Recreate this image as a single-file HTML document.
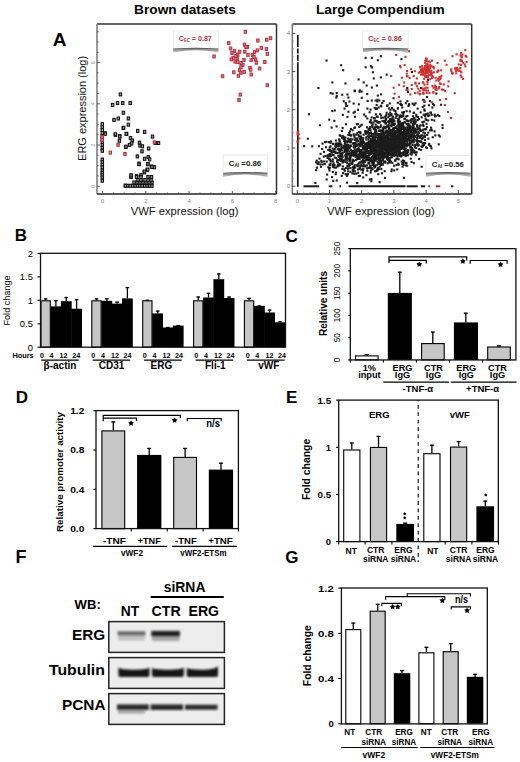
<!DOCTYPE html>
<html><head><meta charset="utf-8"><style>
html,body{margin:0;padding:0;background:#fff;}
svg{display:block;font-family:"Liberation Sans", sans-serif;}
</style></head><body>
<svg width="520" height="762" viewBox="0 0 520 762">
<rect width="520" height="762" fill="#fff"/>
<text x="59.5" y="46.0" font-size="19" font-weight="bold" text-anchor="middle" fill="#000" >A</text>
<text x="185.0" y="13.6" font-size="13" font-weight="bold" text-anchor="middle" fill="#000" textLength="101.8" lengthAdjust="spacingAndGlyphs" >Brown datasets</text>
<text x="380.3" y="13.8" font-size="13" font-weight="bold" text-anchor="middle" fill="#000" textLength="128.6" lengthAdjust="spacingAndGlyphs" >Large Compendium</text>
<line x1="97.0" y1="24.0" x2="276.5" y2="24.0" stroke="#333" stroke-width="1.5" />
<line x1="276.5" y1="24.0" x2="276.5" y2="194.0" stroke="#333" stroke-width="1.5" />
<line x1="97.0" y1="24.0" x2="97.0" y2="194.0" stroke="#777" stroke-width="1.5" />
<line x1="97.0" y1="194.0" x2="276.5" y2="194.0" stroke="#222" stroke-width="1.6" />
<line x1="97.0" y1="186.2" x2="100.0" y2="186.2" stroke="#444" stroke-width="0.8" />
<line x1="97.0" y1="175.9" x2="98.6" y2="175.9" stroke="#444" stroke-width="0.8" />
<line x1="97.0" y1="165.6" x2="98.6" y2="165.6" stroke="#444" stroke-width="0.8" />
<line x1="97.0" y1="155.3" x2="98.6" y2="155.3" stroke="#444" stroke-width="0.8" />
<line x1="97.0" y1="145.0" x2="100.0" y2="145.0" stroke="#444" stroke-width="0.8" />
<line x1="97.0" y1="134.7" x2="98.6" y2="134.7" stroke="#444" stroke-width="0.8" />
<line x1="97.0" y1="124.4" x2="98.6" y2="124.4" stroke="#444" stroke-width="0.8" />
<line x1="97.0" y1="114.1" x2="98.6" y2="114.1" stroke="#444" stroke-width="0.8" />
<line x1="97.0" y1="103.8" x2="100.0" y2="103.8" stroke="#444" stroke-width="0.8" />
<line x1="97.0" y1="93.5" x2="98.6" y2="93.5" stroke="#444" stroke-width="0.8" />
<line x1="97.0" y1="83.2" x2="98.6" y2="83.2" stroke="#444" stroke-width="0.8" />
<line x1="97.0" y1="72.9" x2="98.6" y2="72.9" stroke="#444" stroke-width="0.8" />
<line x1="97.0" y1="62.6" x2="100.0" y2="62.6" stroke="#444" stroke-width="0.8" />
<line x1="97.0" y1="52.3" x2="98.6" y2="52.3" stroke="#444" stroke-width="0.8" />
<line x1="97.0" y1="42.0" x2="98.6" y2="42.0" stroke="#444" stroke-width="0.8" />
<line x1="97.0" y1="31.7" x2="98.6" y2="31.7" stroke="#444" stroke-width="0.8" />
<text x="94.6" y="186.2" font-size="5.5" font-weight="normal" text-anchor="middle" fill="#999" transform="rotate(-90 94.6 186.2)" >0</text>
<text x="94.6" y="145.0" font-size="5.5" font-weight="normal" text-anchor="middle" fill="#999" transform="rotate(-90 94.6 145.0)" >2</text>
<text x="94.6" y="103.8" font-size="5.5" font-weight="normal" text-anchor="middle" fill="#999" transform="rotate(-90 94.6 103.8)" >4</text>
<text x="94.6" y="62.6" font-size="5.5" font-weight="normal" text-anchor="middle" fill="#999" transform="rotate(-90 94.6 62.6)" >6</text>
<line x1="102.5" y1="194.0" x2="102.5" y2="191.0" stroke="#444" stroke-width="0.8" />
<line x1="113.3" y1="194.0" x2="113.3" y2="192.4" stroke="#444" stroke-width="0.8" />
<line x1="124.2" y1="194.0" x2="124.2" y2="192.4" stroke="#444" stroke-width="0.8" />
<line x1="135.0" y1="194.0" x2="135.0" y2="192.4" stroke="#444" stroke-width="0.8" />
<line x1="145.8" y1="194.0" x2="145.8" y2="191.0" stroke="#444" stroke-width="0.8" />
<line x1="156.6" y1="194.0" x2="156.6" y2="192.4" stroke="#444" stroke-width="0.8" />
<line x1="167.4" y1="194.0" x2="167.4" y2="192.4" stroke="#444" stroke-width="0.8" />
<line x1="178.3" y1="194.0" x2="178.3" y2="192.4" stroke="#444" stroke-width="0.8" />
<line x1="189.1" y1="194.0" x2="189.1" y2="191.0" stroke="#444" stroke-width="0.8" />
<line x1="199.9" y1="194.0" x2="199.9" y2="192.4" stroke="#444" stroke-width="0.8" />
<line x1="210.8" y1="194.0" x2="210.8" y2="192.4" stroke="#444" stroke-width="0.8" />
<line x1="221.6" y1="194.0" x2="221.6" y2="192.4" stroke="#444" stroke-width="0.8" />
<line x1="232.4" y1="194.0" x2="232.4" y2="191.0" stroke="#444" stroke-width="0.8" />
<line x1="243.2" y1="194.0" x2="243.2" y2="192.4" stroke="#444" stroke-width="0.8" />
<line x1="254.0" y1="194.0" x2="254.0" y2="192.4" stroke="#444" stroke-width="0.8" />
<line x1="264.9" y1="194.0" x2="264.9" y2="192.4" stroke="#444" stroke-width="0.8" />
<line x1="275.7" y1="194.0" x2="275.7" y2="191.0" stroke="#444" stroke-width="0.8" />
<text x="102.5" y="202.6" font-size="6" font-weight="normal" text-anchor="middle" fill="#888" >0</text>
<text x="145.8" y="202.6" font-size="6" font-weight="normal" text-anchor="middle" fill="#888" >2</text>
<text x="189.1" y="202.6" font-size="6" font-weight="normal" text-anchor="middle" fill="#888" >4</text>
<text x="232.4" y="202.6" font-size="6" font-weight="normal" text-anchor="middle" fill="#888" >6</text>
<text x="275.7" y="202.6" font-size="6" font-weight="normal" text-anchor="middle" fill="#888" >8</text>
<text x="184.6" y="215.3" font-size="11.5" font-weight="normal" text-anchor="middle" fill="#111" textLength="107.7" lengthAdjust="spacingAndGlyphs" >VWF expression (log)</text>
<text x="85.8" y="108.4" font-size="11.5" font-weight="normal" text-anchor="middle" fill="#111" textLength="105.0" lengthAdjust="spacingAndGlyphs" transform="rotate(-90 85.8 108.4)" >ERG expression (log)</text>
<g fill="#999" stroke="#111" stroke-width="1.05"><rect x="119.2" y="92.9" width="2.4" height="3"/><rect x="111.4" y="103.4" width="2.4" height="3"/><rect x="116.3" y="101.5" width="2.4" height="3"/><rect x="121.5" y="101.5" width="2.4" height="3"/><rect x="129.0" y="101.5" width="2.4" height="3"/><rect x="122.2" y="111.2" width="2.4" height="3"/><rect x="112.8" y="118.4" width="2.4" height="3"/><rect x="117.1" y="117.0" width="2.4" height="3"/><rect x="127.2" y="117.0" width="2.4" height="3"/><rect x="127.2" y="123.2" width="2.4" height="3"/><rect x="122.1" y="126.5" width="2.4" height="3"/><rect x="114.3" y="133.3" width="2.4" height="3"/><rect x="118.6" y="134.7" width="2.4" height="3"/><rect x="125.4" y="132.5" width="2.4" height="3"/><rect x="129.3" y="136.6" width="2.4" height="3"/><rect x="131.1" y="139.0" width="2.4" height="3"/><rect x="130.4" y="141.9" width="2.4" height="3"/><rect x="128.3" y="143.4" width="2.4" height="3"/><rect x="124.6" y="145.5" width="2.4" height="3"/><rect x="136.5" y="129.4" width="2.4" height="3"/><rect x="143.4" y="130.4" width="2.4" height="3"/><rect x="151.3" y="135.1" width="2.4" height="3"/><rect x="138.3" y="141.2" width="2.4" height="3"/><rect x="138.8" y="144.1" width="2.4" height="3"/><rect x="141.2" y="144.8" width="2.4" height="3"/><rect x="140.8" y="149.8" width="2.4" height="3"/><rect x="147.4" y="147.0" width="2.4" height="3"/><rect x="136.2" y="154.9" width="2.4" height="3"/><rect x="143.4" y="157.3" width="2.4" height="3"/><rect x="147.0" y="155.6" width="2.4" height="3"/><rect x="148.4" y="157.8" width="2.4" height="3"/><rect x="137.9" y="162.1" width="2.4" height="3"/><rect x="146.6" y="162.5" width="2.4" height="3"/><rect x="150.3" y="165.0" width="2.4" height="3"/><rect x="153.2" y="165.7" width="2.4" height="3"/><rect x="146.0" y="168.3" width="2.4" height="3"/><rect x="143.1" y="170.8" width="2.4" height="3"/><rect x="130.1" y="174.1" width="2.4" height="3"/><rect x="135.5" y="174.7" width="2.4" height="3"/><rect x="139.8" y="173.6" width="2.4" height="3"/><rect x="103.7" y="131.8" width="2.4" height="3"/><rect x="101.1" y="122.6" width="2.4" height="3"/><rect x="101.1" y="125.6" width="2.4" height="3"/><rect x="101.1" y="128.5" width="2.4" height="3"/><rect x="101.1" y="131.5" width="2.4" height="3"/><rect x="101.1" y="134.5" width="2.4" height="3"/><rect x="101.1" y="137.4" width="2.4" height="3"/><rect x="101.1" y="140.4" width="2.4" height="3"/><rect x="101.1" y="143.4" width="2.4" height="3"/><rect x="101.1" y="146.3" width="2.4" height="3"/><rect x="101.1" y="149.3" width="2.4" height="3"/><rect x="101.1" y="158.0" width="2.4" height="3"/><rect x="101.1" y="160.6" width="2.4" height="3"/><rect x="101.1" y="163.3" width="2.4" height="3"/><rect x="101.1" y="165.9" width="2.4" height="3"/><rect x="101.1" y="169.1" width="2.4" height="3"/><rect x="101.1" y="171.4" width="2.4" height="3"/><rect x="101.1" y="173.7" width="2.4" height="3"/><rect x="101.1" y="176.0" width="2.4" height="3"/><rect x="101.1" y="179.2" width="2.4" height="3"/><rect x="104.0" y="132.3" width="2.4" height="3"/><rect x="114.1" y="132.8" width="2.4" height="3"/><rect x="118.5" y="135.1" width="2.4" height="3"/><rect x="118.2" y="139.2" width="2.4" height="3"/><rect x="122.4" y="126.3" width="2.4" height="3"/><rect x="125.1" y="132.3" width="2.4" height="3"/><rect x="124.7" y="145.2" width="2.4" height="3"/><rect x="124.2" y="184.2" width="2.4" height="3"/><rect x="154.2" y="141.5" width="2.4" height="3"/><rect x="157.3" y="141.5" width="2.4" height="3"/><rect x="124.3" y="184.3" width="2.4" height="3"/><rect x="126.7" y="184.3" width="2.4" height="3"/><rect x="129.1" y="184.3" width="2.4" height="3"/><rect x="131.5" y="184.3" width="2.4" height="3"/><rect x="133.9" y="184.3" width="2.4" height="3"/><rect x="136.3" y="184.3" width="2.4" height="3"/><rect x="138.7" y="184.3" width="2.4" height="3"/><rect x="141.1" y="184.3" width="2.4" height="3"/><rect x="143.5" y="184.3" width="2.4" height="3"/><rect x="145.9" y="184.3" width="2.4" height="3"/><rect x="148.3" y="184.3" width="2.4" height="3"/><rect x="150.7" y="184.3" width="2.4" height="3"/><rect x="132.8" y="181.0" width="2.4" height="3"/><rect x="135.8" y="181.0" width="2.4" height="3"/><rect x="138.8" y="181.0" width="2.4" height="3"/><rect x="141.8" y="181.0" width="2.4" height="3"/><rect x="144.8" y="181.0" width="2.4" height="3"/><rect x="147.8" y="181.0" width="2.4" height="3"/><rect x="150.8" y="181.0" width="2.4" height="3"/><rect x="136.8" y="178.5" width="2.4" height="3"/><rect x="139.8" y="178.5" width="2.4" height="3"/><rect x="143.8" y="178.5" width="2.4" height="3"/><rect x="146.8" y="178.5" width="2.4" height="3"/><rect x="149.8" y="178.5" width="2.4" height="3"/><rect x="129.8" y="175.5" width="2.4" height="3"/><rect x="135.3" y="175.5" width="2.4" height="3"/><rect x="139.8" y="175.5" width="2.4" height="3"/><rect x="146.8" y="175.5" width="2.4" height="3"/><rect x="150.3" y="175.5" width="2.4" height="3"/><rect x="129.8" y="173.9" width="2.4" height="3"/><rect x="143.3" y="170.0" width="2.4" height="3"/><rect x="146.5" y="168.1" width="2.4" height="3"/><rect x="150.8" y="165.5" width="2.4" height="3"/><rect x="137.8" y="162.7" width="2.4" height="3"/><rect x="146.8" y="162.7" width="2.4" height="3"/></g>
<g fill="#e87080" stroke="#b03040" stroke-width="0.95"><rect x="244.2" y="30.2" width="2.4" height="3"/><rect x="269.4" y="36.7" width="2.4" height="3"/><rect x="265.5" y="38.2" width="2.4" height="3"/><rect x="256.7" y="39.0" width="2.4" height="3"/><rect x="227.5" y="41.6" width="2.4" height="3"/><rect x="243.3" y="43.1" width="2.4" height="3"/><rect x="246.2" y="45.4" width="2.4" height="3"/><rect x="229.4" y="47.0" width="2.4" height="3"/><rect x="260.1" y="46.3" width="2.4" height="3"/><rect x="265.2" y="47.6" width="2.4" height="3"/><rect x="233.3" y="49.6" width="2.4" height="3"/><rect x="238.4" y="50.2" width="2.4" height="3"/><rect x="243.6" y="50.2" width="2.4" height="3"/><rect x="256.2" y="48.9" width="2.4" height="3"/><rect x="253.3" y="50.6" width="2.4" height="3"/><rect x="266.1" y="52.4" width="2.4" height="3"/><rect x="236.5" y="53.2" width="2.4" height="3"/><rect x="246.8" y="53.4" width="2.4" height="3"/><rect x="251.3" y="53.4" width="2.4" height="3"/><rect x="232.0" y="56.3" width="2.4" height="3"/><rect x="235.9" y="56.6" width="2.4" height="3"/><rect x="230.1" y="57.9" width="2.4" height="3"/><rect x="250.0" y="58.6" width="2.4" height="3"/><rect x="254.5" y="57.9" width="2.4" height="3"/><rect x="233.9" y="60.1" width="2.4" height="3"/><rect x="236.5" y="60.5" width="2.4" height="3"/><rect x="263.6" y="60.5" width="2.4" height="3"/><rect x="255.2" y="61.2" width="2.4" height="3"/><rect x="241.7" y="63.5" width="2.4" height="3"/><rect x="239.7" y="65.7" width="2.4" height="3"/><rect x="248.8" y="66.3" width="2.4" height="3"/><rect x="258.4" y="67.0" width="2.4" height="3"/><rect x="238.4" y="68.6" width="2.4" height="3"/><rect x="242.9" y="70.4" width="2.4" height="3"/><rect x="232.6" y="70.8" width="2.4" height="3"/><rect x="249.4" y="68.2" width="2.4" height="3"/><rect x="239.7" y="71.2" width="2.4" height="3"/><rect x="237.2" y="74.3" width="2.4" height="3"/><rect x="250.0" y="73.0" width="2.4" height="3"/><rect x="221.4" y="74.7" width="2.4" height="3"/><rect x="212.9" y="55.0" width="2.4" height="3"/><rect x="266.1" y="83.7" width="2.4" height="3"/><rect x="239.1" y="93.1" width="2.4" height="3"/><rect x="237.8" y="98.5" width="2.4" height="3"/><rect x="234.8" y="54.5" width="2.4" height="3"/><rect x="244.8" y="45.5" width="2.4" height="3"/><rect x="242.8" y="58.5" width="2.4" height="3"/><rect x="239.8" y="61.5" width="2.4" height="3"/><rect x="252.8" y="55.5" width="2.4" height="3"/><rect x="230.8" y="51.5" width="2.4" height="3"/><rect x="116.9" y="143.3" width="2.4" height="3"/><rect x="109.1" y="151.1" width="2.4" height="3"/><rect x="123.8" y="152.5" width="2.4" height="3"/><rect x="153.2" y="140.9" width="2.4" height="3"/><rect x="101.1" y="138.5" width="2.4" height="3"/><rect x="101.1" y="135.5" width="2.4" height="3"/></g>
<defs><linearGradient id="sg" x1="0" y1="0" x2="0" y2="1"><stop offset="0" stop-color="#444"/><stop offset="0.35" stop-color="#8a8a8a"/><stop offset="1" stop-color="#d0d0d0"/></linearGradient></defs>
<rect x="173.2" y="31.0" width="45.3" height="17.6" fill="#fff" stroke="#e2e2e2" stroke-width="0.7"/>
<path d="M173.2,48.4 Q195.8,47.0 218.5,48.4 L218.5,52.6 Q195.8,48.0 173.2,52.6 Z" fill="url(#sg)"/>
<text x="195.3" y="41.3" font-size="7.5" font-weight="bold" text-anchor="middle" fill="#b03040" textLength="33.0" lengthAdjust="spacingAndGlyphs">C<tspan font-size="4.5" dy="1">EC</tspan><tspan dy="-1"> = 0.87</tspan></text>
<rect x="223.1" y="155.0" width="44.4" height="17.9" fill="#fff" stroke="#e2e2e2" stroke-width="0.7"/>
<path d="M223.1,172.7 Q245.3,171.3 267.5,172.7 L267.5,176.9 Q245.3,172.3 223.1,176.9 Z" fill="url(#sg)"/>
<text x="245.0" y="166.3" font-size="7.5" font-weight="bold" text-anchor="middle" fill="#222" textLength="32.5" lengthAdjust="spacingAndGlyphs">C<tspan font-size="4.5" dy="1">AI</tspan><tspan dy="-1"> =0.86</tspan></text>
<line x1="292.3" y1="24.0" x2="471.7" y2="24.0" stroke="#333" stroke-width="1.5" />
<line x1="471.7" y1="24.0" x2="471.7" y2="194.0" stroke="#333" stroke-width="1.5" />
<line x1="292.3" y1="24.0" x2="292.3" y2="194.0" stroke="#777" stroke-width="1.5" />
<line x1="292.3" y1="194.0" x2="471.7" y2="194.0" stroke="#222" stroke-width="1.6" />
<line x1="292.3" y1="186.2" x2="295.3" y2="186.2" stroke="#333" stroke-width="0.9" />
<line x1="292.3" y1="178.6" x2="293.8" y2="178.6" stroke="#777" stroke-width="0.6" />
<line x1="292.3" y1="170.9" x2="293.8" y2="170.9" stroke="#777" stroke-width="0.6" />
<line x1="292.3" y1="163.3" x2="293.8" y2="163.3" stroke="#777" stroke-width="0.6" />
<line x1="292.3" y1="155.6" x2="293.8" y2="155.6" stroke="#777" stroke-width="0.6" />
<line x1="292.3" y1="148.0" x2="295.3" y2="148.0" stroke="#333" stroke-width="0.9" />
<line x1="292.3" y1="140.4" x2="293.8" y2="140.4" stroke="#777" stroke-width="0.6" />
<line x1="292.3" y1="132.7" x2="293.8" y2="132.7" stroke="#777" stroke-width="0.6" />
<line x1="292.3" y1="125.1" x2="293.8" y2="125.1" stroke="#777" stroke-width="0.6" />
<line x1="292.3" y1="117.4" x2="293.8" y2="117.4" stroke="#777" stroke-width="0.6" />
<line x1="292.3" y1="109.8" x2="295.3" y2="109.8" stroke="#333" stroke-width="0.9" />
<line x1="292.3" y1="102.2" x2="293.8" y2="102.2" stroke="#777" stroke-width="0.6" />
<line x1="292.3" y1="94.5" x2="293.8" y2="94.5" stroke="#777" stroke-width="0.6" />
<line x1="292.3" y1="86.9" x2="293.8" y2="86.9" stroke="#777" stroke-width="0.6" />
<line x1="292.3" y1="79.2" x2="293.8" y2="79.2" stroke="#777" stroke-width="0.6" />
<line x1="292.3" y1="71.6" x2="295.3" y2="71.6" stroke="#333" stroke-width="0.9" />
<line x1="292.3" y1="64.0" x2="293.8" y2="64.0" stroke="#777" stroke-width="0.6" />
<line x1="292.3" y1="56.3" x2="293.8" y2="56.3" stroke="#777" stroke-width="0.6" />
<line x1="292.3" y1="48.7" x2="293.8" y2="48.7" stroke="#777" stroke-width="0.6" />
<line x1="292.3" y1="41.0" x2="293.8" y2="41.0" stroke="#777" stroke-width="0.6" />
<line x1="292.3" y1="33.4" x2="295.3" y2="33.4" stroke="#333" stroke-width="0.9" />
<line x1="292.3" y1="25.8" x2="293.8" y2="25.8" stroke="#777" stroke-width="0.6" />
<text x="288.5" y="188.2" font-size="6" font-weight="normal" text-anchor="middle" fill="#777" >0</text>
<text x="288.5" y="150.0" font-size="6" font-weight="normal" text-anchor="middle" fill="#777" >1</text>
<text x="288.5" y="111.8" font-size="6" font-weight="normal" text-anchor="middle" fill="#777" >2</text>
<text x="288.5" y="73.6" font-size="6" font-weight="normal" text-anchor="middle" fill="#777" >3</text>
<text x="288.5" y="35.4" font-size="6" font-weight="normal" text-anchor="middle" fill="#777" >4</text>
<line x1="297.3" y1="194.0" x2="297.3" y2="190.0" stroke="#333" stroke-width="0.9" />
<line x1="303.7" y1="194.0" x2="303.7" y2="192.0" stroke="#777" stroke-width="0.6" />
<line x1="310.2" y1="194.0" x2="310.2" y2="192.0" stroke="#777" stroke-width="0.6" />
<line x1="316.6" y1="194.0" x2="316.6" y2="192.0" stroke="#777" stroke-width="0.6" />
<line x1="323.1" y1="194.0" x2="323.1" y2="192.0" stroke="#777" stroke-width="0.6" />
<line x1="329.5" y1="194.0" x2="329.5" y2="190.0" stroke="#333" stroke-width="0.9" />
<line x1="335.9" y1="194.0" x2="335.9" y2="192.0" stroke="#777" stroke-width="0.6" />
<line x1="342.4" y1="194.0" x2="342.4" y2="192.0" stroke="#777" stroke-width="0.6" />
<line x1="348.8" y1="194.0" x2="348.8" y2="192.0" stroke="#777" stroke-width="0.6" />
<line x1="355.3" y1="194.0" x2="355.3" y2="192.0" stroke="#777" stroke-width="0.6" />
<line x1="361.7" y1="194.0" x2="361.7" y2="190.0" stroke="#333" stroke-width="0.9" />
<line x1="368.1" y1="194.0" x2="368.1" y2="192.0" stroke="#777" stroke-width="0.6" />
<line x1="374.6" y1="194.0" x2="374.6" y2="192.0" stroke="#777" stroke-width="0.6" />
<line x1="381.0" y1="194.0" x2="381.0" y2="192.0" stroke="#777" stroke-width="0.6" />
<line x1="387.5" y1="194.0" x2="387.5" y2="192.0" stroke="#777" stroke-width="0.6" />
<line x1="393.9" y1="194.0" x2="393.9" y2="190.0" stroke="#333" stroke-width="0.9" />
<line x1="400.3" y1="194.0" x2="400.3" y2="192.0" stroke="#777" stroke-width="0.6" />
<line x1="406.8" y1="194.0" x2="406.8" y2="192.0" stroke="#777" stroke-width="0.6" />
<line x1="413.2" y1="194.0" x2="413.2" y2="192.0" stroke="#777" stroke-width="0.6" />
<line x1="419.7" y1="194.0" x2="419.7" y2="192.0" stroke="#777" stroke-width="0.6" />
<line x1="426.1" y1="194.0" x2="426.1" y2="190.0" stroke="#333" stroke-width="0.9" />
<line x1="432.5" y1="194.0" x2="432.5" y2="192.0" stroke="#777" stroke-width="0.6" />
<line x1="439.0" y1="194.0" x2="439.0" y2="192.0" stroke="#777" stroke-width="0.6" />
<line x1="445.4" y1="194.0" x2="445.4" y2="192.0" stroke="#777" stroke-width="0.6" />
<line x1="451.9" y1="194.0" x2="451.9" y2="192.0" stroke="#777" stroke-width="0.6" />
<line x1="458.3" y1="194.0" x2="458.3" y2="190.0" stroke="#333" stroke-width="0.9" />
<line x1="464.7" y1="194.0" x2="464.7" y2="192.0" stroke="#777" stroke-width="0.6" />
<text x="297.3" y="202.6" font-size="6" font-weight="normal" text-anchor="middle" fill="#888" >0</text>
<text x="329.5" y="202.6" font-size="6" font-weight="normal" text-anchor="middle" fill="#888" >1</text>
<text x="361.7" y="202.6" font-size="6" font-weight="normal" text-anchor="middle" fill="#888" >2</text>
<text x="393.9" y="202.6" font-size="6" font-weight="normal" text-anchor="middle" fill="#888" >3</text>
<text x="426.1" y="202.6" font-size="6" font-weight="normal" text-anchor="middle" fill="#888" >4</text>
<text x="458.3" y="202.6" font-size="6" font-weight="normal" text-anchor="middle" fill="#888" >5</text>
<text x="380.8" y="215.3" font-size="11.5" font-weight="normal" text-anchor="middle" fill="#111" textLength="107.7" lengthAdjust="spacingAndGlyphs" >VWF expression (log)</text>
<line x1="297.8" y1="35.0" x2="297.8" y2="186.8" stroke="#151515" stroke-width="1.7" stroke-dasharray="12,1.5,5,1.2,6,1.5,140"/>
<line x1="303.5" y1="186.3" x2="319.1" y2="186.3" stroke="#1a1a1a" stroke-width="2.0" />
<line x1="328.7" y1="186.3" x2="332.4" y2="186.3" stroke="#1a1a1a" stroke-width="2.0" />
<line x1="339.3" y1="186.3" x2="341.0" y2="186.3" stroke="#1a1a1a" stroke-width="2.0" />
<line x1="348.5" y1="186.3" x2="405.5" y2="186.3" stroke="#1a1a1a" stroke-width="2.0" />
<line x1="406.6" y1="186.3" x2="417.7" y2="186.3" stroke="#1a1a1a" stroke-width="2.0" />
<line x1="420.8" y1="186.3" x2="425.2" y2="186.3" stroke="#1a1a1a" stroke-width="2.0" />
<line x1="428.4" y1="186.3" x2="429.8" y2="186.3" stroke="#1a1a1a" stroke-width="2.0" />
<line x1="451.0" y1="186.3" x2="453.3" y2="186.3" stroke="#1a1a1a" stroke-width="2.0" />
<line x1="435.7" y1="186.3" x2="440.2" y2="186.3" stroke="#a03030" stroke-width="2.0" />
<g fill="#1c1c1c"><rect x="381.3" y="150.9" width="2.1" height="2.1"/><rect x="378.5" y="142.7" width="2.1" height="2.1"/><rect x="365.9" y="149.1" width="2.1" height="2.1"/><rect x="406.2" y="139.4" width="2.1" height="2.1"/><rect x="404.1" y="138.3" width="2.1" height="2.1"/><rect x="392.0" y="142.7" width="2.1" height="2.1"/><rect x="356.7" y="165.1" width="2.1" height="2.1"/><rect x="395.3" y="144.9" width="2.1" height="2.1"/><rect x="345.7" y="140.2" width="2.1" height="2.1"/><rect x="365.6" y="146.3" width="2.1" height="2.1"/><rect x="389.4" y="141.1" width="2.1" height="2.1"/><rect x="390.9" y="133.7" width="2.1" height="2.1"/><rect x="391.2" y="145.4" width="2.1" height="2.1"/><rect x="378.7" y="165.7" width="2.1" height="2.1"/><rect x="399.1" y="151.2" width="2.1" height="2.1"/><rect x="369.5" y="141.6" width="2.1" height="2.1"/><rect x="377.2" y="145.6" width="2.1" height="2.1"/><rect x="396.6" y="141.5" width="2.1" height="2.1"/><rect x="371.8" y="138.2" width="2.1" height="2.1"/><rect x="379.3" y="159.8" width="2.1" height="2.1"/><rect x="370.0" y="152.6" width="2.1" height="2.1"/><rect x="385.8" y="126.2" width="2.1" height="2.1"/><rect x="390.2" y="156.2" width="2.1" height="2.1"/><rect x="345.5" y="156.4" width="2.1" height="2.1"/><rect x="378.7" y="136.9" width="2.1" height="2.1"/><rect x="392.9" y="139.5" width="2.1" height="2.1"/><rect x="360.3" y="163.3" width="2.1" height="2.1"/><rect x="400.1" y="147.9" width="2.1" height="2.1"/><rect x="412.0" y="136.3" width="2.1" height="2.1"/><rect x="380.9" y="130.4" width="2.1" height="2.1"/><rect x="392.8" y="133.3" width="2.1" height="2.1"/><rect x="370.5" y="135.2" width="2.1" height="2.1"/><rect x="363.9" y="146.3" width="2.1" height="2.1"/><rect x="399.5" y="114.3" width="2.1" height="2.1"/><rect x="358.0" y="157.6" width="2.1" height="2.1"/><rect x="412.9" y="138.4" width="2.1" height="2.1"/><rect x="338.7" y="134.3" width="2.1" height="2.1"/><rect x="387.5" y="134.1" width="2.1" height="2.1"/><rect x="367.3" y="162.1" width="2.1" height="2.1"/><rect x="404.9" y="136.9" width="2.1" height="2.1"/><rect x="390.2" y="146.3" width="2.1" height="2.1"/><rect x="415.9" y="137.6" width="2.1" height="2.1"/><rect x="395.7" y="145.2" width="2.1" height="2.1"/><rect x="360.2" y="168.5" width="2.1" height="2.1"/><rect x="403.7" y="141.7" width="2.1" height="2.1"/><rect x="345.0" y="153.1" width="2.1" height="2.1"/><rect x="392.1" y="119.9" width="2.1" height="2.1"/><rect x="384.7" y="155.2" width="2.1" height="2.1"/><rect x="366.3" y="169.7" width="2.1" height="2.1"/><rect x="393.5" y="138.2" width="2.1" height="2.1"/><rect x="392.6" y="147.7" width="2.1" height="2.1"/><rect x="390.8" y="154.1" width="2.1" height="2.1"/><rect x="370.1" y="145.1" width="2.1" height="2.1"/><rect x="403.3" y="136.1" width="2.1" height="2.1"/><rect x="371.6" y="159.9" width="2.1" height="2.1"/><rect x="409.2" y="128.3" width="2.1" height="2.1"/><rect x="358.0" y="153.3" width="2.1" height="2.1"/><rect x="380.0" y="142.2" width="2.1" height="2.1"/><rect x="405.7" y="123.1" width="2.1" height="2.1"/><rect x="402.0" y="121.9" width="2.1" height="2.1"/><rect x="372.0" y="156.2" width="2.1" height="2.1"/><rect x="408.3" y="143.5" width="2.1" height="2.1"/><rect x="390.9" y="142.7" width="2.1" height="2.1"/><rect x="389.1" y="148.3" width="2.1" height="2.1"/><rect x="381.8" y="148.0" width="2.1" height="2.1"/><rect x="394.5" y="139.5" width="2.1" height="2.1"/><rect x="400.3" y="143.5" width="2.1" height="2.1"/><rect x="422.3" y="131.5" width="2.1" height="2.1"/><rect x="374.6" y="143.7" width="2.1" height="2.1"/><rect x="387.5" y="153.0" width="2.1" height="2.1"/><rect x="379.3" y="150.3" width="2.1" height="2.1"/><rect x="407.4" y="104.9" width="2.1" height="2.1"/><rect x="364.2" y="155.0" width="2.1" height="2.1"/><rect x="392.3" y="143.2" width="2.1" height="2.1"/><rect x="378.7" y="153.6" width="2.1" height="2.1"/><rect x="387.0" y="136.7" width="2.1" height="2.1"/><rect x="430.2" y="128.6" width="2.1" height="2.1"/><rect x="373.3" y="147.3" width="2.1" height="2.1"/><rect x="379.5" y="145.1" width="2.1" height="2.1"/><rect x="331.7" y="160.4" width="2.1" height="2.1"/><rect x="397.8" y="124.8" width="2.1" height="2.1"/><rect x="386.6" y="153.7" width="2.1" height="2.1"/><rect x="405.8" y="151.8" width="2.1" height="2.1"/><rect x="351.1" y="153.7" width="2.1" height="2.1"/><rect x="380.2" y="152.6" width="2.1" height="2.1"/><rect x="393.2" y="109.5" width="2.1" height="2.1"/><rect x="398.1" y="121.5" width="2.1" height="2.1"/><rect x="390.5" y="124.2" width="2.1" height="2.1"/><rect x="392.1" y="154.2" width="2.1" height="2.1"/><rect x="382.0" y="147.0" width="2.1" height="2.1"/><rect x="399.2" y="139.1" width="2.1" height="2.1"/><rect x="388.6" y="159.5" width="2.1" height="2.1"/><rect x="402.1" y="133.0" width="2.1" height="2.1"/><rect x="429.9" y="111.6" width="2.1" height="2.1"/><rect x="399.7" y="134.3" width="2.1" height="2.1"/><rect x="389.3" y="149.7" width="2.1" height="2.1"/><rect x="390.6" y="148.4" width="2.1" height="2.1"/><rect x="349.6" y="141.2" width="2.1" height="2.1"/><rect x="391.4" y="129.9" width="2.1" height="2.1"/><rect x="359.0" y="137.7" width="2.1" height="2.1"/><rect x="410.3" y="141.4" width="2.1" height="2.1"/><rect x="407.3" y="123.5" width="2.1" height="2.1"/><rect x="379.3" y="132.9" width="2.1" height="2.1"/><rect x="404.5" y="153.4" width="2.1" height="2.1"/><rect x="373.9" y="165.9" width="2.1" height="2.1"/><rect x="401.4" y="134.6" width="2.1" height="2.1"/><rect x="353.3" y="172.8" width="2.1" height="2.1"/><rect x="379.7" y="138.9" width="2.1" height="2.1"/><rect x="393.0" y="144.8" width="2.1" height="2.1"/><rect x="407.4" y="122.5" width="2.1" height="2.1"/><rect x="410.9" y="149.5" width="2.1" height="2.1"/><rect x="410.0" y="131.0" width="2.1" height="2.1"/><rect x="374.4" y="159.6" width="2.1" height="2.1"/><rect x="386.6" y="144.3" width="2.1" height="2.1"/><rect x="409.1" y="130.4" width="2.1" height="2.1"/><rect x="340.0" y="158.0" width="2.1" height="2.1"/><rect x="353.1" y="166.2" width="2.1" height="2.1"/><rect x="387.3" y="135.6" width="2.1" height="2.1"/><rect x="387.2" y="152.1" width="2.1" height="2.1"/><rect x="390.8" y="156.2" width="2.1" height="2.1"/><rect x="387.0" y="154.5" width="2.1" height="2.1"/><rect x="418.0" y="148.0" width="2.1" height="2.1"/><rect x="375.1" y="157.7" width="2.1" height="2.1"/><rect x="345.0" y="148.0" width="2.1" height="2.1"/><rect x="352.1" y="169.5" width="2.1" height="2.1"/><rect x="361.2" y="153.4" width="2.1" height="2.1"/><rect x="380.3" y="145.2" width="2.1" height="2.1"/><rect x="374.0" y="150.8" width="2.1" height="2.1"/><rect x="417.2" y="130.5" width="2.1" height="2.1"/><rect x="397.8" y="149.5" width="2.1" height="2.1"/><rect x="375.2" y="133.3" width="2.1" height="2.1"/><rect x="378.1" y="158.6" width="2.1" height="2.1"/><rect x="351.2" y="150.9" width="2.1" height="2.1"/><rect x="405.7" y="143.8" width="2.1" height="2.1"/><rect x="387.4" y="151.7" width="2.1" height="2.1"/><rect x="382.2" y="131.3" width="2.1" height="2.1"/><rect x="352.5" y="149.9" width="2.1" height="2.1"/><rect x="398.7" y="131.3" width="2.1" height="2.1"/><rect x="364.2" y="143.5" width="2.1" height="2.1"/><rect x="355.2" y="154.7" width="2.1" height="2.1"/><rect x="363.7" y="156.6" width="2.1" height="2.1"/><rect x="341.8" y="165.4" width="2.1" height="2.1"/><rect x="364.2" y="130.1" width="2.1" height="2.1"/><rect x="396.2" y="135.7" width="2.1" height="2.1"/><rect x="339.3" y="152.7" width="2.1" height="2.1"/><rect x="387.5" y="137.3" width="2.1" height="2.1"/><rect x="401.4" y="145.1" width="2.1" height="2.1"/><rect x="397.6" y="142.0" width="2.1" height="2.1"/><rect x="411.2" y="140.0" width="2.1" height="2.1"/><rect x="383.8" y="120.3" width="2.1" height="2.1"/><rect x="405.8" y="149.7" width="2.1" height="2.1"/><rect x="376.6" y="141.7" width="2.1" height="2.1"/><rect x="412.6" y="111.9" width="2.1" height="2.1"/><rect x="402.5" y="163.8" width="2.1" height="2.1"/><rect x="369.6" y="157.8" width="2.1" height="2.1"/><rect x="418.2" y="128.2" width="2.1" height="2.1"/><rect x="398.0" y="148.3" width="2.1" height="2.1"/><rect x="366.9" y="150.1" width="2.1" height="2.1"/><rect x="392.7" y="149.7" width="2.1" height="2.1"/><rect x="382.5" y="142.3" width="2.1" height="2.1"/><rect x="363.8" y="148.3" width="2.1" height="2.1"/><rect x="400.8" y="138.0" width="2.1" height="2.1"/><rect x="364.8" y="142.4" width="2.1" height="2.1"/><rect x="437.8" y="134.3" width="2.1" height="2.1"/><rect x="385.2" y="113.9" width="2.1" height="2.1"/><rect x="397.4" y="143.8" width="2.1" height="2.1"/><rect x="416.7" y="135.0" width="2.1" height="2.1"/><rect x="384.8" y="149.5" width="2.1" height="2.1"/><rect x="352.3" y="169.0" width="2.1" height="2.1"/><rect x="387.1" y="134.6" width="2.1" height="2.1"/><rect x="415.7" y="151.2" width="2.1" height="2.1"/><rect x="355.4" y="148.4" width="2.1" height="2.1"/><rect x="390.1" y="143.5" width="2.1" height="2.1"/><rect x="372.6" y="137.6" width="2.1" height="2.1"/><rect x="427.3" y="137.6" width="2.1" height="2.1"/><rect x="356.5" y="140.2" width="2.1" height="2.1"/><rect x="419.4" y="140.3" width="2.1" height="2.1"/><rect x="420.8" y="137.7" width="2.1" height="2.1"/><rect x="368.9" y="153.2" width="2.1" height="2.1"/><rect x="341.1" y="153.4" width="2.1" height="2.1"/><rect x="385.0" y="149.5" width="2.1" height="2.1"/><rect x="370.0" y="148.4" width="2.1" height="2.1"/><rect x="393.9" y="144.0" width="2.1" height="2.1"/><rect x="396.6" y="141.0" width="2.1" height="2.1"/><rect x="381.2" y="154.1" width="2.1" height="2.1"/><rect x="381.5" y="135.6" width="2.1" height="2.1"/><rect x="372.4" y="148.8" width="2.1" height="2.1"/><rect x="382.6" y="146.3" width="2.1" height="2.1"/><rect x="384.7" y="145.7" width="2.1" height="2.1"/><rect x="376.4" y="132.8" width="2.1" height="2.1"/><rect x="396.0" y="150.9" width="2.1" height="2.1"/><rect x="391.2" y="138.8" width="2.1" height="2.1"/><rect x="388.3" y="131.1" width="2.1" height="2.1"/><rect x="349.2" y="159.2" width="2.1" height="2.1"/><rect x="369.8" y="158.3" width="2.1" height="2.1"/><rect x="353.3" y="126.9" width="2.1" height="2.1"/><rect x="371.2" y="167.3" width="2.1" height="2.1"/><rect x="371.3" y="133.6" width="2.1" height="2.1"/><rect x="372.0" y="154.9" width="2.1" height="2.1"/><rect x="393.8" y="141.8" width="2.1" height="2.1"/><rect x="414.2" y="139.3" width="2.1" height="2.1"/><rect x="386.0" y="149.9" width="2.1" height="2.1"/><rect x="418.4" y="140.5" width="2.1" height="2.1"/><rect x="398.4" y="125.5" width="2.1" height="2.1"/><rect x="384.2" y="152.2" width="2.1" height="2.1"/><rect x="382.8" y="156.6" width="2.1" height="2.1"/><rect x="398.6" y="148.1" width="2.1" height="2.1"/><rect x="390.4" y="170.2" width="2.1" height="2.1"/><rect x="405.9" y="132.3" width="2.1" height="2.1"/><rect x="396.2" y="168.4" width="2.1" height="2.1"/><rect x="381.2" y="155.1" width="2.1" height="2.1"/><rect x="402.1" y="136.4" width="2.1" height="2.1"/><rect x="363.2" y="154.8" width="2.1" height="2.1"/><rect x="395.2" y="152.1" width="2.1" height="2.1"/><rect x="398.5" y="138.1" width="2.1" height="2.1"/><rect x="401.9" y="142.6" width="2.1" height="2.1"/><rect x="388.0" y="142.9" width="2.1" height="2.1"/><rect x="382.3" y="152.5" width="2.1" height="2.1"/><rect x="362.0" y="146.0" width="2.1" height="2.1"/><rect x="378.1" y="129.7" width="2.1" height="2.1"/><rect x="367.7" y="127.9" width="2.1" height="2.1"/><rect x="373.7" y="154.7" width="2.1" height="2.1"/><rect x="394.2" y="139.0" width="2.1" height="2.1"/><rect x="373.9" y="132.0" width="2.1" height="2.1"/><rect x="419.8" y="134.8" width="2.1" height="2.1"/><rect x="400.5" y="126.9" width="2.1" height="2.1"/><rect x="373.1" y="127.8" width="2.1" height="2.1"/><rect x="402.1" y="147.0" width="2.1" height="2.1"/><rect x="348.8" y="158.1" width="2.1" height="2.1"/><rect x="388.4" y="122.0" width="2.1" height="2.1"/><rect x="346.0" y="147.8" width="2.1" height="2.1"/><rect x="366.6" y="135.2" width="2.1" height="2.1"/><rect x="385.5" y="146.1" width="2.1" height="2.1"/><rect x="398.5" y="145.8" width="2.1" height="2.1"/><rect x="416.4" y="143.6" width="2.1" height="2.1"/><rect x="357.7" y="149.2" width="2.1" height="2.1"/><rect x="360.0" y="141.7" width="2.1" height="2.1"/><rect x="382.5" y="144.6" width="2.1" height="2.1"/><rect x="386.5" y="124.8" width="2.1" height="2.1"/><rect x="361.0" y="153.3" width="2.1" height="2.1"/><rect x="379.0" y="142.5" width="2.1" height="2.1"/><rect x="379.7" y="137.1" width="2.1" height="2.1"/><rect x="398.3" y="141.9" width="2.1" height="2.1"/><rect x="379.6" y="138.1" width="2.1" height="2.1"/><rect x="369.7" y="119.0" width="2.1" height="2.1"/><rect x="366.0" y="151.9" width="2.1" height="2.1"/><rect x="357.0" y="157.5" width="2.1" height="2.1"/><rect x="381.1" y="129.5" width="2.1" height="2.1"/><rect x="378.1" y="142.9" width="2.1" height="2.1"/><rect x="394.9" y="146.3" width="2.1" height="2.1"/><rect x="379.8" y="136.0" width="2.1" height="2.1"/><rect x="381.0" y="144.4" width="2.1" height="2.1"/><rect x="398.7" y="141.1" width="2.1" height="2.1"/><rect x="365.1" y="136.4" width="2.1" height="2.1"/><rect x="374.1" y="139.7" width="2.1" height="2.1"/><rect x="363.0" y="151.4" width="2.1" height="2.1"/><rect x="375.3" y="148.8" width="2.1" height="2.1"/><rect x="391.9" y="135.9" width="2.1" height="2.1"/><rect x="425.5" y="122.8" width="2.1" height="2.1"/><rect x="404.8" y="136.6" width="2.1" height="2.1"/><rect x="394.9" y="112.3" width="2.1" height="2.1"/><rect x="371.1" y="152.2" width="2.1" height="2.1"/><rect x="404.6" y="161.9" width="2.1" height="2.1"/><rect x="395.1" y="153.8" width="2.1" height="2.1"/><rect x="401.9" y="147.2" width="2.1" height="2.1"/><rect x="392.7" y="138.5" width="2.1" height="2.1"/><rect x="389.0" y="129.6" width="2.1" height="2.1"/><rect x="401.6" y="125.0" width="2.1" height="2.1"/><rect x="397.2" y="162.6" width="2.1" height="2.1"/><rect x="379.9" y="145.9" width="2.1" height="2.1"/><rect x="405.5" y="135.2" width="2.1" height="2.1"/><rect x="370.1" y="152.7" width="2.1" height="2.1"/><rect x="397.6" y="146.3" width="2.1" height="2.1"/><rect x="376.8" y="166.9" width="2.1" height="2.1"/><rect x="414.8" y="131.2" width="2.1" height="2.1"/><rect x="387.2" y="137.7" width="2.1" height="2.1"/><rect x="407.2" y="126.2" width="2.1" height="2.1"/><rect x="394.4" y="134.1" width="2.1" height="2.1"/><rect x="374.1" y="156.3" width="2.1" height="2.1"/><rect x="408.5" y="133.5" width="2.1" height="2.1"/><rect x="374.8" y="157.1" width="2.1" height="2.1"/><rect x="384.3" y="147.3" width="2.1" height="2.1"/><rect x="416.6" y="143.1" width="2.1" height="2.1"/><rect x="383.6" y="170.1" width="2.1" height="2.1"/><rect x="387.2" y="151.5" width="2.1" height="2.1"/><rect x="371.8" y="148.5" width="2.1" height="2.1"/><rect x="358.9" y="174.8" width="2.1" height="2.1"/><rect x="404.2" y="121.6" width="2.1" height="2.1"/><rect x="349.6" y="139.9" width="2.1" height="2.1"/><rect x="403.8" y="130.4" width="2.1" height="2.1"/><rect x="381.6" y="141.4" width="2.1" height="2.1"/><rect x="377.3" y="134.4" width="2.1" height="2.1"/><rect x="378.5" y="129.8" width="2.1" height="2.1"/><rect x="383.9" y="147.5" width="2.1" height="2.1"/><rect x="391.6" y="138.1" width="2.1" height="2.1"/><rect x="367.9" y="152.5" width="2.1" height="2.1"/><rect x="381.4" y="162.9" width="2.1" height="2.1"/><rect x="397.6" y="136.9" width="2.1" height="2.1"/><rect x="372.4" y="140.8" width="2.1" height="2.1"/><rect x="365.2" y="147.8" width="2.1" height="2.1"/><rect x="391.5" y="146.7" width="2.1" height="2.1"/><rect x="403.0" y="159.9" width="2.1" height="2.1"/><rect x="371.0" y="149.5" width="2.1" height="2.1"/><rect x="427.9" y="104.2" width="2.1" height="2.1"/><rect x="375.0" y="149.6" width="2.1" height="2.1"/><rect x="388.5" y="146.7" width="2.1" height="2.1"/><rect x="381.0" y="149.3" width="2.1" height="2.1"/><rect x="388.1" y="151.0" width="2.1" height="2.1"/><rect x="345.5" y="150.0" width="2.1" height="2.1"/><rect x="379.7" y="134.0" width="2.1" height="2.1"/><rect x="367.2" y="158.1" width="2.1" height="2.1"/><rect x="374.5" y="155.1" width="2.1" height="2.1"/><rect x="398.9" y="141.1" width="2.1" height="2.1"/><rect x="392.9" y="139.0" width="2.1" height="2.1"/><rect x="357.8" y="154.6" width="2.1" height="2.1"/><rect x="390.2" y="135.3" width="2.1" height="2.1"/><rect x="385.2" y="152.0" width="2.1" height="2.1"/><rect x="370.4" y="156.9" width="2.1" height="2.1"/><rect x="416.0" y="124.2" width="2.1" height="2.1"/><rect x="386.0" y="141.4" width="2.1" height="2.1"/><rect x="413.6" y="135.1" width="2.1" height="2.1"/><rect x="397.7" y="130.3" width="2.1" height="2.1"/><rect x="383.6" y="144.0" width="2.1" height="2.1"/><rect x="357.1" y="171.7" width="2.1" height="2.1"/><rect x="393.4" y="120.1" width="2.1" height="2.1"/><rect x="397.1" y="136.9" width="2.1" height="2.1"/><rect x="393.7" y="144.0" width="2.1" height="2.1"/><rect x="355.4" y="153.5" width="2.1" height="2.1"/><rect x="409.1" y="126.8" width="2.1" height="2.1"/><rect x="359.6" y="138.7" width="2.1" height="2.1"/><rect x="362.8" y="156.7" width="2.1" height="2.1"/><rect x="416.9" y="135.0" width="2.1" height="2.1"/><rect x="397.6" y="163.7" width="2.1" height="2.1"/><rect x="371.6" y="141.4" width="2.1" height="2.1"/><rect x="395.9" y="145.2" width="2.1" height="2.1"/><rect x="360.5" y="140.5" width="2.1" height="2.1"/><rect x="390.3" y="144.1" width="2.1" height="2.1"/><rect x="359.0" y="152.1" width="2.1" height="2.1"/><rect x="375.8" y="152.6" width="2.1" height="2.1"/><rect x="381.4" y="144.0" width="2.1" height="2.1"/><rect x="381.7" y="156.9" width="2.1" height="2.1"/><rect x="408.1" y="129.6" width="2.1" height="2.1"/><rect x="396.5" y="130.1" width="2.1" height="2.1"/><rect x="388.3" y="150.7" width="2.1" height="2.1"/><rect x="410.3" y="128.5" width="2.1" height="2.1"/><rect x="383.4" y="146.4" width="2.1" height="2.1"/><rect x="356.4" y="155.7" width="2.1" height="2.1"/><rect x="373.0" y="152.8" width="2.1" height="2.1"/><rect x="355.1" y="133.6" width="2.1" height="2.1"/><rect x="385.7" y="146.2" width="2.1" height="2.1"/><rect x="377.4" y="156.8" width="2.1" height="2.1"/><rect x="376.5" y="140.2" width="2.1" height="2.1"/><rect x="386.4" y="125.1" width="2.1" height="2.1"/><rect x="371.4" y="149.0" width="2.1" height="2.1"/><rect x="398.9" y="135.8" width="2.1" height="2.1"/><rect x="387.0" y="135.2" width="2.1" height="2.1"/><rect x="396.3" y="157.7" width="2.1" height="2.1"/><rect x="380.9" y="172.2" width="2.1" height="2.1"/><rect x="372.1" y="149.1" width="2.1" height="2.1"/><rect x="391.3" y="152.5" width="2.1" height="2.1"/><rect x="352.6" y="133.2" width="2.1" height="2.1"/><rect x="398.4" y="147.0" width="2.1" height="2.1"/><rect x="406.1" y="164.6" width="2.1" height="2.1"/><rect x="388.8" y="144.8" width="2.1" height="2.1"/><rect x="402.6" y="140.3" width="2.1" height="2.1"/><rect x="409.6" y="119.1" width="2.1" height="2.1"/><rect x="363.0" y="113.5" width="2.1" height="2.1"/><rect x="397.4" y="134.1" width="2.1" height="2.1"/><rect x="409.7" y="157.6" width="2.1" height="2.1"/><rect x="382.8" y="141.5" width="2.1" height="2.1"/><rect x="371.3" y="139.7" width="2.1" height="2.1"/><rect x="374.9" y="155.0" width="2.1" height="2.1"/><rect x="384.9" y="144.3" width="2.1" height="2.1"/><rect x="384.5" y="154.1" width="2.1" height="2.1"/><rect x="392.5" y="138.8" width="2.1" height="2.1"/><rect x="395.6" y="137.3" width="2.1" height="2.1"/><rect x="368.6" y="167.0" width="2.1" height="2.1"/><rect x="388.6" y="131.1" width="2.1" height="2.1"/><rect x="405.2" y="138.9" width="2.1" height="2.1"/><rect x="361.6" y="171.7" width="2.1" height="2.1"/><rect x="393.7" y="150.0" width="2.1" height="2.1"/><rect x="387.0" y="141.0" width="2.1" height="2.1"/><rect x="359.4" y="165.3" width="2.1" height="2.1"/><rect x="383.3" y="140.9" width="2.1" height="2.1"/><rect x="390.7" y="142.0" width="2.1" height="2.1"/><rect x="394.9" y="135.1" width="2.1" height="2.1"/><rect x="374.6" y="123.5" width="2.1" height="2.1"/><rect x="378.9" y="153.8" width="2.1" height="2.1"/><rect x="407.1" y="130.1" width="2.1" height="2.1"/><rect x="388.2" y="160.2" width="2.1" height="2.1"/><rect x="380.9" y="153.6" width="2.1" height="2.1"/><rect x="415.1" y="131.3" width="2.1" height="2.1"/><rect x="403.7" y="127.6" width="2.1" height="2.1"/><rect x="387.5" y="141.6" width="2.1" height="2.1"/><rect x="390.7" y="154.0" width="2.1" height="2.1"/><rect x="425.3" y="119.0" width="2.1" height="2.1"/><rect x="375.4" y="153.2" width="2.1" height="2.1"/><rect x="366.5" y="156.9" width="2.1" height="2.1"/><rect x="393.4" y="136.8" width="2.1" height="2.1"/><rect x="387.4" y="124.8" width="2.1" height="2.1"/><rect x="391.7" y="123.1" width="2.1" height="2.1"/><rect x="368.8" y="144.0" width="2.1" height="2.1"/><rect x="380.0" y="155.4" width="2.1" height="2.1"/><rect x="383.8" y="139.5" width="2.1" height="2.1"/><rect x="400.4" y="155.0" width="2.1" height="2.1"/><rect x="385.6" y="147.4" width="2.1" height="2.1"/><rect x="407.9" y="136.9" width="2.1" height="2.1"/><rect x="370.4" y="178.0" width="2.1" height="2.1"/><rect x="416.6" y="107.6" width="2.1" height="2.1"/><rect x="384.9" y="148.3" width="2.1" height="2.1"/><rect x="404.5" y="142.9" width="2.1" height="2.1"/><rect x="374.6" y="135.9" width="2.1" height="2.1"/><rect x="390.1" y="153.2" width="2.1" height="2.1"/><rect x="359.7" y="142.4" width="2.1" height="2.1"/><rect x="375.6" y="125.4" width="2.1" height="2.1"/><rect x="377.4" y="141.7" width="2.1" height="2.1"/><rect x="389.4" y="133.7" width="2.1" height="2.1"/><rect x="366.1" y="147.0" width="2.1" height="2.1"/><rect x="380.3" y="137.9" width="2.1" height="2.1"/><rect x="387.2" y="151.1" width="2.1" height="2.1"/><rect x="412.7" y="151.3" width="2.1" height="2.1"/><rect x="367.8" y="146.0" width="2.1" height="2.1"/><rect x="345.9" y="181.6" width="2.1" height="2.1"/><rect x="370.5" y="149.2" width="2.1" height="2.1"/><rect x="388.1" y="126.8" width="2.1" height="2.1"/><rect x="392.4" y="140.1" width="2.1" height="2.1"/><rect x="351.5" y="160.9" width="2.1" height="2.1"/><rect x="398.4" y="116.6" width="2.1" height="2.1"/><rect x="399.7" y="139.7" width="2.1" height="2.1"/><rect x="394.5" y="144.5" width="2.1" height="2.1"/><rect x="407.1" y="131.7" width="2.1" height="2.1"/><rect x="398.4" y="133.2" width="2.1" height="2.1"/><rect x="394.1" y="130.4" width="2.1" height="2.1"/><rect x="389.0" y="161.5" width="2.1" height="2.1"/><rect x="391.5" y="139.0" width="2.1" height="2.1"/><rect x="359.6" y="145.2" width="2.1" height="2.1"/><rect x="391.3" y="151.5" width="2.1" height="2.1"/><rect x="393.9" y="145.7" width="2.1" height="2.1"/><rect x="388.7" y="157.4" width="2.1" height="2.1"/><rect x="374.5" y="141.7" width="2.1" height="2.1"/><rect x="400.6" y="137.7" width="2.1" height="2.1"/><rect x="376.5" y="140.5" width="2.1" height="2.1"/><rect x="381.7" y="152.0" width="2.1" height="2.1"/><rect x="385.6" y="129.5" width="2.1" height="2.1"/><rect x="392.5" y="142.4" width="2.1" height="2.1"/><rect x="368.6" y="159.2" width="2.1" height="2.1"/><rect x="377.4" y="142.9" width="2.1" height="2.1"/><rect x="404.0" y="150.6" width="2.1" height="2.1"/><rect x="373.0" y="153.5" width="2.1" height="2.1"/><rect x="377.2" y="173.1" width="2.1" height="2.1"/><rect x="379.7" y="159.3" width="2.1" height="2.1"/><rect x="375.3" y="156.8" width="2.1" height="2.1"/><rect x="414.5" y="102.2" width="2.1" height="2.1"/><rect x="378.0" y="152.2" width="2.1" height="2.1"/><rect x="379.5" y="138.2" width="2.1" height="2.1"/><rect x="424.0" y="128.1" width="2.1" height="2.1"/><rect x="357.1" y="165.0" width="2.1" height="2.1"/><rect x="356.9" y="168.4" width="2.1" height="2.1"/><rect x="373.9" y="149.8" width="2.1" height="2.1"/><rect x="407.7" y="135.3" width="2.1" height="2.1"/><rect x="351.4" y="138.3" width="2.1" height="2.1"/><rect x="408.8" y="142.0" width="2.1" height="2.1"/><rect x="372.4" y="158.6" width="2.1" height="2.1"/><rect x="395.7" y="146.4" width="2.1" height="2.1"/><rect x="341.1" y="158.5" width="2.1" height="2.1"/><rect x="403.5" y="144.1" width="2.1" height="2.1"/><rect x="390.2" y="113.3" width="2.1" height="2.1"/><rect x="389.1" y="147.4" width="2.1" height="2.1"/><rect x="427.1" y="115.0" width="2.1" height="2.1"/><rect x="378.0" y="146.8" width="2.1" height="2.1"/><rect x="398.5" y="132.8" width="2.1" height="2.1"/><rect x="401.9" y="127.4" width="2.1" height="2.1"/><rect x="386.7" y="136.8" width="2.1" height="2.1"/><rect x="384.1" y="136.0" width="2.1" height="2.1"/><rect x="358.9" y="166.9" width="2.1" height="2.1"/><rect x="387.3" y="136.2" width="2.1" height="2.1"/><rect x="391.7" y="152.0" width="2.1" height="2.1"/><rect x="365.5" y="150.5" width="2.1" height="2.1"/><rect x="396.0" y="144.9" width="2.1" height="2.1"/><rect x="369.2" y="126.1" width="2.1" height="2.1"/><rect x="408.2" y="137.5" width="2.1" height="2.1"/><rect x="383.1" y="141.2" width="2.1" height="2.1"/><rect x="387.1" y="137.8" width="2.1" height="2.1"/><rect x="362.0" y="144.7" width="2.1" height="2.1"/><rect x="370.5" y="142.6" width="2.1" height="2.1"/><rect x="365.2" y="159.1" width="2.1" height="2.1"/><rect x="362.5" y="160.5" width="2.1" height="2.1"/><rect x="366.7" y="155.2" width="2.1" height="2.1"/><rect x="410.1" y="135.3" width="2.1" height="2.1"/><rect x="370.7" y="150.1" width="2.1" height="2.1"/><rect x="379.6" y="126.0" width="2.1" height="2.1"/><rect x="373.4" y="150.2" width="2.1" height="2.1"/><rect x="375.6" y="148.4" width="2.1" height="2.1"/><rect x="400.6" y="145.7" width="2.1" height="2.1"/><rect x="403.0" y="142.6" width="2.1" height="2.1"/><rect x="378.6" y="146.0" width="2.1" height="2.1"/><rect x="377.7" y="143.0" width="2.1" height="2.1"/><rect x="373.6" y="128.6" width="2.1" height="2.1"/><rect x="377.7" y="146.3" width="2.1" height="2.1"/><rect x="365.9" y="151.3" width="2.1" height="2.1"/><rect x="392.8" y="138.4" width="2.1" height="2.1"/><rect x="411.6" y="102.6" width="2.1" height="2.1"/><rect x="372.7" y="127.9" width="2.1" height="2.1"/><rect x="412.8" y="162.1" width="2.1" height="2.1"/><rect x="338.3" y="164.6" width="2.1" height="2.1"/><rect x="392.3" y="137.0" width="2.1" height="2.1"/><rect x="385.0" y="118.0" width="2.1" height="2.1"/><rect x="401.2" y="141.0" width="2.1" height="2.1"/><rect x="382.0" y="138.1" width="2.1" height="2.1"/><rect x="393.7" y="134.3" width="2.1" height="2.1"/><rect x="386.0" y="137.3" width="2.1" height="2.1"/><rect x="342.4" y="161.0" width="2.1" height="2.1"/><rect x="390.7" y="149.7" width="2.1" height="2.1"/><rect x="367.7" y="150.4" width="2.1" height="2.1"/><rect x="395.9" y="140.6" width="2.1" height="2.1"/><rect x="415.0" y="153.6" width="2.1" height="2.1"/><rect x="359.4" y="132.4" width="2.1" height="2.1"/><rect x="406.0" y="152.1" width="2.1" height="2.1"/><rect x="404.3" y="144.7" width="2.1" height="2.1"/><rect x="369.6" y="141.8" width="2.1" height="2.1"/><rect x="396.6" y="128.2" width="2.1" height="2.1"/><rect x="346.5" y="148.3" width="2.1" height="2.1"/><rect x="437.7" y="143.3" width="2.1" height="2.1"/><rect x="368.3" y="142.2" width="2.1" height="2.1"/><rect x="385.2" y="134.9" width="2.1" height="2.1"/><rect x="407.8" y="133.0" width="2.1" height="2.1"/><rect x="369.2" y="165.0" width="2.1" height="2.1"/><rect x="374.1" y="150.6" width="2.1" height="2.1"/><rect x="382.4" y="141.0" width="2.1" height="2.1"/><rect x="387.1" y="134.7" width="2.1" height="2.1"/><rect x="341.0" y="136.9" width="2.1" height="2.1"/><rect x="357.5" y="146.4" width="2.1" height="2.1"/><rect x="383.8" y="144.7" width="2.1" height="2.1"/><rect x="394.7" y="140.8" width="2.1" height="2.1"/><rect x="366.4" y="143.2" width="2.1" height="2.1"/><rect x="344.2" y="158.7" width="2.1" height="2.1"/><rect x="395.0" y="145.3" width="2.1" height="2.1"/><rect x="381.0" y="143.2" width="2.1" height="2.1"/><rect x="401.3" y="136.8" width="2.1" height="2.1"/><rect x="399.9" y="143.9" width="2.1" height="2.1"/><rect x="393.2" y="154.9" width="2.1" height="2.1"/><rect x="371.9" y="144.9" width="2.1" height="2.1"/><rect x="365.8" y="142.5" width="2.1" height="2.1"/><rect x="419.8" y="148.9" width="2.1" height="2.1"/><rect x="386.7" y="149.3" width="2.1" height="2.1"/><rect x="408.9" y="142.7" width="2.1" height="2.1"/><rect x="401.0" y="122.4" width="2.1" height="2.1"/><rect x="374.0" y="153.3" width="2.1" height="2.1"/><rect x="410.8" y="133.8" width="2.1" height="2.1"/><rect x="366.7" y="147.2" width="2.1" height="2.1"/><rect x="368.3" y="140.8" width="2.1" height="2.1"/><rect x="409.1" y="126.3" width="2.1" height="2.1"/><rect x="393.1" y="164.7" width="2.1" height="2.1"/><rect x="407.2" y="138.0" width="2.1" height="2.1"/><rect x="374.3" y="152.7" width="2.1" height="2.1"/><rect x="416.4" y="137.4" width="2.1" height="2.1"/><rect x="407.6" y="135.1" width="2.1" height="2.1"/><rect x="392.7" y="138.0" width="2.1" height="2.1"/><rect x="397.1" y="153.2" width="2.1" height="2.1"/><rect x="357.3" y="154.4" width="2.1" height="2.1"/><rect x="386.1" y="136.6" width="2.1" height="2.1"/><rect x="381.5" y="154.0" width="2.1" height="2.1"/><rect x="423.4" y="134.5" width="2.1" height="2.1"/><rect x="383.7" y="126.4" width="2.1" height="2.1"/><rect x="419.8" y="129.8" width="2.1" height="2.1"/><rect x="378.8" y="133.4" width="2.1" height="2.1"/><rect x="378.4" y="133.8" width="2.1" height="2.1"/><rect x="387.2" y="147.9" width="2.1" height="2.1"/><rect x="385.7" y="146.4" width="2.1" height="2.1"/><rect x="374.1" y="164.4" width="2.1" height="2.1"/><rect x="364.5" y="131.4" width="2.1" height="2.1"/><rect x="377.4" y="138.0" width="2.1" height="2.1"/><rect x="363.9" y="148.3" width="2.1" height="2.1"/><rect x="384.5" y="130.3" width="2.1" height="2.1"/><rect x="387.2" y="158.8" width="2.1" height="2.1"/><rect x="395.9" y="137.2" width="2.1" height="2.1"/><rect x="385.8" y="141.8" width="2.1" height="2.1"/><rect x="386.0" y="151.4" width="2.1" height="2.1"/><rect x="372.5" y="121.4" width="2.1" height="2.1"/><rect x="379.9" y="135.5" width="2.1" height="2.1"/><rect x="393.5" y="133.0" width="2.1" height="2.1"/><rect x="395.5" y="163.9" width="2.1" height="2.1"/><rect x="360.1" y="141.2" width="2.1" height="2.1"/><rect x="348.2" y="131.7" width="2.1" height="2.1"/><rect x="350.8" y="162.0" width="2.1" height="2.1"/><rect x="364.6" y="130.8" width="2.1" height="2.1"/><rect x="359.1" y="161.4" width="2.1" height="2.1"/><rect x="368.2" y="146.4" width="2.1" height="2.1"/><rect x="395.6" y="154.5" width="2.1" height="2.1"/><rect x="423.9" y="138.9" width="2.1" height="2.1"/><rect x="387.3" y="144.6" width="2.1" height="2.1"/><rect x="423.0" y="143.8" width="2.1" height="2.1"/><rect x="380.1" y="150.8" width="2.1" height="2.1"/><rect x="389.5" y="142.2" width="2.1" height="2.1"/><rect x="369.3" y="135.0" width="2.1" height="2.1"/><rect x="367.8" y="133.1" width="2.1" height="2.1"/><rect x="408.7" y="139.7" width="2.1" height="2.1"/><rect x="367.4" y="166.8" width="2.1" height="2.1"/><rect x="392.6" y="118.6" width="2.1" height="2.1"/><rect x="421.2" y="137.5" width="2.1" height="2.1"/><rect x="417.0" y="116.0" width="2.1" height="2.1"/><rect x="395.5" y="143.9" width="2.1" height="2.1"/><rect x="388.4" y="144.0" width="2.1" height="2.1"/><rect x="397.3" y="121.3" width="2.1" height="2.1"/><rect x="355.4" y="140.1" width="2.1" height="2.1"/><rect x="371.2" y="142.4" width="2.1" height="2.1"/><rect x="391.8" y="143.7" width="2.1" height="2.1"/><rect x="381.8" y="137.2" width="2.1" height="2.1"/><rect x="379.7" y="156.6" width="2.1" height="2.1"/><rect x="398.4" y="139.0" width="2.1" height="2.1"/><rect x="384.3" y="161.5" width="2.1" height="2.1"/><rect x="375.6" y="154.8" width="2.1" height="2.1"/><rect x="404.1" y="132.4" width="2.1" height="2.1"/><rect x="394.6" y="126.8" width="2.1" height="2.1"/><rect x="403.4" y="138.0" width="2.1" height="2.1"/><rect x="357.4" y="162.7" width="2.1" height="2.1"/><rect x="372.7" y="163.3" width="2.1" height="2.1"/><rect x="370.8" y="147.6" width="2.1" height="2.1"/><rect x="387.8" y="138.5" width="2.1" height="2.1"/><rect x="386.5" y="136.6" width="2.1" height="2.1"/><rect x="396.4" y="138.8" width="2.1" height="2.1"/><rect x="376.7" y="115.7" width="2.1" height="2.1"/><rect x="405.5" y="135.3" width="2.1" height="2.1"/><rect x="351.5" y="158.7" width="2.1" height="2.1"/><rect x="396.9" y="150.7" width="2.1" height="2.1"/><rect x="370.3" y="167.3" width="2.1" height="2.1"/><rect x="390.7" y="168.4" width="2.1" height="2.1"/><rect x="384.0" y="151.7" width="2.1" height="2.1"/><rect x="372.7" y="136.0" width="2.1" height="2.1"/><rect x="407.9" y="144.2" width="2.1" height="2.1"/><rect x="415.8" y="140.3" width="2.1" height="2.1"/><rect x="366.6" y="132.3" width="2.1" height="2.1"/><rect x="369.2" y="142.5" width="2.1" height="2.1"/><rect x="371.3" y="155.9" width="2.1" height="2.1"/><rect x="388.9" y="138.8" width="2.1" height="2.1"/><rect x="386.5" y="141.2" width="2.1" height="2.1"/><rect x="390.9" y="149.6" width="2.1" height="2.1"/><rect x="398.9" y="129.9" width="2.1" height="2.1"/><rect x="362.0" y="169.4" width="2.1" height="2.1"/><rect x="390.6" y="153.8" width="2.1" height="2.1"/><rect x="352.3" y="153.5" width="2.1" height="2.1"/><rect x="378.6" y="129.8" width="2.1" height="2.1"/><rect x="377.4" y="155.0" width="2.1" height="2.1"/><rect x="410.3" y="151.0" width="2.1" height="2.1"/><rect x="362.3" y="137.1" width="2.1" height="2.1"/><rect x="397.4" y="149.0" width="2.1" height="2.1"/><rect x="382.2" y="129.9" width="2.1" height="2.1"/><rect x="401.6" y="145.6" width="2.1" height="2.1"/><rect x="392.2" y="134.9" width="2.1" height="2.1"/><rect x="392.8" y="149.2" width="2.1" height="2.1"/><rect x="366.2" y="130.4" width="2.1" height="2.1"/><rect x="392.0" y="146.1" width="2.1" height="2.1"/><rect x="387.8" y="152.5" width="2.1" height="2.1"/><rect x="372.8" y="147.7" width="2.1" height="2.1"/><rect x="380.6" y="151.8" width="2.1" height="2.1"/><rect x="412.4" y="129.2" width="2.1" height="2.1"/><rect x="428.1" y="142.8" width="2.1" height="2.1"/><rect x="400.9" y="143.5" width="2.1" height="2.1"/><rect x="415.9" y="128.5" width="2.1" height="2.1"/><rect x="377.6" y="134.5" width="2.1" height="2.1"/><rect x="398.1" y="153.3" width="2.1" height="2.1"/><rect x="395.5" y="143.9" width="2.1" height="2.1"/><rect x="380.9" y="147.1" width="2.1" height="2.1"/><rect x="361.9" y="165.1" width="2.1" height="2.1"/><rect x="371.9" y="136.4" width="2.1" height="2.1"/><rect x="366.7" y="141.8" width="2.1" height="2.1"/><rect x="404.0" y="147.6" width="2.1" height="2.1"/><rect x="362.7" y="163.4" width="2.1" height="2.1"/><rect x="398.0" y="131.5" width="2.1" height="2.1"/><rect x="353.5" y="148.2" width="2.1" height="2.1"/><rect x="373.7" y="152.2" width="2.1" height="2.1"/><rect x="369.1" y="127.1" width="2.1" height="2.1"/><rect x="382.0" y="127.3" width="2.1" height="2.1"/><rect x="395.7" y="125.3" width="2.1" height="2.1"/><rect x="367.7" y="141.0" width="2.1" height="2.1"/><rect x="379.2" y="160.7" width="2.1" height="2.1"/><rect x="402.1" y="143.2" width="2.1" height="2.1"/><rect x="383.5" y="126.5" width="2.1" height="2.1"/><rect x="372.1" y="142.6" width="2.1" height="2.1"/><rect x="368.0" y="156.4" width="2.1" height="2.1"/><rect x="367.4" y="142.8" width="2.1" height="2.1"/><rect x="356.3" y="132.1" width="2.1" height="2.1"/><rect x="400.3" y="152.2" width="2.1" height="2.1"/><rect x="383.2" y="133.1" width="2.1" height="2.1"/><rect x="334.8" y="166.6" width="2.1" height="2.1"/><rect x="407.6" y="137.4" width="2.1" height="2.1"/><rect x="407.1" y="151.1" width="2.1" height="2.1"/><rect x="402.9" y="130.9" width="2.1" height="2.1"/><rect x="406.5" y="143.3" width="2.1" height="2.1"/><rect x="354.0" y="151.9" width="2.1" height="2.1"/><rect x="357.3" y="153.9" width="2.1" height="2.1"/><rect x="390.3" y="129.1" width="2.1" height="2.1"/><rect x="351.3" y="172.4" width="2.1" height="2.1"/><rect x="396.9" y="155.3" width="2.1" height="2.1"/><rect x="363.9" y="164.5" width="2.1" height="2.1"/><rect x="430.4" y="147.3" width="2.1" height="2.1"/><rect x="381.2" y="148.2" width="2.1" height="2.1"/><rect x="385.2" y="154.8" width="2.1" height="2.1"/><rect x="403.4" y="136.8" width="2.1" height="2.1"/><rect x="361.9" y="161.7" width="2.1" height="2.1"/><rect x="377.8" y="153.7" width="2.1" height="2.1"/><rect x="395.4" y="157.6" width="2.1" height="2.1"/><rect x="403.1" y="130.8" width="2.1" height="2.1"/><rect x="397.6" y="158.3" width="2.1" height="2.1"/><rect x="375.8" y="152.3" width="2.1" height="2.1"/><rect x="411.0" y="146.9" width="2.1" height="2.1"/><rect x="388.1" y="127.2" width="2.1" height="2.1"/><rect x="361.7" y="156.1" width="2.1" height="2.1"/><rect x="401.5" y="165.6" width="2.1" height="2.1"/><rect x="372.7" y="161.6" width="2.1" height="2.1"/><rect x="391.4" y="121.8" width="2.1" height="2.1"/><rect x="369.5" y="151.9" width="2.1" height="2.1"/><rect x="374.2" y="146.3" width="2.1" height="2.1"/><rect x="389.3" y="132.5" width="2.1" height="2.1"/><rect x="390.0" y="134.2" width="2.1" height="2.1"/><rect x="376.1" y="153.4" width="2.1" height="2.1"/><rect x="374.5" y="151.2" width="2.1" height="2.1"/><rect x="413.6" y="131.8" width="2.1" height="2.1"/><rect x="384.2" y="152.2" width="2.1" height="2.1"/><rect x="381.6" y="157.3" width="2.1" height="2.1"/><rect x="362.8" y="159.9" width="2.1" height="2.1"/><rect x="371.3" y="140.2" width="2.1" height="2.1"/><rect x="413.1" y="122.0" width="2.1" height="2.1"/><rect x="419.0" y="136.7" width="2.1" height="2.1"/><rect x="406.8" y="123.2" width="2.1" height="2.1"/><rect x="412.0" y="148.8" width="2.1" height="2.1"/><rect x="381.3" y="143.6" width="2.1" height="2.1"/><rect x="430.0" y="126.6" width="2.1" height="2.1"/><rect x="373.6" y="141.1" width="2.1" height="2.1"/><rect x="393.5" y="143.7" width="2.1" height="2.1"/><rect x="394.2" y="159.2" width="2.1" height="2.1"/><rect x="379.8" y="151.1" width="2.1" height="2.1"/><rect x="406.8" y="122.9" width="2.1" height="2.1"/><rect x="410.6" y="153.6" width="2.1" height="2.1"/><rect x="354.5" y="143.8" width="2.1" height="2.1"/><rect x="357.3" y="134.1" width="2.1" height="2.1"/><rect x="384.8" y="122.5" width="2.1" height="2.1"/><rect x="399.1" y="154.2" width="2.1" height="2.1"/><rect x="352.9" y="153.4" width="2.1" height="2.1"/><rect x="351.8" y="166.3" width="2.1" height="2.1"/><rect x="369.3" y="147.1" width="2.1" height="2.1"/><rect x="387.2" y="148.8" width="2.1" height="2.1"/><rect x="377.6" y="146.8" width="2.1" height="2.1"/><rect x="374.3" y="149.3" width="2.1" height="2.1"/><rect x="362.6" y="153.6" width="2.1" height="2.1"/><rect x="346.3" y="154.2" width="2.1" height="2.1"/><rect x="419.6" y="129.9" width="2.1" height="2.1"/><rect x="361.8" y="156.2" width="2.1" height="2.1"/><rect x="359.3" y="135.5" width="2.1" height="2.1"/><rect x="373.4" y="156.8" width="2.1" height="2.1"/><rect x="390.6" y="140.0" width="2.1" height="2.1"/><rect x="362.5" y="140.7" width="2.1" height="2.1"/><rect x="409.8" y="135.9" width="2.1" height="2.1"/><rect x="357.8" y="130.9" width="2.1" height="2.1"/><rect x="368.8" y="178.5" width="2.1" height="2.1"/><rect x="362.5" y="152.1" width="2.1" height="2.1"/><rect x="387.2" y="140.8" width="2.1" height="2.1"/><rect x="373.2" y="132.8" width="2.1" height="2.1"/><rect x="371.4" y="168.4" width="2.1" height="2.1"/><rect x="373.4" y="158.0" width="2.1" height="2.1"/><rect x="351.6" y="154.4" width="2.1" height="2.1"/><rect x="393.0" y="152.0" width="2.1" height="2.1"/><rect x="365.7" y="158.4" width="2.1" height="2.1"/><rect x="388.1" y="133.8" width="2.1" height="2.1"/><rect x="389.1" y="131.6" width="2.1" height="2.1"/><rect x="369.2" y="149.9" width="2.1" height="2.1"/><rect x="333.5" y="163.9" width="2.1" height="2.1"/><rect x="359.6" y="137.5" width="2.1" height="2.1"/><rect x="379.2" y="154.6" width="2.1" height="2.1"/><rect x="381.6" y="159.3" width="2.1" height="2.1"/><rect x="357.2" y="140.2" width="2.1" height="2.1"/><rect x="414.2" y="135.8" width="2.1" height="2.1"/><rect x="398.0" y="128.6" width="2.1" height="2.1"/><rect x="399.8" y="140.2" width="2.1" height="2.1"/><rect x="396.0" y="139.2" width="2.1" height="2.1"/><rect x="403.6" y="128.3" width="2.1" height="2.1"/><rect x="360.2" y="137.1" width="2.1" height="2.1"/><rect x="402.3" y="127.8" width="2.1" height="2.1"/><rect x="360.9" y="142.9" width="2.1" height="2.1"/><rect x="370.6" y="135.1" width="2.1" height="2.1"/><rect x="376.0" y="140.1" width="2.1" height="2.1"/><rect x="369.9" y="138.9" width="2.1" height="2.1"/><rect x="382.8" y="139.2" width="2.1" height="2.1"/><rect x="387.1" y="145.5" width="2.1" height="2.1"/><rect x="381.3" y="120.1" width="2.1" height="2.1"/><rect x="370.8" y="140.4" width="2.1" height="2.1"/><rect x="391.8" y="122.7" width="2.1" height="2.1"/><rect x="369.6" y="146.6" width="2.1" height="2.1"/><rect x="381.8" y="156.1" width="2.1" height="2.1"/><rect x="379.7" y="156.7" width="2.1" height="2.1"/><rect x="349.6" y="137.8" width="2.1" height="2.1"/><rect x="408.2" y="138.7" width="2.1" height="2.1"/><rect x="393.4" y="141.4" width="2.1" height="2.1"/><rect x="387.9" y="128.4" width="2.1" height="2.1"/><rect x="399.3" y="131.5" width="2.1" height="2.1"/><rect x="402.5" y="137.2" width="2.1" height="2.1"/><rect x="342.3" y="146.8" width="2.1" height="2.1"/><rect x="404.2" y="133.9" width="2.1" height="2.1"/><rect x="377.6" y="149.4" width="2.1" height="2.1"/><rect x="373.9" y="142.0" width="2.1" height="2.1"/><rect x="386.4" y="144.6" width="2.1" height="2.1"/><rect x="412.1" y="132.6" width="2.1" height="2.1"/><rect x="425.9" y="146.8" width="2.1" height="2.1"/><rect x="419.9" y="140.9" width="2.1" height="2.1"/><rect x="386.9" y="144.3" width="2.1" height="2.1"/><rect x="378.3" y="138.0" width="2.1" height="2.1"/><rect x="380.1" y="138.3" width="2.1" height="2.1"/><rect x="416.4" y="136.4" width="2.1" height="2.1"/><rect x="367.9" y="128.9" width="2.1" height="2.1"/><rect x="381.3" y="140.3" width="2.1" height="2.1"/><rect x="359.3" y="141.4" width="2.1" height="2.1"/><rect x="344.8" y="166.9" width="2.1" height="2.1"/><rect x="393.2" y="169.4" width="2.1" height="2.1"/><rect x="382.8" y="142.8" width="2.1" height="2.1"/><rect x="411.1" y="134.1" width="2.1" height="2.1"/><rect x="385.5" y="139.1" width="2.1" height="2.1"/><rect x="378.9" y="163.2" width="2.1" height="2.1"/><rect x="409.4" y="152.8" width="2.1" height="2.1"/><rect x="377.6" y="147.0" width="2.1" height="2.1"/><rect x="371.6" y="160.1" width="2.1" height="2.1"/><rect x="360.6" y="160.2" width="2.1" height="2.1"/><rect x="409.9" y="149.1" width="2.1" height="2.1"/><rect x="371.1" y="161.8" width="2.1" height="2.1"/><rect x="367.7" y="142.1" width="2.1" height="2.1"/><rect x="364.3" y="165.4" width="2.1" height="2.1"/><rect x="411.9" y="125.4" width="2.1" height="2.1"/><rect x="368.6" y="146.6" width="2.1" height="2.1"/><rect x="434.3" y="134.3" width="2.1" height="2.1"/><rect x="366.7" y="130.8" width="2.1" height="2.1"/><rect x="376.4" y="160.7" width="2.1" height="2.1"/><rect x="417.3" y="126.9" width="2.1" height="2.1"/><rect x="369.1" y="144.4" width="2.1" height="2.1"/><rect x="352.9" y="167.3" width="2.1" height="2.1"/><rect x="368.3" y="162.7" width="2.1" height="2.1"/><rect x="347.3" y="144.9" width="2.1" height="2.1"/><rect x="386.2" y="134.3" width="2.1" height="2.1"/><rect x="398.4" y="138.0" width="2.1" height="2.1"/><rect x="364.8" y="159.1" width="2.1" height="2.1"/><rect x="391.7" y="118.9" width="2.1" height="2.1"/><rect x="419.6" y="134.6" width="2.1" height="2.1"/><rect x="390.4" y="120.1" width="2.1" height="2.1"/><rect x="369.3" y="146.1" width="2.1" height="2.1"/><rect x="397.9" y="121.5" width="2.1" height="2.1"/><rect x="359.4" y="131.1" width="2.1" height="2.1"/><rect x="380.9" y="149.2" width="2.1" height="2.1"/><rect x="350.5" y="151.3" width="2.1" height="2.1"/><rect x="399.8" y="155.3" width="2.1" height="2.1"/><rect x="395.0" y="135.9" width="2.1" height="2.1"/><rect x="358.4" y="144.0" width="2.1" height="2.1"/><rect x="372.3" y="150.5" width="2.1" height="2.1"/><rect x="389.8" y="160.5" width="2.1" height="2.1"/><rect x="384.9" y="131.3" width="2.1" height="2.1"/><rect x="416.3" y="141.2" width="2.1" height="2.1"/><rect x="382.9" y="136.2" width="2.1" height="2.1"/><rect x="345.3" y="148.5" width="2.1" height="2.1"/><rect x="397.5" y="129.1" width="2.1" height="2.1"/><rect x="360.4" y="156.1" width="2.1" height="2.1"/><rect x="390.9" y="147.9" width="2.1" height="2.1"/><rect x="401.8" y="152.5" width="2.1" height="2.1"/><rect x="372.5" y="159.9" width="2.1" height="2.1"/><rect x="368.6" y="158.3" width="2.1" height="2.1"/><rect x="388.2" y="144.9" width="2.1" height="2.1"/><rect x="401.7" y="136.3" width="2.1" height="2.1"/><rect x="408.0" y="143.8" width="2.1" height="2.1"/><rect x="384.1" y="137.4" width="2.1" height="2.1"/><rect x="367.9" y="144.7" width="2.1" height="2.1"/><rect x="380.1" y="145.3" width="2.1" height="2.1"/><rect x="441.5" y="127.0" width="2.1" height="2.1"/><rect x="394.6" y="129.7" width="2.1" height="2.1"/><rect x="369.6" y="146.4" width="2.1" height="2.1"/><rect x="383.3" y="132.4" width="2.1" height="2.1"/><rect x="411.4" y="126.0" width="2.1" height="2.1"/><rect x="394.3" y="113.0" width="2.1" height="2.1"/><rect x="385.0" y="146.7" width="2.1" height="2.1"/><rect x="389.9" y="148.3" width="2.1" height="2.1"/><rect x="389.8" y="143.4" width="2.1" height="2.1"/><rect x="346.2" y="151.7" width="2.1" height="2.1"/><rect x="343.3" y="168.2" width="2.1" height="2.1"/><rect x="388.8" y="139.7" width="2.1" height="2.1"/><rect x="366.4" y="144.7" width="2.1" height="2.1"/><rect x="425.0" y="146.4" width="2.1" height="2.1"/><rect x="388.1" y="156.9" width="2.1" height="2.1"/><rect x="346.8" y="137.5" width="2.1" height="2.1"/><rect x="371.5" y="139.2" width="2.1" height="2.1"/><rect x="374.4" y="150.1" width="2.1" height="2.1"/><rect x="437.0" y="114.1" width="2.1" height="2.1"/><rect x="386.0" y="146.2" width="2.1" height="2.1"/><rect x="387.1" y="153.2" width="2.1" height="2.1"/><rect x="411.6" y="118.2" width="2.1" height="2.1"/><rect x="385.9" y="140.1" width="2.1" height="2.1"/><rect x="384.3" y="126.4" width="2.1" height="2.1"/><rect x="342.1" y="135.1" width="2.1" height="2.1"/><rect x="394.4" y="141.7" width="2.1" height="2.1"/><rect x="375.7" y="120.5" width="2.1" height="2.1"/><rect x="374.0" y="139.5" width="2.1" height="2.1"/><rect x="354.2" y="146.0" width="2.1" height="2.1"/><rect x="399.0" y="143.8" width="2.1" height="2.1"/><rect x="385.6" y="149.1" width="2.1" height="2.1"/><rect x="373.1" y="149.3" width="2.1" height="2.1"/><rect x="386.9" y="149.0" width="2.1" height="2.1"/><rect x="382.1" y="143.1" width="2.1" height="2.1"/><rect x="378.8" y="138.7" width="2.1" height="2.1"/><rect x="427.2" y="131.6" width="2.1" height="2.1"/><rect x="401.2" y="162.8" width="2.1" height="2.1"/><rect x="403.5" y="118.0" width="2.1" height="2.1"/><rect x="400.2" y="146.7" width="2.1" height="2.1"/><rect x="424.1" y="142.1" width="2.1" height="2.1"/><rect x="393.4" y="126.6" width="2.1" height="2.1"/><rect x="369.0" y="153.3" width="2.1" height="2.1"/><rect x="389.1" y="130.2" width="2.1" height="2.1"/><rect x="375.2" y="143.1" width="2.1" height="2.1"/><rect x="386.4" y="146.7" width="2.1" height="2.1"/><rect x="373.6" y="134.2" width="2.1" height="2.1"/><rect x="413.4" y="149.8" width="2.1" height="2.1"/><rect x="386.2" y="154.7" width="2.1" height="2.1"/><rect x="394.8" y="146.9" width="2.1" height="2.1"/><rect x="389.7" y="132.8" width="2.1" height="2.1"/><rect x="398.6" y="149.3" width="2.1" height="2.1"/><rect x="375.4" y="169.9" width="2.1" height="2.1"/><rect x="429.9" y="145.4" width="2.1" height="2.1"/><rect x="423.6" y="135.7" width="2.1" height="2.1"/><rect x="375.3" y="140.8" width="2.1" height="2.1"/><rect x="369.4" y="151.4" width="2.1" height="2.1"/><rect x="386.1" y="150.7" width="2.1" height="2.1"/><rect x="356.1" y="182.0" width="2.1" height="2.1"/><rect x="425.8" y="126.1" width="2.1" height="2.1"/><rect x="398.4" y="143.3" width="2.1" height="2.1"/><rect x="388.1" y="139.8" width="2.1" height="2.1"/><rect x="378.3" y="136.9" width="2.1" height="2.1"/><rect x="387.1" y="142.3" width="2.1" height="2.1"/><rect x="386.4" y="133.2" width="2.1" height="2.1"/><rect x="384.9" y="144.1" width="2.1" height="2.1"/><rect x="390.8" y="129.0" width="2.1" height="2.1"/><rect x="395.7" y="150.2" width="2.1" height="2.1"/><rect x="393.5" y="135.8" width="2.1" height="2.1"/><rect x="373.9" y="145.5" width="2.1" height="2.1"/><rect x="403.7" y="153.3" width="2.1" height="2.1"/><rect x="378.4" y="139.0" width="2.1" height="2.1"/><rect x="391.7" y="143.0" width="2.1" height="2.1"/><rect x="364.2" y="143.8" width="2.1" height="2.1"/><rect x="384.8" y="151.2" width="2.1" height="2.1"/><rect x="357.8" y="143.3" width="2.1" height="2.1"/><rect x="388.2" y="128.2" width="2.1" height="2.1"/><rect x="387.4" y="146.5" width="2.1" height="2.1"/><rect x="377.8" y="135.0" width="2.1" height="2.1"/><rect x="381.5" y="141.2" width="2.1" height="2.1"/><rect x="386.7" y="133.2" width="2.1" height="2.1"/><rect x="397.3" y="119.3" width="2.1" height="2.1"/><rect x="380.7" y="145.4" width="2.1" height="2.1"/><rect x="399.2" y="130.6" width="2.1" height="2.1"/><rect x="391.7" y="134.2" width="2.1" height="2.1"/><rect x="404.6" y="155.1" width="2.1" height="2.1"/><rect x="378.4" y="151.3" width="2.1" height="2.1"/><rect x="370.8" y="160.6" width="2.1" height="2.1"/><rect x="406.4" y="134.9" width="2.1" height="2.1"/><rect x="364.7" y="156.6" width="2.1" height="2.1"/><rect x="409.6" y="145.6" width="2.1" height="2.1"/><rect x="391.5" y="119.9" width="2.1" height="2.1"/><rect x="377.2" y="163.0" width="2.1" height="2.1"/><rect x="365.9" y="164.4" width="2.1" height="2.1"/><rect x="421.8" y="136.7" width="2.1" height="2.1"/><rect x="403.3" y="132.1" width="2.1" height="2.1"/><rect x="360.9" y="152.4" width="2.1" height="2.1"/><rect x="380.1" y="145.0" width="2.1" height="2.1"/><rect x="396.2" y="137.2" width="2.1" height="2.1"/><rect x="389.2" y="146.6" width="2.1" height="2.1"/><rect x="391.3" y="161.8" width="2.1" height="2.1"/><rect x="392.5" y="141.3" width="2.1" height="2.1"/><rect x="377.6" y="139.5" width="2.1" height="2.1"/><rect x="409.3" y="135.0" width="2.1" height="2.1"/><rect x="361.8" y="146.9" width="2.1" height="2.1"/><rect x="379.6" y="140.7" width="2.1" height="2.1"/><rect x="399.2" y="124.3" width="2.1" height="2.1"/><rect x="393.6" y="141.5" width="2.1" height="2.1"/><rect x="362.4" y="153.5" width="2.1" height="2.1"/><rect x="384.2" y="149.5" width="2.1" height="2.1"/><rect x="376.9" y="150.4" width="2.1" height="2.1"/><rect x="348.8" y="146.4" width="2.1" height="2.1"/><rect x="402.7" y="148.0" width="2.1" height="2.1"/><rect x="381.3" y="138.3" width="2.1" height="2.1"/><rect x="395.4" y="115.3" width="2.1" height="2.1"/><rect x="371.9" y="156.6" width="2.1" height="2.1"/><rect x="391.8" y="128.9" width="2.1" height="2.1"/><rect x="355.1" y="172.6" width="2.1" height="2.1"/><rect x="383.1" y="134.1" width="2.1" height="2.1"/><rect x="388.6" y="152.3" width="2.1" height="2.1"/><rect x="340.7" y="174.8" width="2.1" height="2.1"/><rect x="389.1" y="118.1" width="2.1" height="2.1"/><rect x="390.9" y="120.7" width="2.1" height="2.1"/><rect x="406.6" y="139.0" width="2.1" height="2.1"/><rect x="423.0" y="120.6" width="2.1" height="2.1"/><rect x="388.3" y="154.1" width="2.1" height="2.1"/><rect x="369.3" y="142.1" width="2.1" height="2.1"/><rect x="376.8" y="146.1" width="2.1" height="2.1"/><rect x="366.0" y="157.0" width="2.1" height="2.1"/><rect x="394.3" y="140.4" width="2.1" height="2.1"/><rect x="414.0" y="127.6" width="2.1" height="2.1"/><rect x="405.8" y="128.5" width="2.1" height="2.1"/><rect x="390.0" y="119.4" width="2.1" height="2.1"/><rect x="386.9" y="140.7" width="2.1" height="2.1"/><rect x="372.3" y="141.9" width="2.1" height="2.1"/><rect x="374.6" y="139.7" width="2.1" height="2.1"/><rect x="341.1" y="155.2" width="2.1" height="2.1"/><rect x="371.7" y="143.1" width="2.1" height="2.1"/><rect x="363.9" y="150.8" width="2.1" height="2.1"/><rect x="397.4" y="135.5" width="2.1" height="2.1"/><rect x="380.4" y="160.9" width="2.1" height="2.1"/><rect x="405.7" y="145.3" width="2.1" height="2.1"/><rect x="403.9" y="131.8" width="2.1" height="2.1"/><rect x="386.1" y="155.7" width="2.1" height="2.1"/><rect x="373.2" y="147.1" width="2.1" height="2.1"/><rect x="392.4" y="144.6" width="2.1" height="2.1"/><rect x="382.9" y="155.6" width="2.1" height="2.1"/><rect x="383.6" y="152.4" width="2.1" height="2.1"/><rect x="406.4" y="142.0" width="2.1" height="2.1"/><rect x="392.8" y="127.0" width="2.1" height="2.1"/><rect x="357.3" y="148.1" width="2.1" height="2.1"/><rect x="398.8" y="154.8" width="2.1" height="2.1"/><rect x="362.7" y="156.4" width="2.1" height="2.1"/><rect x="365.2" y="143.5" width="2.1" height="2.1"/><rect x="381.7" y="152.8" width="2.1" height="2.1"/><rect x="392.7" y="153.7" width="2.1" height="2.1"/><rect x="369.4" y="160.2" width="2.1" height="2.1"/><rect x="401.4" y="137.4" width="2.1" height="2.1"/><rect x="390.5" y="134.8" width="2.1" height="2.1"/><rect x="362.2" y="148.5" width="2.1" height="2.1"/><rect x="383.9" y="176.9" width="2.1" height="2.1"/><rect x="381.7" y="163.7" width="2.1" height="2.1"/><rect x="388.9" y="145.4" width="2.1" height="2.1"/><rect x="394.5" y="130.7" width="2.1" height="2.1"/><rect x="402.4" y="140.5" width="2.1" height="2.1"/><rect x="358.4" y="161.5" width="2.1" height="2.1"/><rect x="396.0" y="144.1" width="2.1" height="2.1"/><rect x="411.5" y="127.7" width="2.1" height="2.1"/><rect x="396.4" y="147.2" width="2.1" height="2.1"/><rect x="372.2" y="162.5" width="2.1" height="2.1"/><rect x="351.9" y="142.6" width="2.1" height="2.1"/><rect x="389.2" y="129.4" width="2.1" height="2.1"/><rect x="375.1" y="128.9" width="2.1" height="2.1"/><rect x="380.6" y="132.4" width="2.1" height="2.1"/><rect x="384.0" y="126.5" width="2.1" height="2.1"/><rect x="391.1" y="137.9" width="2.1" height="2.1"/><rect x="384.9" y="142.8" width="2.1" height="2.1"/><rect x="381.0" y="130.1" width="2.1" height="2.1"/><rect x="336.8" y="164.1" width="2.1" height="2.1"/><rect x="364.8" y="146.8" width="2.1" height="2.1"/><rect x="383.7" y="121.4" width="2.1" height="2.1"/><rect x="367.4" y="144.0" width="2.1" height="2.1"/><rect x="365.8" y="155.3" width="2.1" height="2.1"/><rect x="378.0" y="137.1" width="2.1" height="2.1"/><rect x="369.1" y="159.4" width="2.1" height="2.1"/><rect x="374.2" y="154.7" width="2.1" height="2.1"/><rect x="384.5" y="122.1" width="2.1" height="2.1"/><rect x="364.0" y="152.4" width="2.1" height="2.1"/><rect x="393.4" y="148.8" width="2.1" height="2.1"/><rect x="402.9" y="147.7" width="2.1" height="2.1"/><rect x="376.2" y="144.8" width="2.1" height="2.1"/><rect x="396.5" y="133.8" width="2.1" height="2.1"/><rect x="397.0" y="120.4" width="2.1" height="2.1"/><rect x="395.3" y="137.2" width="2.1" height="2.1"/><rect x="351.7" y="168.7" width="2.1" height="2.1"/><rect x="389.8" y="141.7" width="2.1" height="2.1"/><rect x="362.2" y="147.8" width="2.1" height="2.1"/><rect x="408.5" y="124.2" width="2.1" height="2.1"/><rect x="316.4" y="162.5" width="2.1" height="2.1"/><rect x="361.3" y="152.0" width="2.1" height="2.1"/><rect x="373.0" y="138.2" width="2.1" height="2.1"/><rect x="372.7" y="160.6" width="2.1" height="2.1"/><rect x="365.3" y="174.1" width="2.1" height="2.1"/><rect x="369.5" y="137.6" width="2.1" height="2.1"/><rect x="400.8" y="143.3" width="2.1" height="2.1"/><rect x="367.8" y="159.3" width="2.1" height="2.1"/><rect x="346.3" y="149.3" width="2.1" height="2.1"/><rect x="403.7" y="132.8" width="2.1" height="2.1"/><rect x="362.0" y="159.0" width="2.1" height="2.1"/><rect x="400.8" y="136.6" width="2.1" height="2.1"/><rect x="349.2" y="154.6" width="2.1" height="2.1"/><rect x="394.8" y="148.2" width="2.1" height="2.1"/><rect x="417.1" y="127.2" width="2.1" height="2.1"/><rect x="374.9" y="147.3" width="2.1" height="2.1"/><rect x="402.4" y="125.5" width="2.1" height="2.1"/><rect x="396.8" y="107.2" width="2.1" height="2.1"/><rect x="395.9" y="131.2" width="2.1" height="2.1"/><rect x="395.2" y="147.1" width="2.1" height="2.1"/><rect x="361.8" y="152.3" width="2.1" height="2.1"/><rect x="390.8" y="147.8" width="2.1" height="2.1"/><rect x="362.8" y="141.6" width="2.1" height="2.1"/><rect x="379.5" y="143.3" width="2.1" height="2.1"/><rect x="360.2" y="164.5" width="2.1" height="2.1"/><rect x="379.9" y="162.0" width="2.1" height="2.1"/><rect x="399.7" y="137.6" width="2.1" height="2.1"/><rect x="392.8" y="127.6" width="2.1" height="2.1"/><rect x="375.6" y="140.9" width="2.1" height="2.1"/><rect x="360.6" y="153.9" width="2.1" height="2.1"/><rect x="387.1" y="159.0" width="2.1" height="2.1"/><rect x="319.4" y="163.4" width="2.1" height="2.1"/><rect x="365.1" y="146.6" width="2.1" height="2.1"/><rect x="393.4" y="144.6" width="2.1" height="2.1"/><rect x="382.5" y="139.1" width="2.1" height="2.1"/><rect x="394.5" y="143.6" width="2.1" height="2.1"/><rect x="348.9" y="155.7" width="2.1" height="2.1"/><rect x="353.8" y="143.2" width="2.1" height="2.1"/><rect x="386.9" y="143.4" width="2.1" height="2.1"/><rect x="382.5" y="134.6" width="2.1" height="2.1"/><rect x="376.5" y="136.7" width="2.1" height="2.1"/><rect x="393.8" y="147.7" width="2.1" height="2.1"/><rect x="421.5" y="142.6" width="2.1" height="2.1"/><rect x="367.2" y="145.8" width="2.1" height="2.1"/><rect x="367.9" y="154.2" width="2.1" height="2.1"/><rect x="423.4" y="135.5" width="2.1" height="2.1"/><rect x="338.3" y="148.8" width="2.1" height="2.1"/><rect x="362.2" y="158.9" width="2.1" height="2.1"/><rect x="385.2" y="146.8" width="2.1" height="2.1"/><rect x="413.4" y="122.1" width="2.1" height="2.1"/><rect x="376.3" y="169.5" width="2.1" height="2.1"/><rect x="387.1" y="133.8" width="2.1" height="2.1"/><rect x="340.3" y="144.9" width="2.1" height="2.1"/><rect x="339.2" y="163.5" width="2.1" height="2.1"/><rect x="388.8" y="153.2" width="2.1" height="2.1"/><rect x="378.6" y="138.3" width="2.1" height="2.1"/><rect x="378.0" y="168.1" width="2.1" height="2.1"/><rect x="352.1" y="159.3" width="2.1" height="2.1"/><rect x="386.9" y="149.7" width="2.1" height="2.1"/><rect x="378.5" y="151.9" width="2.1" height="2.1"/><rect x="398.4" y="136.2" width="2.1" height="2.1"/><rect x="374.8" y="145.7" width="2.1" height="2.1"/><rect x="365.3" y="149.4" width="2.1" height="2.1"/><rect x="379.2" y="148.3" width="2.1" height="2.1"/><rect x="413.9" y="146.3" width="2.1" height="2.1"/><rect x="378.2" y="153.2" width="2.1" height="2.1"/><rect x="392.5" y="149.0" width="2.1" height="2.1"/><rect x="385.4" y="146.4" width="2.1" height="2.1"/><rect x="372.1" y="140.0" width="2.1" height="2.1"/><rect x="405.3" y="149.8" width="2.1" height="2.1"/><rect x="397.9" y="143.0" width="2.1" height="2.1"/><rect x="387.0" y="137.5" width="2.1" height="2.1"/><rect x="353.8" y="164.2" width="2.1" height="2.1"/><rect x="385.4" y="137.0" width="2.1" height="2.1"/><rect x="371.4" y="163.8" width="2.1" height="2.1"/><rect x="357.8" y="175.0" width="2.1" height="2.1"/><rect x="405.4" y="161.9" width="2.1" height="2.1"/><rect x="370.6" y="149.3" width="2.1" height="2.1"/><rect x="375.2" y="149.4" width="2.1" height="2.1"/><rect x="377.0" y="138.3" width="2.1" height="2.1"/><rect x="400.6" y="128.0" width="2.1" height="2.1"/><rect x="376.8" y="153.3" width="2.1" height="2.1"/><rect x="372.3" y="143.9" width="2.1" height="2.1"/><rect x="389.0" y="137.6" width="2.1" height="2.1"/><rect x="360.5" y="152.6" width="2.1" height="2.1"/><rect x="386.8" y="162.2" width="2.1" height="2.1"/><rect x="367.7" y="161.8" width="2.1" height="2.1"/><rect x="368.0" y="146.6" width="2.1" height="2.1"/><rect x="379.0" y="149.1" width="2.1" height="2.1"/><rect x="407.0" y="154.2" width="2.1" height="2.1"/><rect x="377.6" y="161.8" width="2.1" height="2.1"/><rect x="405.6" y="144.1" width="2.1" height="2.1"/><rect x="373.6" y="158.5" width="2.1" height="2.1"/><rect x="383.4" y="148.2" width="2.1" height="2.1"/><rect x="381.7" y="152.5" width="2.1" height="2.1"/><rect x="409.1" y="146.3" width="2.1" height="2.1"/><rect x="384.2" y="155.2" width="2.1" height="2.1"/><rect x="406.9" y="123.6" width="2.1" height="2.1"/><rect x="405.7" y="119.6" width="2.1" height="2.1"/><rect x="396.4" y="145.5" width="2.1" height="2.1"/><rect x="412.4" y="135.2" width="2.1" height="2.1"/><rect x="371.8" y="140.0" width="2.1" height="2.1"/><rect x="364.0" y="161.1" width="2.1" height="2.1"/><rect x="376.7" y="138.8" width="2.1" height="2.1"/><rect x="390.6" y="132.4" width="2.1" height="2.1"/><rect x="374.0" y="142.9" width="2.1" height="2.1"/><rect x="420.4" y="145.3" width="2.1" height="2.1"/><rect x="374.6" y="130.0" width="2.1" height="2.1"/><rect x="389.3" y="142.5" width="2.1" height="2.1"/><rect x="392.7" y="146.7" width="2.1" height="2.1"/><rect x="381.8" y="155.4" width="2.1" height="2.1"/><rect x="400.2" y="139.5" width="2.1" height="2.1"/><rect x="374.5" y="142.4" width="2.1" height="2.1"/><rect x="392.3" y="127.9" width="2.1" height="2.1"/><rect x="378.0" y="137.9" width="2.1" height="2.1"/><rect x="360.7" y="160.6" width="2.1" height="2.1"/><rect x="383.6" y="144.5" width="2.1" height="2.1"/><rect x="394.0" y="122.7" width="2.1" height="2.1"/><rect x="383.9" y="147.3" width="2.1" height="2.1"/><rect x="394.9" y="127.0" width="2.1" height="2.1"/><rect x="398.0" y="140.5" width="2.1" height="2.1"/><rect x="413.6" y="144.5" width="2.1" height="2.1"/><rect x="402.8" y="160.5" width="2.1" height="2.1"/><rect x="382.2" y="139.9" width="2.1" height="2.1"/><rect x="373.8" y="137.5" width="2.1" height="2.1"/><rect x="375.8" y="126.0" width="2.1" height="2.1"/><rect x="384.1" y="148.7" width="2.1" height="2.1"/><rect x="400.8" y="132.9" width="2.1" height="2.1"/><rect x="406.9" y="126.9" width="2.1" height="2.1"/><rect x="373.8" y="126.8" width="2.1" height="2.1"/><rect x="366.7" y="142.2" width="2.1" height="2.1"/><rect x="413.0" y="137.7" width="2.1" height="2.1"/><rect x="366.2" y="157.3" width="2.1" height="2.1"/><rect x="391.7" y="138.1" width="2.1" height="2.1"/><rect x="383.2" y="140.9" width="2.1" height="2.1"/><rect x="367.1" y="131.3" width="2.1" height="2.1"/><rect x="387.4" y="156.8" width="2.1" height="2.1"/><rect x="408.6" y="130.5" width="2.1" height="2.1"/><rect x="369.7" y="147.6" width="2.1" height="2.1"/><rect x="401.5" y="140.5" width="2.1" height="2.1"/><rect x="374.9" y="151.8" width="2.1" height="2.1"/><rect x="382.3" y="150.4" width="2.1" height="2.1"/><rect x="370.8" y="133.1" width="2.1" height="2.1"/><rect x="388.0" y="150.7" width="2.1" height="2.1"/><rect x="363.6" y="151.3" width="2.1" height="2.1"/><rect x="398.3" y="133.8" width="2.1" height="2.1"/><rect x="380.3" y="168.0" width="2.1" height="2.1"/><rect x="402.9" y="147.4" width="2.1" height="2.1"/><rect x="373.4" y="166.5" width="2.1" height="2.1"/><rect x="352.1" y="151.6" width="2.1" height="2.1"/><rect x="402.5" y="150.9" width="2.1" height="2.1"/><rect x="364.6" y="144.7" width="2.1" height="2.1"/><rect x="379.8" y="124.3" width="2.1" height="2.1"/><rect x="397.6" y="144.4" width="2.1" height="2.1"/><rect x="378.1" y="152.4" width="2.1" height="2.1"/><rect x="399.1" y="141.0" width="2.1" height="2.1"/><rect x="399.3" y="154.3" width="2.1" height="2.1"/><rect x="376.0" y="149.1" width="2.1" height="2.1"/><rect x="378.7" y="157.6" width="2.1" height="2.1"/><rect x="378.5" y="151.5" width="2.1" height="2.1"/><rect x="386.7" y="143.5" width="2.1" height="2.1"/><rect x="414.3" y="130.3" width="2.1" height="2.1"/><rect x="412.5" y="141.1" width="2.1" height="2.1"/><rect x="406.9" y="132.5" width="2.1" height="2.1"/><rect x="403.5" y="144.1" width="2.1" height="2.1"/><rect x="374.1" y="151.1" width="2.1" height="2.1"/><rect x="381.5" y="144.6" width="2.1" height="2.1"/><rect x="404.3" y="127.5" width="2.1" height="2.1"/><rect x="347.1" y="140.3" width="2.1" height="2.1"/><rect x="373.4" y="141.3" width="2.1" height="2.1"/><rect x="386.4" y="149.1" width="2.1" height="2.1"/><rect x="416.5" y="133.7" width="2.1" height="2.1"/><rect x="389.3" y="133.6" width="2.1" height="2.1"/><rect x="399.6" y="152.3" width="2.1" height="2.1"/><rect x="400.1" y="115.7" width="2.1" height="2.1"/><rect x="406.0" y="152.1" width="2.1" height="2.1"/><rect x="392.8" y="123.8" width="2.1" height="2.1"/><rect x="380.8" y="151.7" width="2.1" height="2.1"/><rect x="388.2" y="133.3" width="2.1" height="2.1"/><rect x="371.9" y="159.6" width="2.1" height="2.1"/><rect x="365.9" y="167.3" width="2.1" height="2.1"/><rect x="385.5" y="146.6" width="2.1" height="2.1"/><rect x="357.9" y="148.3" width="2.1" height="2.1"/><rect x="390.4" y="125.1" width="2.1" height="2.1"/><rect x="415.2" y="115.4" width="2.1" height="2.1"/><rect x="362.4" y="153.5" width="2.1" height="2.1"/><rect x="395.4" y="147.2" width="2.1" height="2.1"/><rect x="376.6" y="144.8" width="2.1" height="2.1"/><rect x="377.5" y="140.4" width="2.1" height="2.1"/><rect x="342.0" y="172.1" width="2.1" height="2.1"/><rect x="389.0" y="143.6" width="2.1" height="2.1"/><rect x="373.8" y="151.0" width="2.1" height="2.1"/><rect x="383.4" y="143.3" width="2.1" height="2.1"/><rect x="396.8" y="119.7" width="2.1" height="2.1"/><rect x="384.2" y="132.2" width="2.1" height="2.1"/><rect x="384.2" y="160.3" width="2.1" height="2.1"/><rect x="364.4" y="151.1" width="2.1" height="2.1"/><rect x="377.2" y="157.2" width="2.1" height="2.1"/><rect x="360.0" y="135.6" width="2.1" height="2.1"/><rect x="391.7" y="136.8" width="2.1" height="2.1"/><rect x="382.5" y="156.4" width="2.1" height="2.1"/><rect x="366.8" y="147.1" width="2.1" height="2.1"/><rect x="388.2" y="146.7" width="2.1" height="2.1"/><rect x="378.8" y="157.4" width="2.1" height="2.1"/><rect x="422.0" y="123.5" width="2.1" height="2.1"/><rect x="408.8" y="110.4" width="2.1" height="2.1"/><rect x="407.5" y="130.3" width="2.1" height="2.1"/><rect x="385.1" y="139.8" width="2.1" height="2.1"/><rect x="367.7" y="136.8" width="2.1" height="2.1"/><rect x="382.0" y="158.9" width="2.1" height="2.1"/><rect x="402.8" y="132.2" width="2.1" height="2.1"/><rect x="371.9" y="141.4" width="2.1" height="2.1"/><rect x="369.8" y="169.6" width="2.1" height="2.1"/><rect x="396.2" y="140.1" width="2.1" height="2.1"/><rect x="371.3" y="138.1" width="2.1" height="2.1"/><rect x="410.3" y="141.4" width="2.1" height="2.1"/><rect x="370.9" y="160.2" width="2.1" height="2.1"/><rect x="366.9" y="158.1" width="2.1" height="2.1"/><rect x="365.3" y="147.2" width="2.1" height="2.1"/><rect x="394.4" y="144.3" width="2.1" height="2.1"/><rect x="398.6" y="128.7" width="2.1" height="2.1"/><rect x="417.1" y="144.7" width="2.1" height="2.1"/><rect x="385.6" y="148.3" width="2.1" height="2.1"/><rect x="369.6" y="148.3" width="2.1" height="2.1"/><rect x="360.9" y="154.6" width="2.1" height="2.1"/><rect x="392.7" y="155.0" width="2.1" height="2.1"/><rect x="403.9" y="144.5" width="2.1" height="2.1"/><rect x="376.7" y="144.6" width="2.1" height="2.1"/><rect x="378.8" y="148.6" width="2.1" height="2.1"/><rect x="352.8" y="165.5" width="2.1" height="2.1"/><rect x="354.2" y="150.8" width="2.1" height="2.1"/><rect x="382.3" y="139.0" width="2.1" height="2.1"/><rect x="413.0" y="130.7" width="2.1" height="2.1"/><rect x="416.4" y="143.2" width="2.1" height="2.1"/><rect x="376.7" y="151.4" width="2.1" height="2.1"/><rect x="405.6" y="131.2" width="2.1" height="2.1"/><rect x="383.3" y="138.1" width="2.1" height="2.1"/><rect x="383.6" y="140.2" width="2.1" height="2.1"/><rect x="389.3" y="152.6" width="2.1" height="2.1"/><rect x="409.1" y="134.8" width="2.1" height="2.1"/><rect x="390.9" y="150.4" width="2.1" height="2.1"/><rect x="374.7" y="136.3" width="2.1" height="2.1"/><rect x="400.0" y="127.0" width="2.1" height="2.1"/><rect x="396.7" y="128.1" width="2.1" height="2.1"/><rect x="412.3" y="120.6" width="2.1" height="2.1"/><rect x="404.8" y="151.6" width="2.1" height="2.1"/><rect x="372.7" y="164.9" width="2.1" height="2.1"/><rect x="362.5" y="133.7" width="2.1" height="2.1"/><rect x="399.5" y="145.1" width="2.1" height="2.1"/><rect x="370.5" y="122.0" width="2.1" height="2.1"/><rect x="381.8" y="141.5" width="2.1" height="2.1"/><rect x="376.1" y="144.1" width="2.1" height="2.1"/><rect x="350.0" y="152.0" width="2.1" height="2.1"/><rect x="421.8" y="144.9" width="2.1" height="2.1"/><rect x="374.8" y="140.0" width="2.1" height="2.1"/><rect x="395.1" y="150.9" width="2.1" height="2.1"/><rect x="392.2" y="127.7" width="2.1" height="2.1"/><rect x="387.4" y="144.0" width="2.1" height="2.1"/><rect x="414.1" y="144.4" width="2.1" height="2.1"/><rect x="398.0" y="151.4" width="2.1" height="2.1"/><rect x="383.0" y="161.2" width="2.1" height="2.1"/><rect x="378.0" y="150.8" width="2.1" height="2.1"/><rect x="396.6" y="128.6" width="2.1" height="2.1"/><rect x="364.7" y="132.8" width="2.1" height="2.1"/><rect x="386.7" y="142.2" width="2.1" height="2.1"/><rect x="380.1" y="151.0" width="2.1" height="2.1"/><rect x="346.4" y="159.5" width="2.1" height="2.1"/><rect x="384.5" y="140.8" width="2.1" height="2.1"/><rect x="404.8" y="154.3" width="2.1" height="2.1"/><rect x="372.4" y="138.5" width="2.1" height="2.1"/><rect x="373.6" y="149.3" width="2.1" height="2.1"/><rect x="391.0" y="131.6" width="2.1" height="2.1"/><rect x="397.6" y="127.0" width="2.1" height="2.1"/><rect x="400.3" y="141.8" width="2.1" height="2.1"/><rect x="400.6" y="160.6" width="2.1" height="2.1"/><rect x="378.6" y="144.4" width="2.1" height="2.1"/><rect x="395.8" y="148.4" width="2.1" height="2.1"/><rect x="361.3" y="156.5" width="2.1" height="2.1"/><rect x="373.3" y="155.3" width="2.1" height="2.1"/><rect x="408.4" y="134.2" width="2.1" height="2.1"/><rect x="382.8" y="146.4" width="2.1" height="2.1"/><rect x="334.6" y="173.1" width="2.1" height="2.1"/><rect x="394.5" y="141.3" width="2.1" height="2.1"/><rect x="374.1" y="140.1" width="2.1" height="2.1"/><rect x="385.5" y="156.6" width="2.1" height="2.1"/><rect x="387.4" y="157.2" width="2.1" height="2.1"/><rect x="336.6" y="158.8" width="2.1" height="2.1"/><rect x="388.7" y="141.8" width="2.1" height="2.1"/><rect x="352.0" y="150.1" width="2.1" height="2.1"/><rect x="401.0" y="122.7" width="2.1" height="2.1"/><rect x="362.1" y="141.1" width="2.1" height="2.1"/><rect x="376.7" y="154.0" width="2.1" height="2.1"/><rect x="386.5" y="120.7" width="2.1" height="2.1"/><rect x="407.5" y="127.6" width="2.1" height="2.1"/><rect x="380.0" y="163.8" width="2.1" height="2.1"/><rect x="377.7" y="133.0" width="2.1" height="2.1"/><rect x="369.8" y="141.9" width="2.1" height="2.1"/><rect x="364.8" y="148.4" width="2.1" height="2.1"/><rect x="400.8" y="140.7" width="2.1" height="2.1"/><rect x="370.4" y="180.1" width="2.1" height="2.1"/><rect x="366.9" y="152.4" width="2.1" height="2.1"/><rect x="387.5" y="150.8" width="2.1" height="2.1"/><rect x="379.9" y="150.6" width="2.1" height="2.1"/><rect x="421.6" y="129.2" width="2.1" height="2.1"/><rect x="366.1" y="155.1" width="2.1" height="2.1"/><rect x="368.3" y="146.5" width="2.1" height="2.1"/><rect x="388.6" y="145.7" width="2.1" height="2.1"/><rect x="382.2" y="153.9" width="2.1" height="2.1"/><rect x="375.4" y="133.3" width="2.1" height="2.1"/><rect x="398.1" y="134.0" width="2.1" height="2.1"/><rect x="402.9" y="128.8" width="2.1" height="2.1"/><rect x="395.3" y="142.6" width="2.1" height="2.1"/><rect x="330.4" y="150.1" width="2.1" height="2.1"/><rect x="369.6" y="165.3" width="2.1" height="2.1"/><rect x="354.1" y="166.5" width="2.1" height="2.1"/><rect x="405.2" y="140.4" width="2.1" height="2.1"/><rect x="394.0" y="134.3" width="2.1" height="2.1"/><rect x="384.6" y="146.1" width="2.1" height="2.1"/><rect x="394.2" y="147.4" width="2.1" height="2.1"/><rect x="377.6" y="139.0" width="2.1" height="2.1"/><rect x="375.6" y="152.0" width="2.1" height="2.1"/><rect x="349.7" y="144.6" width="2.1" height="2.1"/><rect x="374.5" y="141.9" width="2.1" height="2.1"/><rect x="368.8" y="121.2" width="2.1" height="2.1"/><rect x="376.9" y="144.2" width="2.1" height="2.1"/><rect x="390.0" y="119.8" width="2.1" height="2.1"/><rect x="380.4" y="150.6" width="2.1" height="2.1"/><rect x="397.3" y="151.4" width="2.1" height="2.1"/><rect x="398.5" y="126.3" width="2.1" height="2.1"/><rect x="393.9" y="136.1" width="2.1" height="2.1"/><rect x="375.7" y="164.2" width="2.1" height="2.1"/><rect x="369.5" y="140.7" width="2.1" height="2.1"/><rect x="373.4" y="139.1" width="2.1" height="2.1"/><rect x="403.3" y="140.0" width="2.1" height="2.1"/><rect x="410.4" y="137.4" width="2.1" height="2.1"/><rect x="377.1" y="158.3" width="2.1" height="2.1"/><rect x="370.5" y="144.5" width="2.1" height="2.1"/><rect x="381.1" y="145.6" width="2.1" height="2.1"/><rect x="402.8" y="129.4" width="2.1" height="2.1"/><rect x="390.1" y="141.1" width="2.1" height="2.1"/><rect x="357.3" y="143.1" width="2.1" height="2.1"/><rect x="381.6" y="149.4" width="2.1" height="2.1"/><rect x="391.5" y="146.0" width="2.1" height="2.1"/><rect x="383.1" y="139.4" width="2.1" height="2.1"/><rect x="387.6" y="131.4" width="2.1" height="2.1"/><rect x="358.8" y="150.9" width="2.1" height="2.1"/><rect x="356.5" y="149.8" width="2.1" height="2.1"/><rect x="368.5" y="144.4" width="2.1" height="2.1"/><rect x="380.0" y="136.8" width="2.1" height="2.1"/><rect x="369.7" y="131.2" width="2.1" height="2.1"/><rect x="383.1" y="134.7" width="2.1" height="2.1"/><rect x="380.1" y="114.6" width="2.1" height="2.1"/><rect x="370.7" y="152.2" width="2.1" height="2.1"/><rect x="339.1" y="158.8" width="2.1" height="2.1"/><rect x="386.0" y="144.2" width="2.1" height="2.1"/><rect x="358.2" y="157.3" width="2.1" height="2.1"/><rect x="382.8" y="133.8" width="2.1" height="2.1"/><rect x="397.0" y="137.9" width="2.1" height="2.1"/><rect x="382.5" y="139.6" width="2.1" height="2.1"/><rect x="394.1" y="140.8" width="2.1" height="2.1"/><rect x="406.0" y="139.7" width="2.1" height="2.1"/><rect x="372.1" y="146.5" width="2.1" height="2.1"/><rect x="398.9" y="133.7" width="2.1" height="2.1"/><rect x="392.8" y="146.0" width="2.1" height="2.1"/><rect x="371.6" y="123.5" width="2.1" height="2.1"/><rect x="387.1" y="145.0" width="2.1" height="2.1"/><rect x="383.4" y="135.8" width="2.1" height="2.1"/><rect x="405.0" y="133.6" width="2.1" height="2.1"/><rect x="370.0" y="141.9" width="2.1" height="2.1"/><rect x="386.1" y="131.1" width="2.1" height="2.1"/><rect x="374.0" y="170.2" width="2.1" height="2.1"/><rect x="411.5" y="144.0" width="2.1" height="2.1"/><rect x="410.6" y="139.3" width="2.1" height="2.1"/><rect x="358.6" y="167.8" width="2.1" height="2.1"/><rect x="408.0" y="139.3" width="2.1" height="2.1"/><rect x="353.9" y="170.3" width="2.1" height="2.1"/><rect x="406.4" y="129.1" width="2.1" height="2.1"/><rect x="389.3" y="150.3" width="2.1" height="2.1"/><rect x="386.8" y="154.9" width="2.1" height="2.1"/><rect x="388.1" y="149.8" width="2.1" height="2.1"/><rect x="379.6" y="129.4" width="2.1" height="2.1"/><rect x="378.6" y="181.1" width="2.1" height="2.1"/><rect x="394.1" y="154.1" width="2.1" height="2.1"/><rect x="411.0" y="151.5" width="2.1" height="2.1"/><rect x="391.5" y="134.2" width="2.1" height="2.1"/><rect x="376.7" y="125.8" width="2.1" height="2.1"/><rect x="384.2" y="153.9" width="2.1" height="2.1"/><rect x="346.1" y="162.0" width="2.1" height="2.1"/><rect x="403.9" y="150.2" width="2.1" height="2.1"/><rect x="364.8" y="144.8" width="2.1" height="2.1"/><rect x="346.4" y="148.5" width="2.1" height="2.1"/><rect x="401.7" y="159.4" width="2.1" height="2.1"/><rect x="368.9" y="165.5" width="2.1" height="2.1"/><rect x="389.6" y="136.1" width="2.1" height="2.1"/><rect x="413.3" y="103.8" width="2.1" height="2.1"/><rect x="383.6" y="146.5" width="2.1" height="2.1"/><rect x="429.2" y="144.8" width="2.1" height="2.1"/><rect x="425.0" y="128.2" width="2.1" height="2.1"/><rect x="406.9" y="149.4" width="2.1" height="2.1"/><rect x="394.5" y="143.5" width="2.1" height="2.1"/><rect x="379.0" y="141.5" width="2.1" height="2.1"/><rect x="369.6" y="171.5" width="2.1" height="2.1"/><rect x="367.7" y="127.7" width="2.1" height="2.1"/><rect x="388.5" y="141.6" width="2.1" height="2.1"/><rect x="394.3" y="159.7" width="2.1" height="2.1"/><rect x="381.0" y="142.3" width="2.1" height="2.1"/><rect x="370.5" y="149.4" width="2.1" height="2.1"/><rect x="376.9" y="149.2" width="2.1" height="2.1"/><rect x="441.5" y="124.1" width="2.1" height="2.1"/><rect x="376.2" y="168.6" width="2.1" height="2.1"/><rect x="402.7" y="145.1" width="2.1" height="2.1"/><rect x="400.0" y="146.3" width="2.1" height="2.1"/><rect x="401.6" y="152.1" width="2.1" height="2.1"/><rect x="407.3" y="149.1" width="2.1" height="2.1"/><rect x="374.9" y="147.7" width="2.1" height="2.1"/><rect x="374.7" y="158.5" width="2.1" height="2.1"/><rect x="397.0" y="133.3" width="2.1" height="2.1"/><rect x="404.8" y="164.3" width="2.1" height="2.1"/><rect x="401.7" y="124.1" width="2.1" height="2.1"/><rect x="384.8" y="150.6" width="2.1" height="2.1"/><rect x="384.8" y="147.9" width="2.1" height="2.1"/><rect x="406.4" y="138.1" width="2.1" height="2.1"/><rect x="367.1" y="159.0" width="2.1" height="2.1"/><rect x="382.7" y="145.8" width="2.1" height="2.1"/><rect x="368.3" y="135.2" width="2.1" height="2.1"/><rect x="360.2" y="150.0" width="2.1" height="2.1"/><rect x="354.0" y="126.4" width="2.1" height="2.1"/><rect x="400.0" y="124.3" width="2.1" height="2.1"/><rect x="373.0" y="154.4" width="2.1" height="2.1"/><rect x="346.0" y="174.8" width="2.1" height="2.1"/><rect x="372.8" y="156.0" width="2.1" height="2.1"/><rect x="376.5" y="150.5" width="2.1" height="2.1"/><rect x="385.8" y="143.1" width="2.1" height="2.1"/><rect x="345.3" y="143.9" width="2.1" height="2.1"/><rect x="388.8" y="157.6" width="2.1" height="2.1"/><rect x="336.8" y="158.9" width="2.1" height="2.1"/><rect x="345.3" y="155.9" width="2.1" height="2.1"/><rect x="349.8" y="134.4" width="2.1" height="2.1"/><rect x="344.8" y="149.3" width="2.1" height="2.1"/><rect x="335.8" y="145.1" width="2.1" height="2.1"/><rect x="329.5" y="145.2" width="2.1" height="2.1"/><rect x="335.7" y="179.4" width="2.1" height="2.1"/><rect x="362.6" y="145.9" width="2.1" height="2.1"/><rect x="348.2" y="140.1" width="2.1" height="2.1"/><rect x="303.1" y="145.1" width="2.1" height="2.1"/><rect x="347.7" y="164.9" width="2.1" height="2.1"/><rect x="338.6" y="142.8" width="2.1" height="2.1"/><rect x="336.2" y="143.5" width="2.1" height="2.1"/><rect x="324.4" y="154.9" width="2.1" height="2.1"/><rect x="334.8" y="145.8" width="2.1" height="2.1"/><rect x="328.6" y="146.5" width="2.1" height="2.1"/><rect x="348.7" y="164.1" width="2.1" height="2.1"/><rect x="345.7" y="173.6" width="2.1" height="2.1"/><rect x="323.1" y="160.4" width="2.1" height="2.1"/><rect x="327.5" y="154.7" width="2.1" height="2.1"/><rect x="344.8" y="156.8" width="2.1" height="2.1"/><rect x="354.1" y="142.7" width="2.1" height="2.1"/><rect x="326.3" y="154.7" width="2.1" height="2.1"/><rect x="343.6" y="144.4" width="2.1" height="2.1"/><rect x="357.5" y="164.4" width="2.1" height="2.1"/><rect x="325.7" y="160.5" width="2.1" height="2.1"/><rect x="348.9" y="130.3" width="2.1" height="2.1"/><rect x="343.8" y="149.1" width="2.1" height="2.1"/><rect x="328.4" y="169.4" width="2.1" height="2.1"/><rect x="343.2" y="146.7" width="2.1" height="2.1"/><rect x="349.1" y="156.3" width="2.1" height="2.1"/><rect x="352.9" y="154.6" width="2.1" height="2.1"/><rect x="343.6" y="139.5" width="2.1" height="2.1"/><rect x="337.2" y="154.7" width="2.1" height="2.1"/><rect x="314.3" y="181.9" width="2.1" height="2.1"/><rect x="334.4" y="143.5" width="2.1" height="2.1"/><rect x="320.6" y="160.9" width="2.1" height="2.1"/><rect x="340.7" y="146.4" width="2.1" height="2.1"/><rect x="334.4" y="145.2" width="2.1" height="2.1"/><rect x="332.6" y="153.8" width="2.1" height="2.1"/><rect x="336.0" y="160.6" width="2.1" height="2.1"/><rect x="340.6" y="153.7" width="2.1" height="2.1"/><rect x="350.4" y="162.3" width="2.1" height="2.1"/><rect x="349.9" y="151.9" width="2.1" height="2.1"/><rect x="337.7" y="145.0" width="2.1" height="2.1"/><rect x="339.7" y="159.6" width="2.1" height="2.1"/><rect x="343.6" y="147.5" width="2.1" height="2.1"/><rect x="321.5" y="142.5" width="2.1" height="2.1"/><rect x="348.7" y="160.4" width="2.1" height="2.1"/><rect x="342.6" y="137.8" width="2.1" height="2.1"/><rect x="340.0" y="154.8" width="2.1" height="2.1"/><rect x="331.8" y="158.5" width="2.1" height="2.1"/><rect x="337.2" y="144.9" width="2.1" height="2.1"/><rect x="329.2" y="164.0" width="2.1" height="2.1"/><rect x="343.8" y="142.4" width="2.1" height="2.1"/><rect x="332.1" y="163.9" width="2.1" height="2.1"/><rect x="348.3" y="146.9" width="2.1" height="2.1"/><rect x="360.5" y="143.4" width="2.1" height="2.1"/><rect x="332.2" y="166.0" width="2.1" height="2.1"/><rect x="340.6" y="155.9" width="2.1" height="2.1"/><rect x="339.6" y="142.5" width="2.1" height="2.1"/><rect x="327.0" y="154.5" width="2.1" height="2.1"/><rect x="356.2" y="137.5" width="2.1" height="2.1"/><rect x="359.0" y="149.1" width="2.1" height="2.1"/><rect x="329.2" y="158.5" width="2.1" height="2.1"/><rect x="346.3" y="141.5" width="2.1" height="2.1"/><rect x="317.1" y="163.0" width="2.1" height="2.1"/><rect x="329.7" y="160.1" width="2.1" height="2.1"/><rect x="318.4" y="157.6" width="2.1" height="2.1"/><rect x="328.0" y="141.1" width="2.1" height="2.1"/><rect x="339.5" y="154.4" width="2.1" height="2.1"/><rect x="331.9" y="143.0" width="2.1" height="2.1"/><rect x="339.6" y="134.9" width="2.1" height="2.1"/><rect x="349.8" y="154.6" width="2.1" height="2.1"/><rect x="364.7" y="154.1" width="2.1" height="2.1"/><rect x="347.0" y="153.1" width="2.1" height="2.1"/><rect x="338.6" y="139.5" width="2.1" height="2.1"/><rect x="361.1" y="151.5" width="2.1" height="2.1"/><rect x="335.3" y="142.3" width="2.1" height="2.1"/><rect x="361.4" y="151.5" width="2.1" height="2.1"/><rect x="329.5" y="162.5" width="2.1" height="2.1"/><rect x="364.8" y="144.9" width="2.1" height="2.1"/><rect x="345.6" y="146.6" width="2.1" height="2.1"/><rect x="337.3" y="164.2" width="2.1" height="2.1"/><rect x="379.5" y="141.9" width="2.1" height="2.1"/><rect x="342.7" y="159.8" width="2.1" height="2.1"/><rect x="340.3" y="159.8" width="2.1" height="2.1"/><rect x="349.1" y="139.5" width="2.1" height="2.1"/><rect x="328.8" y="155.2" width="2.1" height="2.1"/><rect x="352.8" y="151.5" width="2.1" height="2.1"/><rect x="353.1" y="134.6" width="2.1" height="2.1"/><rect x="346.2" y="144.4" width="2.1" height="2.1"/><rect x="344.1" y="154.6" width="2.1" height="2.1"/><rect x="329.6" y="153.3" width="2.1" height="2.1"/><rect x="328.6" y="158.6" width="2.1" height="2.1"/><rect x="330.3" y="150.4" width="2.1" height="2.1"/><rect x="342.8" y="145.1" width="2.1" height="2.1"/><rect x="354.1" y="141.9" width="2.1" height="2.1"/><rect x="353.0" y="151.5" width="2.1" height="2.1"/><rect x="328.8" y="153.7" width="2.1" height="2.1"/><rect x="330.8" y="151.6" width="2.1" height="2.1"/><rect x="343.7" y="169.8" width="2.1" height="2.1"/><rect x="341.3" y="168.0" width="2.1" height="2.1"/><rect x="343.7" y="138.2" width="2.1" height="2.1"/><rect x="315.9" y="166.6" width="2.1" height="2.1"/><rect x="319.9" y="165.8" width="2.1" height="2.1"/><rect x="355.5" y="151.8" width="2.1" height="2.1"/><rect x="338.7" y="150.4" width="2.1" height="2.1"/><rect x="344.2" y="148.2" width="2.1" height="2.1"/><rect x="334.5" y="150.5" width="2.1" height="2.1"/><rect x="354.3" y="142.0" width="2.1" height="2.1"/><rect x="343.3" y="139.9" width="2.1" height="2.1"/><rect x="329.5" y="141.8" width="2.1" height="2.1"/><rect x="341.5" y="159.0" width="2.1" height="2.1"/><rect x="344.3" y="146.3" width="2.1" height="2.1"/><rect x="348.4" y="146.5" width="2.1" height="2.1"/><rect x="347.2" y="153.1" width="2.1" height="2.1"/><rect x="341.6" y="127.0" width="2.1" height="2.1"/><rect x="328.4" y="163.8" width="2.1" height="2.1"/><rect x="346.9" y="173.1" width="2.1" height="2.1"/><rect x="337.6" y="147.7" width="2.1" height="2.1"/><rect x="361.5" y="151.7" width="2.1" height="2.1"/><rect x="366.2" y="149.8" width="2.1" height="2.1"/><rect x="341.5" y="159.4" width="2.1" height="2.1"/><rect x="331.2" y="150.7" width="2.1" height="2.1"/><rect x="334.6" y="151.9" width="2.1" height="2.1"/><rect x="350.0" y="144.7" width="2.1" height="2.1"/><rect x="344.4" y="146.2" width="2.1" height="2.1"/><rect x="344.9" y="123.2" width="2.1" height="2.1"/><rect x="339.9" y="154.3" width="2.1" height="2.1"/><rect x="331.8" y="165.2" width="2.1" height="2.1"/><rect x="348.1" y="163.0" width="2.1" height="2.1"/><rect x="355.3" y="154.4" width="2.1" height="2.1"/><rect x="337.1" y="142.4" width="2.1" height="2.1"/><rect x="338.0" y="148.5" width="2.1" height="2.1"/><rect x="343.7" y="146.7" width="2.1" height="2.1"/><rect x="374.3" y="126.1" width="2.1" height="2.1"/><rect x="354.8" y="143.4" width="2.1" height="2.1"/><rect x="341.6" y="161.4" width="2.1" height="2.1"/><rect x="338.6" y="140.7" width="2.1" height="2.1"/><rect x="346.4" y="148.7" width="2.1" height="2.1"/><rect x="317.7" y="161.2" width="2.1" height="2.1"/><rect x="327.2" y="148.9" width="2.1" height="2.1"/><rect x="348.6" y="153.0" width="2.1" height="2.1"/><rect x="344.5" y="173.1" width="2.1" height="2.1"/><rect x="345.3" y="144.8" width="2.1" height="2.1"/><rect x="344.5" y="150.0" width="2.1" height="2.1"/><rect x="311.1" y="145.3" width="2.1" height="2.1"/><rect x="331.0" y="176.1" width="2.1" height="2.1"/><rect x="339.0" y="150.1" width="2.1" height="2.1"/><rect x="337.9" y="163.1" width="2.1" height="2.1"/><rect x="347.0" y="167.6" width="2.1" height="2.1"/><rect x="356.0" y="164.3" width="2.1" height="2.1"/><rect x="341.6" y="155.8" width="2.1" height="2.1"/><rect x="336.3" y="152.0" width="2.1" height="2.1"/><rect x="319.5" y="152.8" width="2.1" height="2.1"/><rect x="328.7" y="149.4" width="2.1" height="2.1"/><rect x="357.3" y="150.0" width="2.1" height="2.1"/><rect x="359.0" y="155.5" width="2.1" height="2.1"/><rect x="355.8" y="157.9" width="2.1" height="2.1"/><rect x="336.9" y="161.5" width="2.1" height="2.1"/><rect x="336.6" y="148.2" width="2.1" height="2.1"/><rect x="362.3" y="167.6" width="2.1" height="2.1"/><rect x="335.0" y="171.5" width="2.1" height="2.1"/><rect x="349.6" y="141.1" width="2.1" height="2.1"/><rect x="346.3" y="154.4" width="2.1" height="2.1"/><rect x="345.5" y="147.3" width="2.1" height="2.1"/><rect x="326.6" y="156.9" width="2.1" height="2.1"/><rect x="354.5" y="156.1" width="2.1" height="2.1"/><rect x="352.9" y="159.7" width="2.1" height="2.1"/><rect x="329.9" y="155.1" width="2.1" height="2.1"/><rect x="348.8" y="159.9" width="2.1" height="2.1"/><rect x="345.3" y="156.2" width="2.1" height="2.1"/><rect x="349.4" y="170.8" width="2.1" height="2.1"/><rect x="315.7" y="159.6" width="2.1" height="2.1"/><rect x="372.3" y="145.2" width="2.1" height="2.1"/><rect x="320.3" y="159.8" width="2.1" height="2.1"/><rect x="322.9" y="150.8" width="2.1" height="2.1"/><rect x="349.4" y="167.0" width="2.1" height="2.1"/><rect x="349.4" y="156.5" width="2.1" height="2.1"/><rect x="354.7" y="150.1" width="2.1" height="2.1"/><rect x="331.4" y="154.1" width="2.1" height="2.1"/><rect x="345.2" y="148.2" width="2.1" height="2.1"/><rect x="333.0" y="151.0" width="2.1" height="2.1"/><rect x="321.1" y="147.9" width="2.1" height="2.1"/><rect x="339.9" y="148.9" width="2.1" height="2.1"/><rect x="346.3" y="164.8" width="2.1" height="2.1"/><rect x="345.5" y="150.6" width="2.1" height="2.1"/><rect x="324.9" y="146.2" width="2.1" height="2.1"/><rect x="344.0" y="142.5" width="2.1" height="2.1"/><rect x="344.1" y="140.5" width="2.1" height="2.1"/><rect x="343.4" y="150.8" width="2.1" height="2.1"/><rect x="352.8" y="144.8" width="2.1" height="2.1"/><rect x="338.2" y="155.6" width="2.1" height="2.1"/><rect x="347.3" y="167.3" width="2.1" height="2.1"/><rect x="337.4" y="147.9" width="2.1" height="2.1"/><rect x="339.4" y="157.5" width="2.1" height="2.1"/><rect x="346.7" y="157.5" width="2.1" height="2.1"/><rect x="332.2" y="179.8" width="2.1" height="2.1"/><rect x="363.9" y="145.0" width="2.1" height="2.1"/><rect x="327.9" y="157.7" width="2.1" height="2.1"/><rect x="340.8" y="129.9" width="2.1" height="2.1"/><rect x="338.0" y="138.3" width="2.1" height="2.1"/><rect x="351.3" y="163.0" width="2.1" height="2.1"/><rect x="350.2" y="134.4" width="2.1" height="2.1"/><rect x="361.0" y="155.3" width="2.1" height="2.1"/><rect x="339.0" y="157.9" width="2.1" height="2.1"/><rect x="359.2" y="143.4" width="2.1" height="2.1"/><rect x="340.2" y="146.9" width="2.1" height="2.1"/><rect x="349.9" y="127.9" width="2.1" height="2.1"/><rect x="356.3" y="137.9" width="2.1" height="2.1"/><rect x="348.6" y="133.6" width="2.1" height="2.1"/><rect x="329.1" y="149.8" width="2.1" height="2.1"/><rect x="347.4" y="134.0" width="2.1" height="2.1"/><rect x="347.4" y="143.9" width="2.1" height="2.1"/><rect x="356.0" y="144.6" width="2.1" height="2.1"/><rect x="347.3" y="148.6" width="2.1" height="2.1"/><rect x="362.4" y="142.2" width="2.1" height="2.1"/><rect x="347.1" y="170.3" width="2.1" height="2.1"/><rect x="344.8" y="158.0" width="2.1" height="2.1"/><rect x="333.7" y="156.4" width="2.1" height="2.1"/><rect x="315.1" y="161.1" width="2.1" height="2.1"/><rect x="330.0" y="140.4" width="2.1" height="2.1"/><rect x="328.1" y="167.6" width="2.1" height="2.1"/><rect x="342.9" y="136.4" width="2.1" height="2.1"/><rect x="361.8" y="139.0" width="2.1" height="2.1"/><rect x="338.2" y="155.5" width="2.1" height="2.1"/><rect x="323.9" y="141.1" width="2.1" height="2.1"/><rect x="336.3" y="165.5" width="2.1" height="2.1"/><rect x="349.0" y="134.0" width="2.1" height="2.1"/><rect x="356.5" y="147.9" width="2.1" height="2.1"/><rect x="348.1" y="150.6" width="2.1" height="2.1"/><rect x="344.1" y="141.2" width="2.1" height="2.1"/><rect x="329.1" y="148.7" width="2.1" height="2.1"/><rect x="339.2" y="159.0" width="2.1" height="2.1"/><rect x="331.8" y="171.0" width="2.1" height="2.1"/><rect x="332.7" y="148.8" width="2.1" height="2.1"/><rect x="351.6" y="153.4" width="2.1" height="2.1"/><rect x="334.9" y="143.3" width="2.1" height="2.1"/><rect x="325.5" y="140.8" width="2.1" height="2.1"/><rect x="358.6" y="157.8" width="2.1" height="2.1"/><rect x="365.7" y="149.8" width="2.1" height="2.1"/><rect x="348.0" y="157.7" width="2.1" height="2.1"/><rect x="352.6" y="146.1" width="2.1" height="2.1"/><rect x="352.1" y="170.5" width="2.1" height="2.1"/><rect x="317.8" y="145.1" width="2.1" height="2.1"/><rect x="332.5" y="162.4" width="2.1" height="2.1"/><rect x="355.2" y="144.6" width="2.1" height="2.1"/><rect x="349.9" y="149.1" width="2.1" height="2.1"/><rect x="344.0" y="145.9" width="2.1" height="2.1"/><rect x="341.6" y="152.0" width="2.1" height="2.1"/><rect x="361.7" y="168.5" width="2.1" height="2.1"/><rect x="321.7" y="163.4" width="2.1" height="2.1"/><rect x="344.6" y="160.9" width="2.1" height="2.1"/><rect x="356.8" y="155.3" width="2.1" height="2.1"/><rect x="349.0" y="140.3" width="2.1" height="2.1"/><rect x="326.1" y="173.5" width="2.1" height="2.1"/><rect x="353.8" y="138.8" width="2.1" height="2.1"/><rect x="359.3" y="153.5" width="2.1" height="2.1"/><rect x="315.0" y="169.1" width="2.1" height="2.1"/><rect x="333.3" y="166.3" width="2.1" height="2.1"/><rect x="331.7" y="147.5" width="2.1" height="2.1"/><rect x="322.8" y="155.5" width="2.1" height="2.1"/><rect x="352.3" y="142.1" width="2.1" height="2.1"/><rect x="325.6" y="178.4" width="2.1" height="2.1"/><rect x="366.0" y="151.7" width="2.1" height="2.1"/><rect x="332.1" y="142.7" width="2.1" height="2.1"/><rect x="323.8" y="163.0" width="2.1" height="2.1"/><rect x="354.6" y="137.5" width="2.1" height="2.1"/><rect x="341.2" y="149.4" width="2.1" height="2.1"/><rect x="340.3" y="157.5" width="2.1" height="2.1"/><rect x="365.3" y="138.5" width="2.1" height="2.1"/><rect x="355.2" y="158.9" width="2.1" height="2.1"/><rect x="338.1" y="151.6" width="2.1" height="2.1"/><rect x="328.8" y="166.7" width="2.1" height="2.1"/><rect x="333.8" y="147.8" width="2.1" height="2.1"/><rect x="340.4" y="143.8" width="2.1" height="2.1"/><rect x="328.6" y="153.0" width="2.1" height="2.1"/><rect x="359.2" y="144.7" width="2.1" height="2.1"/><rect x="344.2" y="136.5" width="2.1" height="2.1"/><rect x="377.9" y="159.4" width="2.1" height="2.1"/><rect x="387.7" y="113.2" width="2.1" height="2.1"/><rect x="402.0" y="134.1" width="2.1" height="2.1"/><rect x="369.4" y="129.1" width="2.1" height="2.1"/><rect x="401.0" y="115.4" width="2.1" height="2.1"/><rect x="418.0" y="131.9" width="2.1" height="2.1"/><rect x="406.1" y="119.4" width="2.1" height="2.1"/><rect x="397.4" y="120.5" width="2.1" height="2.1"/><rect x="400.3" y="131.2" width="2.1" height="2.1"/><rect x="400.5" y="139.4" width="2.1" height="2.1"/><rect x="440.0" y="103.7" width="2.1" height="2.1"/><rect x="410.1" y="133.4" width="2.1" height="2.1"/><rect x="410.2" y="120.1" width="2.1" height="2.1"/><rect x="397.8" y="140.9" width="2.1" height="2.1"/><rect x="413.2" y="128.2" width="2.1" height="2.1"/><rect x="390.9" y="139.1" width="2.1" height="2.1"/><rect x="412.9" y="119.6" width="2.1" height="2.1"/><rect x="421.1" y="145.8" width="2.1" height="2.1"/><rect x="373.6" y="146.1" width="2.1" height="2.1"/><rect x="376.1" y="120.3" width="2.1" height="2.1"/><rect x="399.6" y="134.4" width="2.1" height="2.1"/><rect x="396.5" y="114.1" width="2.1" height="2.1"/><rect x="375.4" y="130.7" width="2.1" height="2.1"/><rect x="397.4" y="118.0" width="2.1" height="2.1"/><rect x="384.7" y="155.8" width="2.1" height="2.1"/><rect x="386.8" y="130.9" width="2.1" height="2.1"/><rect x="389.5" y="124.4" width="2.1" height="2.1"/><rect x="400.3" y="123.5" width="2.1" height="2.1"/><rect x="405.6" y="110.1" width="2.1" height="2.1"/><rect x="385.9" y="157.8" width="2.1" height="2.1"/><rect x="403.2" y="135.7" width="2.1" height="2.1"/><rect x="422.4" y="124.9" width="2.1" height="2.1"/><rect x="394.5" y="110.1" width="2.1" height="2.1"/><rect x="379.6" y="148.2" width="2.1" height="2.1"/><rect x="414.4" y="128.5" width="2.1" height="2.1"/><rect x="364.7" y="115.3" width="2.1" height="2.1"/><rect x="378.7" y="121.4" width="2.1" height="2.1"/><rect x="398.9" y="114.9" width="2.1" height="2.1"/><rect x="423.6" y="109.6" width="2.1" height="2.1"/><rect x="395.8" y="140.0" width="2.1" height="2.1"/><rect x="402.2" y="115.1" width="2.1" height="2.1"/><rect x="422.8" y="142.0" width="2.1" height="2.1"/><rect x="380.1" y="132.6" width="2.1" height="2.1"/><rect x="374.9" y="113.4" width="2.1" height="2.1"/><rect x="414.2" y="130.2" width="2.1" height="2.1"/><rect x="418.6" y="125.0" width="2.1" height="2.1"/><rect x="368.4" y="140.3" width="2.1" height="2.1"/><rect x="384.9" y="118.8" width="2.1" height="2.1"/><rect x="386.6" y="142.7" width="2.1" height="2.1"/><rect x="405.0" y="150.1" width="2.1" height="2.1"/><rect x="399.9" y="103.3" width="2.1" height="2.1"/><rect x="421.0" y="134.3" width="2.1" height="2.1"/><rect x="396.0" y="113.7" width="2.1" height="2.1"/><rect x="423.5" y="100.9" width="2.1" height="2.1"/><rect x="391.0" y="107.0" width="2.1" height="2.1"/><rect x="373.0" y="117.2" width="2.1" height="2.1"/><rect x="423.9" y="132.2" width="2.1" height="2.1"/><rect x="388.3" y="115.1" width="2.1" height="2.1"/><rect x="401.7" y="131.4" width="2.1" height="2.1"/><rect x="371.1" y="124.8" width="2.1" height="2.1"/><rect x="402.5" y="135.2" width="2.1" height="2.1"/><rect x="404.2" y="131.3" width="2.1" height="2.1"/><rect x="369.5" y="108.6" width="2.1" height="2.1"/><rect x="401.8" y="114.9" width="2.1" height="2.1"/><rect x="397.2" y="123.7" width="2.1" height="2.1"/><rect x="405.2" y="115.4" width="2.1" height="2.1"/><rect x="424.5" y="117.5" width="2.1" height="2.1"/><rect x="412.4" y="130.1" width="2.1" height="2.1"/><rect x="419.6" y="124.3" width="2.1" height="2.1"/><rect x="369.8" y="132.1" width="2.1" height="2.1"/><rect x="433.2" y="119.4" width="2.1" height="2.1"/><rect x="412.2" y="128.2" width="2.1" height="2.1"/><rect x="387.5" y="124.0" width="2.1" height="2.1"/><rect x="395.7" y="143.9" width="2.1" height="2.1"/><rect x="414.9" y="143.7" width="2.1" height="2.1"/><rect x="417.6" y="144.0" width="2.1" height="2.1"/><rect x="403.0" y="111.0" width="2.1" height="2.1"/><rect x="430.8" y="118.7" width="2.1" height="2.1"/><rect x="421.3" y="121.1" width="2.1" height="2.1"/><rect x="396.4" y="131.0" width="2.1" height="2.1"/><rect x="377.3" y="121.7" width="2.1" height="2.1"/><rect x="384.1" y="127.3" width="2.1" height="2.1"/><rect x="378.4" y="135.1" width="2.1" height="2.1"/><rect x="415.1" y="146.9" width="2.1" height="2.1"/><rect x="430.7" y="113.8" width="2.1" height="2.1"/><rect x="414.4" y="118.5" width="2.1" height="2.1"/><rect x="407.2" y="123.9" width="2.1" height="2.1"/><rect x="392.5" y="131.5" width="2.1" height="2.1"/><rect x="378.9" y="141.9" width="2.1" height="2.1"/><rect x="391.3" y="117.2" width="2.1" height="2.1"/><rect x="397.6" y="135.4" width="2.1" height="2.1"/><rect x="392.0" y="136.8" width="2.1" height="2.1"/><rect x="417.4" y="140.0" width="2.1" height="2.1"/><rect x="382.7" y="133.2" width="2.1" height="2.1"/><rect x="416.2" y="139.8" width="2.1" height="2.1"/><rect x="408.7" y="133.4" width="2.1" height="2.1"/><rect x="374.3" y="130.7" width="2.1" height="2.1"/><rect x="426.8" y="112.5" width="2.1" height="2.1"/><rect x="433.0" y="104.2" width="2.1" height="2.1"/><rect x="389.1" y="111.5" width="2.1" height="2.1"/><rect x="412.6" y="125.5" width="2.1" height="2.1"/><rect x="434.7" y="114.9" width="2.1" height="2.1"/><rect x="390.4" y="113.3" width="2.1" height="2.1"/><rect x="403.9" y="137.8" width="2.1" height="2.1"/><rect x="418.7" y="135.3" width="2.1" height="2.1"/><rect x="414.9" y="120.5" width="2.1" height="2.1"/><rect x="411.6" y="124.7" width="2.1" height="2.1"/><rect x="387.0" y="154.8" width="2.1" height="2.1"/><rect x="402.3" y="112.9" width="2.1" height="2.1"/><rect x="408.6" y="127.4" width="2.1" height="2.1"/><rect x="423.9" y="135.9" width="2.1" height="2.1"/><rect x="353.6" y="154.0" width="2.1" height="2.1"/><rect x="421.7" y="106.0" width="2.1" height="2.1"/><rect x="371.7" y="142.8" width="2.1" height="2.1"/><rect x="408.1" y="128.5" width="2.1" height="2.1"/><rect x="380.6" y="129.5" width="2.1" height="2.1"/><rect x="407.6" y="133.8" width="2.1" height="2.1"/><rect x="438.3" y="115.0" width="2.1" height="2.1"/><rect x="380.2" y="105.3" width="2.1" height="2.1"/><rect x="418.0" y="118.1" width="2.1" height="2.1"/><rect x="394.6" y="116.9" width="2.1" height="2.1"/><rect x="404.8" y="102.2" width="2.1" height="2.1"/><rect x="403.3" y="127.5" width="2.1" height="2.1"/><rect x="411.9" y="139.2" width="2.1" height="2.1"/><rect x="399.8" y="128.7" width="2.1" height="2.1"/><rect x="407.9" y="104.0" width="2.1" height="2.1"/><rect x="396.5" y="129.7" width="2.1" height="2.1"/><rect x="413.0" y="111.6" width="2.1" height="2.1"/><rect x="416.0" y="125.6" width="2.1" height="2.1"/><rect x="369.6" y="121.0" width="2.1" height="2.1"/><rect x="378.0" y="138.4" width="2.1" height="2.1"/><rect x="407.7" y="133.5" width="2.1" height="2.1"/><rect x="411.9" y="115.2" width="2.1" height="2.1"/><rect x="422.4" y="128.5" width="2.1" height="2.1"/><rect x="410.9" y="128.9" width="2.1" height="2.1"/><rect x="381.4" y="139.8" width="2.1" height="2.1"/><rect x="378.4" y="121.0" width="2.1" height="2.1"/><rect x="395.8" y="130.9" width="2.1" height="2.1"/><rect x="398.5" y="123.7" width="2.1" height="2.1"/><rect x="385.3" y="135.9" width="2.1" height="2.1"/><rect x="382.2" y="116.6" width="2.1" height="2.1"/><rect x="409.2" y="142.3" width="2.1" height="2.1"/><rect x="389.4" y="118.1" width="2.1" height="2.1"/><rect x="431.7" y="136.2" width="2.1" height="2.1"/><rect x="395.1" y="126.7" width="2.1" height="2.1"/><rect x="418.1" y="158.0" width="2.1" height="2.1"/><rect x="407.8" y="137.0" width="2.1" height="2.1"/><rect x="399.9" y="103.8" width="2.1" height="2.1"/><rect x="377.1" y="121.0" width="2.1" height="2.1"/><rect x="408.6" y="125.1" width="2.1" height="2.1"/><rect x="429.3" y="111.6" width="2.1" height="2.1"/><rect x="406.4" y="125.6" width="2.1" height="2.1"/><rect x="414.0" y="151.5" width="2.1" height="2.1"/><rect x="412.5" y="141.2" width="2.1" height="2.1"/><rect x="419.6" y="111.3" width="2.1" height="2.1"/><rect x="410.5" y="118.0" width="2.1" height="2.1"/><rect x="403.5" y="127.9" width="2.1" height="2.1"/><rect x="399.1" y="121.6" width="2.1" height="2.1"/><rect x="425.5" y="113.2" width="2.1" height="2.1"/><rect x="420.3" y="140.6" width="2.1" height="2.1"/><rect x="416.1" y="133.9" width="2.1" height="2.1"/><rect x="429.0" y="129.3" width="2.1" height="2.1"/><rect x="422.8" y="99.3" width="2.1" height="2.1"/><rect x="433.5" y="113.6" width="2.1" height="2.1"/><rect x="369.1" y="132.0" width="2.1" height="2.1"/><rect x="377.8" y="136.4" width="2.1" height="2.1"/><rect x="371.6" y="126.2" width="2.1" height="2.1"/><rect x="406.6" y="126.6" width="2.1" height="2.1"/><rect x="386.7" y="129.9" width="2.1" height="2.1"/><rect x="399.7" y="128.5" width="2.1" height="2.1"/><rect x="399.8" y="124.6" width="2.1" height="2.1"/><rect x="408.1" y="103.1" width="2.1" height="2.1"/><rect x="393.4" y="131.9" width="2.1" height="2.1"/><rect x="391.7" y="123.6" width="2.1" height="2.1"/><rect x="394.7" y="132.3" width="2.1" height="2.1"/><rect x="420.7" y="116.2" width="2.1" height="2.1"/><rect x="398.2" y="132.7" width="2.1" height="2.1"/><rect x="388.0" y="107.3" width="2.1" height="2.1"/><rect x="403.6" y="120.9" width="2.1" height="2.1"/><rect x="394.4" y="137.9" width="2.1" height="2.1"/><rect x="399.1" y="120.4" width="2.1" height="2.1"/><rect x="356.9" y="123.1" width="2.1" height="2.1"/><rect x="400.6" y="125.6" width="2.1" height="2.1"/><rect x="409.3" y="126.4" width="2.1" height="2.1"/><rect x="387.1" y="116.3" width="2.1" height="2.1"/><rect x="382.1" y="133.0" width="2.1" height="2.1"/><rect x="385.4" y="143.3" width="2.1" height="2.1"/><rect x="370.6" y="116.4" width="2.1" height="2.1"/><rect x="389.5" y="108.7" width="2.1" height="2.1"/><rect x="423.3" y="104.6" width="2.1" height="2.1"/><rect x="399.0" y="124.6" width="2.1" height="2.1"/><rect x="379.1" y="113.1" width="2.1" height="2.1"/><rect x="374.1" y="149.5" width="2.1" height="2.1"/><rect x="427.9" y="143.8" width="2.1" height="2.1"/><rect x="379.3" y="143.3" width="2.1" height="2.1"/><rect x="404.6" y="136.4" width="2.1" height="2.1"/><rect x="395.8" y="138.5" width="2.1" height="2.1"/><rect x="418.6" y="127.4" width="2.1" height="2.1"/><rect x="424.1" y="114.9" width="2.1" height="2.1"/><rect x="423.3" y="108.4" width="2.1" height="2.1"/><rect x="397.5" y="118.0" width="2.1" height="2.1"/><rect x="405.8" y="138.3" width="2.1" height="2.1"/><rect x="413.3" y="123.0" width="2.1" height="2.1"/><rect x="422.3" y="98.8" width="2.1" height="2.1"/><rect x="394.5" y="149.3" width="2.1" height="2.1"/><rect x="396.8" y="101.7" width="2.1" height="2.1"/><rect x="401.1" y="111.5" width="2.1" height="2.1"/><rect x="430.8" y="129.3" width="2.1" height="2.1"/><rect x="397.9" y="145.1" width="2.1" height="2.1"/><rect x="391.4" y="142.9" width="2.1" height="2.1"/><rect x="410.0" y="121.5" width="2.1" height="2.1"/><rect x="376.1" y="133.8" width="2.1" height="2.1"/><rect x="360.3" y="136.7" width="2.1" height="2.1"/><rect x="375.9" y="153.3" width="2.1" height="2.1"/><rect x="373.6" y="106.8" width="2.1" height="2.1"/><rect x="412.4" y="127.0" width="2.1" height="2.1"/><rect x="402.4" y="153.9" width="2.1" height="2.1"/><rect x="414.1" y="122.3" width="2.1" height="2.1"/><rect x="376.5" y="98.7" width="2.1" height="2.1"/><rect x="413.4" y="134.2" width="2.1" height="2.1"/><rect x="384.6" y="115.4" width="2.1" height="2.1"/><rect x="392.5" y="108.7" width="2.1" height="2.1"/><rect x="404.7" y="135.4" width="2.1" height="2.1"/><rect x="427.2" y="119.4" width="2.1" height="2.1"/><rect x="407.7" y="133.9" width="2.1" height="2.1"/><rect x="422.7" y="113.7" width="2.1" height="2.1"/><rect x="376.9" y="126.8" width="2.1" height="2.1"/><rect x="375.9" y="125.9" width="2.1" height="2.1"/><rect x="400.5" y="131.6" width="2.1" height="2.1"/><rect x="403.9" y="126.6" width="2.1" height="2.1"/><rect x="397.0" y="134.1" width="2.1" height="2.1"/><rect x="419.2" y="129.2" width="2.1" height="2.1"/><rect x="424.5" y="113.3" width="2.1" height="2.1"/><rect x="404.6" y="147.5" width="2.1" height="2.1"/><rect x="406.2" y="130.1" width="2.1" height="2.1"/><rect x="399.9" y="140.0" width="2.1" height="2.1"/><rect x="389.6" y="118.6" width="2.1" height="2.1"/><rect x="397.9" y="122.5" width="2.1" height="2.1"/><rect x="413.0" y="117.0" width="2.1" height="2.1"/><rect x="402.0" y="123.7" width="2.1" height="2.1"/><rect x="403.7" y="117.6" width="2.1" height="2.1"/><rect x="412.7" y="103.5" width="2.1" height="2.1"/><rect x="391.3" y="121.8" width="2.1" height="2.1"/><rect x="411.9" y="122.9" width="2.1" height="2.1"/><rect x="407.5" y="119.9" width="2.1" height="2.1"/><rect x="383.8" y="119.6" width="2.1" height="2.1"/><rect x="392.9" y="123.4" width="2.1" height="2.1"/><rect x="407.2" y="128.9" width="2.1" height="2.1"/><rect x="416.7" y="119.0" width="2.1" height="2.1"/><rect x="383.6" y="120.4" width="2.1" height="2.1"/><rect x="403.6" y="130.5" width="2.1" height="2.1"/><rect x="434.1" y="115.4" width="2.1" height="2.1"/><rect x="438.8" y="135.4" width="2.1" height="2.1"/><rect x="389.2" y="147.7" width="2.1" height="2.1"/><rect x="426.1" y="133.9" width="2.1" height="2.1"/><rect x="405.2" y="137.6" width="2.1" height="2.1"/><rect x="392.6" y="129.5" width="2.1" height="2.1"/><rect x="409.6" y="146.5" width="2.1" height="2.1"/><rect x="401.8" y="139.0" width="2.1" height="2.1"/><rect x="366.6" y="99.9" width="2.1" height="2.1"/><rect x="382.8" y="125.7" width="2.1" height="2.1"/><rect x="358.0" y="135.5" width="2.1" height="2.1"/><rect x="345.1" y="104.9" width="2.1" height="2.1"/><rect x="374.6" y="107.8" width="2.1" height="2.1"/><rect x="331.7" y="92.6" width="2.1" height="2.1"/><rect x="373.6" y="119.6" width="2.1" height="2.1"/><rect x="360.7" y="123.7" width="2.1" height="2.1"/><rect x="334.9" y="139.5" width="2.1" height="2.1"/><rect x="384.1" y="116.1" width="2.1" height="2.1"/><rect x="355.8" y="123.2" width="2.1" height="2.1"/><rect x="383.4" y="135.2" width="2.1" height="2.1"/><rect x="380.2" y="117.1" width="2.1" height="2.1"/><rect x="359.6" y="140.3" width="2.1" height="2.1"/><rect x="390.1" y="114.3" width="2.1" height="2.1"/><rect x="358.8" y="89.4" width="2.1" height="2.1"/><rect x="400.4" y="58.1" width="2.1" height="2.1"/><rect x="375.6" y="104.0" width="2.1" height="2.1"/><rect x="377.2" y="126.9" width="2.1" height="2.1"/><rect x="378.3" y="99.5" width="2.1" height="2.1"/><rect x="391.9" y="115.5" width="2.1" height="2.1"/><rect x="366.4" y="107.5" width="2.1" height="2.1"/><rect x="351.5" y="129.2" width="2.1" height="2.1"/><rect x="393.6" y="139.3" width="2.1" height="2.1"/><rect x="365.9" y="126.3" width="2.1" height="2.1"/><rect x="399.4" y="100.3" width="2.1" height="2.1"/><rect x="373.7" y="117.0" width="2.1" height="2.1"/><rect x="344.8" y="102.4" width="2.1" height="2.1"/><rect x="401.2" y="106.4" width="2.1" height="2.1"/><rect x="358.5" y="90.6" width="2.1" height="2.1"/><rect x="383.9" y="137.4" width="2.1" height="2.1"/><rect x="333.8" y="109.4" width="2.1" height="2.1"/><rect x="411.6" y="131.9" width="2.1" height="2.1"/><rect x="406.2" y="87.0" width="2.1" height="2.1"/><rect x="380.0" y="93.3" width="2.1" height="2.1"/><rect x="381.2" y="102.0" width="2.1" height="2.1"/><rect x="387.4" y="139.9" width="2.1" height="2.1"/><rect x="377.6" y="106.4" width="2.1" height="2.1"/><rect x="374.6" y="119.7" width="2.1" height="2.1"/><rect x="359.5" y="124.7" width="2.1" height="2.1"/><rect x="399.6" y="139.9" width="2.1" height="2.1"/><rect x="307.9" y="113.2" width="2.1" height="2.1"/><rect x="346.6" y="146.0" width="2.1" height="2.1"/><rect x="435.3" y="92.5" width="2.1" height="2.1"/><rect x="383.7" y="136.6" width="2.1" height="2.1"/><rect x="306.8" y="137.7" width="2.1" height="2.1"/><rect x="353.8" y="110.7" width="2.1" height="2.1"/><rect x="374.7" y="99.5" width="2.1" height="2.1"/><rect x="399.4" y="102.9" width="2.1" height="2.1"/><rect x="402.2" y="162.0" width="2.1" height="2.1"/><rect x="367.3" y="138.4" width="2.1" height="2.1"/><rect x="360.3" y="149.0" width="2.1" height="2.1"/><rect x="396.9" y="107.4" width="2.1" height="2.1"/><rect x="410.0" y="136.7" width="2.1" height="2.1"/><rect x="406.3" y="100.1" width="2.1" height="2.1"/><rect x="378.9" y="137.8" width="2.1" height="2.1"/><rect x="328.2" y="118.6" width="2.1" height="2.1"/><rect x="388.2" y="121.2" width="2.1" height="2.1"/><rect x="433.5" y="130.3" width="2.1" height="2.1"/><rect x="383.0" y="120.3" width="2.1" height="2.1"/><rect x="335.6" y="125.4" width="2.1" height="2.1"/><rect x="375.7" y="107.6" width="2.1" height="2.1"/><rect x="377.6" y="126.5" width="2.1" height="2.1"/><rect x="341.8" y="113.8" width="2.1" height="2.1"/><rect x="335.2" y="157.0" width="2.1" height="2.1"/><rect x="329.6" y="92.1" width="2.1" height="2.1"/><rect x="388.8" y="102.4" width="2.1" height="2.1"/><rect x="392.5" y="97.2" width="2.1" height="2.1"/><rect x="431.3" y="106.5" width="2.1" height="2.1"/><rect x="375.8" y="115.7" width="2.1" height="2.1"/><rect x="372.5" y="133.4" width="2.1" height="2.1"/><rect x="348.2" y="138.6" width="2.1" height="2.1"/><rect x="385.6" y="73.6" width="2.1" height="2.1"/><rect x="344.9" y="102.4" width="2.1" height="2.1"/><rect x="389.6" y="119.1" width="2.1" height="2.1"/><rect x="342.7" y="100.2" width="2.1" height="2.1"/><rect x="371.1" y="66.4" width="2.1" height="2.1"/><rect x="386.1" y="104.9" width="2.1" height="2.1"/><rect x="428.2" y="114.3" width="2.1" height="2.1"/><rect x="353.9" y="115.7" width="2.1" height="2.1"/><rect x="357.8" y="103.3" width="2.1" height="2.1"/><rect x="381.1" y="133.4" width="2.1" height="2.1"/><rect x="330.6" y="126.5" width="2.1" height="2.1"/><rect x="415.2" y="113.8" width="2.1" height="2.1"/><rect x="343.5" y="107.5" width="2.1" height="2.1"/><rect x="335.7" y="92.0" width="2.1" height="2.1"/><rect x="400.8" y="104.0" width="2.1" height="2.1"/><rect x="341.2" y="93.7" width="2.1" height="2.1"/><rect x="356.9" y="108.8" width="2.1" height="2.1"/><rect x="382.9" y="135.1" width="2.1" height="2.1"/><rect x="386.4" y="104.2" width="2.1" height="2.1"/><rect x="327.3" y="166.2" width="2.1" height="2.1"/><rect x="382.5" y="99.9" width="2.1" height="2.1"/><rect x="360.7" y="96.8" width="2.1" height="2.1"/><rect x="335.7" y="94.9" width="2.1" height="2.1"/><rect x="388.0" y="119.9" width="2.1" height="2.1"/><rect x="381.9" y="128.7" width="2.1" height="2.1"/><rect x="385.6" y="111.7" width="2.1" height="2.1"/><rect x="353.5" y="136.2" width="2.1" height="2.1"/><rect x="406.4" y="114.9" width="2.1" height="2.1"/><rect x="356.6" y="150.3" width="2.1" height="2.1"/><rect x="358.2" y="126.0" width="2.1" height="2.1"/><rect x="366.3" y="117.4" width="2.1" height="2.1"/><rect x="362.1" y="176.4" width="2.1" height="2.1"/><rect x="410.5" y="160.9" width="2.1" height="2.1"/><rect x="395.3" y="136.4" width="2.1" height="2.1"/><rect x="402.9" y="176.8" width="2.1" height="2.1"/><rect x="340.9" y="152.4" width="2.1" height="2.1"/><rect x="353.7" y="90.2" width="2.1" height="2.1"/><rect x="417.2" y="132.3" width="2.1" height="2.1"/><rect x="420.6" y="165.7" width="2.1" height="2.1"/><rect x="318.8" y="124.2" width="2.1" height="2.1"/><rect x="325.5" y="59.5" width="2.1" height="2.1"/><rect x="338.1" y="143.8" width="2.1" height="2.1"/><rect x="317.4" y="87.0" width="2.1" height="2.1"/><rect x="364.6" y="56.8" width="2.1" height="2.1"/><rect x="370.8" y="56.8" width="2.1" height="2.1"/><rect x="379.8" y="55.2" width="2.1" height="2.1"/><rect x="376.8" y="59.2" width="2.1" height="2.1"/><rect x="340.1" y="64.2" width="2.1" height="2.1"/><rect x="342.1" y="69.2" width="2.1" height="2.1"/><rect x="364.6" y="66.2" width="2.1" height="2.1"/><rect x="369.8" y="65.2" width="2.1" height="2.1"/><rect x="371.8" y="71.2" width="2.1" height="2.1"/><rect x="331.3" y="81.4" width="2.1" height="2.1"/><rect x="344.4" y="82.4" width="2.1" height="2.1"/><rect x="357.6" y="78.4" width="2.1" height="2.1"/><rect x="362.6" y="81.4" width="2.1" height="2.1"/><rect x="365.6" y="84.5" width="2.1" height="2.1"/><rect x="370.8" y="86.5" width="2.1" height="2.1"/><rect x="372.8" y="77.4" width="2.1" height="2.1"/><rect x="379.8" y="76.4" width="2.1" height="2.1"/><rect x="375.8" y="84.5" width="2.1" height="2.1"/><rect x="346.4" y="93.5" width="2.1" height="2.1"/><rect x="353.6" y="89.5" width="2.1" height="2.1"/><rect x="360.6" y="90.5" width="2.1" height="2.1"/><rect x="366.2" y="93.0" width="2.1" height="2.1"/><rect x="376.8" y="94.5" width="2.1" height="2.1"/><rect x="335.3" y="96.5" width="2.1" height="2.1"/><rect x="347.4" y="96.5" width="2.1" height="2.1"/><rect x="348.4" y="100.5" width="2.1" height="2.1"/><rect x="346.1" y="104.7" width="2.1" height="2.1"/><rect x="352.6" y="102.5" width="2.1" height="2.1"/><rect x="370.8" y="99.5" width="2.1" height="2.1"/><rect x="376.3" y="100.5" width="2.1" height="2.1"/><rect x="331.3" y="110.0" width="2.1" height="2.1"/><rect x="347.4" y="110.7" width="2.1" height="2.1"/><rect x="352.6" y="111.7" width="2.1" height="2.1"/><rect x="368.6" y="111.2" width="2.1" height="2.1"/><rect x="375.8" y="107.7" width="2.1" height="2.1"/><rect x="379.8" y="104.7" width="2.1" height="2.1"/><rect x="346.4" y="115.8" width="2.1" height="2.1"/><rect x="333.3" y="119.8" width="2.1" height="2.1"/><rect x="422.4" y="92.5" width="2.1" height="2.1"/><rect x="425.9" y="96.0" width="2.1" height="2.1"/><rect x="428.9" y="100.0" width="2.1" height="2.1"/><rect x="431.9" y="103.0" width="2.1" height="2.1"/><rect x="419.9" y="87.0" width="2.1" height="2.1"/><rect x="426.9" y="79.0" width="2.1" height="2.1"/><rect x="434.9" y="86.0" width="2.1" height="2.1"/><rect x="410.9" y="71.0" width="2.1" height="2.1"/><rect x="406.9" y="91.0" width="2.1" height="2.1"/></g>
<g fill="#d03030"><rect x="425.9" y="69.6" width="2.1" height="2.1"/><rect x="427.9" y="69.4" width="2.1" height="2.1"/><rect x="430.4" y="71.6" width="2.1" height="2.1"/><rect x="425.0" y="64.4" width="2.1" height="2.1"/><rect x="427.5" y="60.5" width="2.1" height="2.1"/><rect x="423.5" y="72.6" width="2.1" height="2.1"/><rect x="429.2" y="78.2" width="2.1" height="2.1"/><rect x="424.8" y="67.4" width="2.1" height="2.1"/><rect x="429.3" y="74.0" width="2.1" height="2.1"/><rect x="421.4" y="73.0" width="2.1" height="2.1"/><rect x="426.8" y="76.5" width="2.1" height="2.1"/><rect x="426.5" y="65.9" width="2.1" height="2.1"/><rect x="423.8" y="66.3" width="2.1" height="2.1"/><rect x="424.2" y="59.6" width="2.1" height="2.1"/><rect x="426.7" y="64.6" width="2.1" height="2.1"/><rect x="430.6" y="71.9" width="2.1" height="2.1"/><rect x="424.0" y="66.9" width="2.1" height="2.1"/><rect x="427.7" y="73.9" width="2.1" height="2.1"/><rect x="430.1" y="72.2" width="2.1" height="2.1"/><rect x="426.1" y="71.7" width="2.1" height="2.1"/><rect x="421.8" y="70.7" width="2.1" height="2.1"/><rect x="425.8" y="66.8" width="2.1" height="2.1"/><rect x="425.5" y="64.6" width="2.1" height="2.1"/><rect x="424.6" y="74.6" width="2.1" height="2.1"/><rect x="424.1" y="61.8" width="2.1" height="2.1"/><rect x="428.0" y="66.1" width="2.1" height="2.1"/><rect x="423.9" y="74.5" width="2.1" height="2.1"/><rect x="425.8" y="70.8" width="2.1" height="2.1"/><rect x="426.9" y="76.1" width="2.1" height="2.1"/><rect x="428.8" y="61.2" width="2.1" height="2.1"/><rect x="432.5" y="65.8" width="2.1" height="2.1"/><rect x="424.7" y="71.8" width="2.1" height="2.1"/><rect x="425.7" y="66.4" width="2.1" height="2.1"/><rect x="424.7" y="66.6" width="2.1" height="2.1"/><rect x="430.3" y="69.7" width="2.1" height="2.1"/><rect x="431.1" y="77.0" width="2.1" height="2.1"/><rect x="429.0" y="64.2" width="2.1" height="2.1"/><rect x="426.6" y="70.2" width="2.1" height="2.1"/><rect x="421.3" y="67.7" width="2.1" height="2.1"/><rect x="422.0" y="73.7" width="2.1" height="2.1"/><rect x="419.5" y="66.4" width="2.1" height="2.1"/><rect x="427.1" y="69.1" width="2.1" height="2.1"/><rect x="422.6" y="71.5" width="2.1" height="2.1"/><rect x="425.9" y="75.1" width="2.1" height="2.1"/><rect x="426.5" y="72.1" width="2.1" height="2.1"/><rect x="420.0" y="69.0" width="2.1" height="2.1"/><rect x="426.4" y="63.4" width="2.1" height="2.1"/><rect x="417.7" y="71.6" width="2.1" height="2.1"/><rect x="430.8" y="65.3" width="2.1" height="2.1"/><rect x="429.3" y="71.2" width="2.1" height="2.1"/><rect x="423.9" y="65.0" width="2.1" height="2.1"/><rect x="436.4" y="71.1" width="2.1" height="2.1"/><rect x="427.6" y="66.6" width="2.1" height="2.1"/><rect x="420.8" y="69.4" width="2.1" height="2.1"/><rect x="425.5" y="69.7" width="2.1" height="2.1"/><rect x="426.0" y="59.7" width="2.1" height="2.1"/><rect x="424.5" y="68.7" width="2.1" height="2.1"/><rect x="424.6" y="69.3" width="2.1" height="2.1"/><rect x="427.2" y="67.6" width="2.1" height="2.1"/><rect x="424.4" y="75.9" width="2.1" height="2.1"/><rect x="427.1" y="69.7" width="2.1" height="2.1"/><rect x="428.0" y="69.2" width="2.1" height="2.1"/><rect x="418.9" y="66.1" width="2.1" height="2.1"/><rect x="427.1" y="70.5" width="2.1" height="2.1"/><rect x="426.3" y="62.9" width="2.1" height="2.1"/><rect x="424.9" y="70.0" width="2.1" height="2.1"/><rect x="426.4" y="80.8" width="2.1" height="2.1"/><rect x="428.1" y="70.4" width="2.1" height="2.1"/><rect x="425.5" y="57.8" width="2.1" height="2.1"/><rect x="429.5" y="64.9" width="2.1" height="2.1"/><rect x="463.6" y="63.4" width="2.1" height="2.1"/><rect x="455.0" y="69.9" width="2.1" height="2.1"/><rect x="459.5" y="54.4" width="2.1" height="2.1"/><rect x="458.8" y="67.2" width="2.1" height="2.1"/><rect x="459.9" y="63.8" width="2.1" height="2.1"/><rect x="460.8" y="59.6" width="2.1" height="2.1"/><rect x="456.6" y="68.4" width="2.1" height="2.1"/><rect x="445.5" y="63.8" width="2.1" height="2.1"/><rect x="459.6" y="74.4" width="2.1" height="2.1"/><rect x="455.9" y="66.8" width="2.1" height="2.1"/><rect x="459.5" y="58.7" width="2.1" height="2.1"/><rect x="457.8" y="69.9" width="2.1" height="2.1"/><rect x="464.5" y="54.7" width="2.1" height="2.1"/><rect x="457.6" y="63.4" width="2.1" height="2.1"/><rect x="460.8" y="56.3" width="2.1" height="2.1"/><rect x="451.4" y="72.7" width="2.1" height="2.1"/><rect x="460.5" y="60.2" width="2.1" height="2.1"/><rect x="454.2" y="67.3" width="2.1" height="2.1"/><rect x="454.3" y="67.7" width="2.1" height="2.1"/><rect x="459.2" y="67.2" width="2.1" height="2.1"/><rect x="462.2" y="61.8" width="2.1" height="2.1"/><rect x="455.5" y="53.3" width="2.1" height="2.1"/><rect x="459.4" y="59.7" width="2.1" height="2.1"/><rect x="465.5" y="60.8" width="2.1" height="2.1"/><rect x="464.3" y="65.3" width="2.1" height="2.1"/><rect x="461.4" y="53.5" width="2.1" height="2.1"/><rect x="455.2" y="72.3" width="2.1" height="2.1"/><rect x="450.3" y="69.8" width="2.1" height="2.1"/><rect x="459.5" y="70.2" width="2.1" height="2.1"/><rect x="451.5" y="71.9" width="2.1" height="2.1"/><rect x="451.0" y="71.8" width="2.1" height="2.1"/><rect x="465.5" y="55.7" width="2.1" height="2.1"/><rect x="460.5" y="76.1" width="2.1" height="2.1"/><rect x="460.4" y="55.3" width="2.1" height="2.1"/><rect x="419.9" y="73.6" width="2.1" height="2.1"/><rect x="436.6" y="69.6" width="2.1" height="2.1"/><rect x="408.5" y="77.0" width="2.1" height="2.1"/><rect x="431.0" y="59.6" width="2.1" height="2.1"/><rect x="430.0" y="72.9" width="2.1" height="2.1"/><rect x="414.6" y="82.6" width="2.1" height="2.1"/><rect x="431.4" y="84.8" width="2.1" height="2.1"/><rect x="447.2" y="85.3" width="2.1" height="2.1"/><rect x="421.9" y="81.2" width="2.1" height="2.1"/><rect x="442.5" y="88.7" width="2.1" height="2.1"/><rect x="424.9" y="89.4" width="2.1" height="2.1"/><rect x="398.1" y="83.8" width="2.1" height="2.1"/><rect x="434.6" y="76.8" width="2.1" height="2.1"/><rect x="404.4" y="55.8" width="2.1" height="2.1"/><rect x="390.1" y="74.9" width="2.1" height="2.1"/><rect x="422.5" y="67.4" width="2.1" height="2.1"/><rect x="437.5" y="69.7" width="2.1" height="2.1"/><rect x="435.5" y="88.9" width="2.1" height="2.1"/><rect x="432.8" y="67.2" width="2.1" height="2.1"/><rect x="406.5" y="75.0" width="2.1" height="2.1"/><rect x="440.1" y="69.3" width="2.1" height="2.1"/><rect x="423.6" y="87.6" width="2.1" height="2.1"/><rect x="393.5" y="92.6" width="2.1" height="2.1"/><rect x="420.5" y="71.2" width="2.1" height="2.1"/><rect x="425.6" y="76.2" width="2.1" height="2.1"/><rect x="410.0" y="68.1" width="2.1" height="2.1"/><rect x="421.1" y="65.1" width="2.1" height="2.1"/><rect x="435.5" y="87.2" width="2.1" height="2.1"/><rect x="436.5" y="62.0" width="2.1" height="2.1"/><rect x="414.3" y="81.6" width="2.1" height="2.1"/><rect x="425.0" y="57.4" width="2.1" height="2.1"/><rect x="423.4" y="100.1" width="2.1" height="2.1"/><rect x="437.7" y="79.6" width="2.1" height="2.1"/><rect x="402.7" y="85.1" width="2.1" height="2.1"/><rect x="431.5" y="75.7" width="2.1" height="2.1"/><rect x="415.9" y="85.2" width="2.1" height="2.1"/><rect x="422.3" y="69.8" width="2.1" height="2.1"/><rect x="406.1" y="69.9" width="2.1" height="2.1"/><rect x="419.0" y="70.9" width="2.1" height="2.1"/><rect x="399.1" y="64.8" width="2.1" height="2.1"/><rect x="430.7" y="101.2" width="2.1" height="2.1"/><rect x="399.6" y="66.4" width="2.1" height="2.1"/><rect x="432.9" y="71.3" width="2.1" height="2.1"/><rect x="431.5" y="75.4" width="2.1" height="2.1"/><rect x="438.8" y="82.3" width="2.1" height="2.1"/><rect x="450.1" y="68.3" width="2.1" height="2.1"/><rect x="439.6" y="76.8" width="2.1" height="2.1"/><rect x="440.3" y="74.8" width="2.1" height="2.1"/><rect x="432.4" y="91.5" width="2.1" height="2.1"/><rect x="429.2" y="67.3" width="2.1" height="2.1"/><rect x="413.8" y="70.1" width="2.1" height="2.1"/><rect x="417.2" y="87.6" width="2.1" height="2.1"/><rect x="405.7" y="72.6" width="2.1" height="2.1"/><rect x="423.1" y="77.8" width="2.1" height="2.1"/><rect x="406.5" y="88.9" width="2.1" height="2.1"/><rect x="423.4" y="69.0" width="2.1" height="2.1"/><rect x="418.7" y="89.8" width="2.1" height="2.1"/><rect x="428.3" y="91.9" width="2.1" height="2.1"/><rect x="430.9" y="74.5" width="2.1" height="2.1"/><rect x="403.6" y="64.0" width="2.1" height="2.1"/><rect x="425.3" y="59.9" width="2.1" height="2.1"/><rect x="420.8" y="68.0" width="2.1" height="2.1"/><rect x="443.8" y="59.7" width="2.1" height="2.1"/><rect x="453.7" y="92.1" width="2.1" height="2.1"/><rect x="415.8" y="77.4" width="2.1" height="2.1"/><rect x="444.1" y="89.9" width="2.1" height="2.1"/><rect x="419.5" y="70.9" width="2.1" height="2.1"/><rect x="400.9" y="76.7" width="2.1" height="2.1"/><rect x="435.3" y="79.5" width="2.1" height="2.1"/><rect x="424.7" y="69.1" width="2.1" height="2.1"/><rect x="423.5" y="83.6" width="2.1" height="2.1"/><rect x="403.1" y="81.5" width="2.1" height="2.1"/><rect x="417.9" y="82.4" width="2.1" height="2.1"/><rect x="422.3" y="81.7" width="2.1" height="2.1"/><rect x="424.6" y="86.7" width="2.1" height="2.1"/><rect x="412.6" y="74.9" width="2.1" height="2.1"/><rect x="406.0" y="75.2" width="2.1" height="2.1"/><rect x="439.1" y="78.2" width="2.1" height="2.1"/><rect x="438.4" y="76.0" width="2.1" height="2.1"/><rect x="425.5" y="91.9" width="2.1" height="2.1"/><rect x="426.4" y="83.2" width="2.1" height="2.1"/><rect x="440.9" y="88.5" width="2.1" height="2.1"/><rect x="437.0" y="77.7" width="2.1" height="2.1"/><rect x="410.7" y="84.0" width="2.1" height="2.1"/><rect x="418.7" y="93.3" width="2.1" height="2.1"/><rect x="433.8" y="84.5" width="2.1" height="2.1"/><rect x="421.9" y="88.4" width="2.1" height="2.1"/><rect x="416.7" y="91.6" width="2.1" height="2.1"/><rect x="438.2" y="86.0" width="2.1" height="2.1"/><rect x="432.2" y="91.1" width="2.1" height="2.1"/><rect x="409.3" y="93.4" width="2.1" height="2.1"/><rect x="437.7" y="87.5" width="2.1" height="2.1"/><rect x="432.5" y="86.7" width="2.1" height="2.1"/><rect x="422.8" y="89.3" width="2.1" height="2.1"/><rect x="426.5" y="86.7" width="2.1" height="2.1"/><rect x="439.7" y="83.0" width="2.1" height="2.1"/><rect x="422.0" y="91.7" width="2.1" height="2.1"/><rect x="421.4" y="87.4" width="2.1" height="2.1"/><rect x="419.3" y="92.9" width="2.1" height="2.1"/><rect x="426.9" y="89.6" width="2.1" height="2.1"/><rect x="434.3" y="86.0" width="2.1" height="2.1"/><rect x="434.4" y="88.4" width="2.1" height="2.1"/><rect x="442.7" y="83.4" width="2.1" height="2.1"/><rect x="413.9" y="92.1" width="2.1" height="2.1"/><rect x="405.4" y="50.3" width="2.1" height="2.1"/><rect x="451.4" y="55.2" width="2.1" height="2.1"/><rect x="408.0" y="50.2" width="2.1" height="2.1"/><rect x="410.7" y="88.0" width="2.1" height="2.1"/><rect x="445.0" y="97.9" width="2.1" height="2.1"/><rect x="462.0" y="77.8" width="2.1" height="2.1"/><rect x="460.1" y="52.0" width="2.1" height="2.1"/><rect x="460.3" y="71.3" width="2.1" height="2.1"/><rect x="405.4" y="88.8" width="2.1" height="2.1"/><rect x="455.3" y="68.6" width="2.1" height="2.1"/><rect x="397.9" y="95.8" width="2.1" height="2.1"/><rect x="447.5" y="80.4" width="2.1" height="2.1"/><rect x="464.2" y="49.1" width="2.1" height="2.1"/><rect x="395.1" y="53.9" width="2.1" height="2.1"/><rect x="392.6" y="86.6" width="2.1" height="2.1"/><rect x="443.9" y="104.0" width="2.1" height="2.1"/><rect x="446.9" y="111.0" width="2.1" height="2.1"/><rect x="449.9" y="117.0" width="2.1" height="2.1"/><rect x="438.9" y="99.0" width="2.1" height="2.1"/><rect x="296.8" y="130.9" width="2.1" height="2.1"/><rect x="296.8" y="131.1" width="2.1" height="2.1"/><rect x="296.4" y="140.6" width="2.1" height="2.1"/><rect x="296.5" y="133.3" width="2.1" height="2.1"/><rect x="297.5" y="133.6" width="2.1" height="2.1"/><rect x="296.9" y="132.0" width="2.1" height="2.1"/><rect x="297.1" y="140.9" width="2.1" height="2.1"/><rect x="298.3" y="137.4" width="2.1" height="2.1"/><rect x="297.1" y="130.8" width="2.1" height="2.1"/><rect x="297.2" y="133.2" width="2.1" height="2.1"/></g>
<rect x="362.8" y="31.0" width="45.3" height="17.6" fill="#fff" stroke="#e2e2e2" stroke-width="0.7"/>
<path d="M362.8,48.4 Q385.5,47.0 408.1,48.4 L408.1,52.6 Q385.5,48.0 362.8,52.6 Z" fill="url(#sg)"/>
<text x="385.0" y="41.3" font-size="7.5" font-weight="bold" text-anchor="middle" fill="#b03040" textLength="33.6" lengthAdjust="spacingAndGlyphs">C<tspan font-size="4.5" dy="1">EC</tspan><tspan dy="-1"> = 0.86</tspan></text>
<rect x="426.0" y="155.6" width="44.6" height="17.3" fill="#fff" stroke="#e2e2e2" stroke-width="0.7"/>
<path d="M426.0,172.7 Q448.3,171.3 470.6,172.7 L470.6,176.9 Q448.3,172.3 426.0,176.9 Z" fill="url(#sg)"/>
<text x="447.9" y="166.5" font-size="7.5" font-weight="bold" text-anchor="middle" fill="#222" textLength="32.1" lengthAdjust="spacingAndGlyphs">C<tspan font-size="4.5" dy="1">AI</tspan><tspan dy="-1"> =0.56</tspan></text>
<text x="21.0" y="241.0" font-size="17" font-weight="bold" text-anchor="middle" fill="#000" >B</text>
<line x1="45.6" y1="300.3" x2="45.6" y2="298.5" stroke="#000" stroke-width="1.3" />
<line x1="43.9" y1="298.9" x2="47.4" y2="298.9" stroke="#000" stroke-width="1.3" />
<rect x="41.0" y="300.8" width="9.3" height="46.4" fill="#c6c6c6" stroke="#000" stroke-width="1.1"/>
<line x1="55.9" y1="306.4" x2="55.9" y2="300.3" stroke="#000" stroke-width="1.3" />
<line x1="54.1" y1="300.7" x2="57.7" y2="300.7" stroke="#000" stroke-width="1.3" />
<rect x="50.5" y="306.4" width="10.8" height="40.8" fill="#000"/>
<line x1="66.2" y1="301.3" x2="66.2" y2="297.1" stroke="#000" stroke-width="1.3" />
<line x1="64.5" y1="297.5" x2="68.0" y2="297.5" stroke="#000" stroke-width="1.3" />
<rect x="60.9" y="301.2" width="10.8" height="46.0" fill="#000"/>
<line x1="76.6" y1="308.8" x2="76.6" y2="299.4" stroke="#000" stroke-width="1.3" />
<line x1="74.8" y1="299.8" x2="78.4" y2="299.8" stroke="#000" stroke-width="1.3" />
<rect x="71.2" y="308.7" width="10.8" height="38.5" fill="#000"/>
<text x="41.9" y="357.7" font-size="7.2" font-weight="bold" text-anchor="middle" fill="#000" >0</text>
<text x="51.5" y="357.7" font-size="7.2" font-weight="bold" text-anchor="middle" fill="#000" >4</text>
<text x="63.6" y="357.7" font-size="7.2" font-weight="bold" text-anchor="middle" fill="#000" >12</text>
<text x="76.2" y="357.7" font-size="7.2" font-weight="bold" text-anchor="middle" fill="#000" >24</text>
<line x1="41.2" y1="360.2" x2="78.8" y2="360.2" stroke="#000" stroke-width="1.3" />
<text x="60.0" y="369.4" font-size="10" font-weight="bold" text-anchor="middle" fill="#000" >β-actin</text>
<line x1="96.5" y1="300.3" x2="96.5" y2="298.5" stroke="#000" stroke-width="1.3" />
<line x1="94.7" y1="298.9" x2="98.3" y2="298.9" stroke="#000" stroke-width="1.3" />
<rect x="91.8" y="300.8" width="9.3" height="46.4" fill="#c6c6c6" stroke="#000" stroke-width="1.1"/>
<line x1="106.8" y1="300.8" x2="106.8" y2="298.5" stroke="#000" stroke-width="1.3" />
<line x1="105.0" y1="298.9" x2="108.6" y2="298.9" stroke="#000" stroke-width="1.3" />
<rect x="101.4" y="300.8" width="10.8" height="46.4" fill="#000"/>
<line x1="117.1" y1="303.6" x2="117.1" y2="301.8" stroke="#000" stroke-width="1.3" />
<line x1="115.3" y1="302.2" x2="118.9" y2="302.2" stroke="#000" stroke-width="1.3" />
<rect x="111.7" y="303.6" width="10.8" height="43.6" fill="#000"/>
<line x1="127.4" y1="298.5" x2="127.4" y2="287.2" stroke="#000" stroke-width="1.3" />
<line x1="125.6" y1="287.6" x2="129.2" y2="287.6" stroke="#000" stroke-width="1.3" />
<rect x="122.0" y="298.4" width="10.8" height="48.8" fill="#000"/>
<text x="93.3" y="357.7" font-size="7.2" font-weight="bold" text-anchor="middle" fill="#000" >0</text>
<text x="103.0" y="357.7" font-size="7.2" font-weight="bold" text-anchor="middle" fill="#000" >4</text>
<text x="115.1" y="357.7" font-size="7.2" font-weight="bold" text-anchor="middle" fill="#000" >12</text>
<text x="127.6" y="357.7" font-size="7.2" font-weight="bold" text-anchor="middle" fill="#000" >24</text>
<line x1="92.7" y1="360.2" x2="130.2" y2="360.2" stroke="#000" stroke-width="1.3" />
<text x="111.5" y="369.4" font-size="10" font-weight="bold" text-anchor="middle" fill="#000" >CD31</text>
<line x1="147.3" y1="300.3" x2="147.3" y2="299.9" stroke="#000" stroke-width="1.3" />
<line x1="145.5" y1="300.3" x2="149.2" y2="300.3" stroke="#000" stroke-width="1.3" />
<rect x="142.7" y="300.8" width="9.3" height="46.4" fill="#c6c6c6" stroke="#000" stroke-width="1.1"/>
<line x1="157.7" y1="313.5" x2="157.7" y2="310.7" stroke="#000" stroke-width="1.3" />
<line x1="155.8" y1="311.1" x2="159.5" y2="311.1" stroke="#000" stroke-width="1.3" />
<rect x="152.2" y="313.4" width="10.8" height="33.8" fill="#000"/>
<line x1="167.9" y1="327.5" x2="167.9" y2="327.1" stroke="#000" stroke-width="1.3" />
<line x1="166.1" y1="327.5" x2="169.8" y2="327.5" stroke="#000" stroke-width="1.3" />
<rect x="162.5" y="327.5" width="10.8" height="19.7" fill="#000"/>
<line x1="178.2" y1="325.6" x2="178.2" y2="325.2" stroke="#000" stroke-width="1.3" />
<line x1="176.4" y1="325.6" x2="180.1" y2="325.6" stroke="#000" stroke-width="1.3" />
<rect x="172.8" y="325.6" width="10.8" height="21.6" fill="#000"/>
<text x="144.8" y="357.7" font-size="7.2" font-weight="bold" text-anchor="middle" fill="#000" >0</text>
<text x="154.4" y="357.7" font-size="7.2" font-weight="bold" text-anchor="middle" fill="#000" >4</text>
<text x="166.6" y="357.7" font-size="7.2" font-weight="bold" text-anchor="middle" fill="#000" >12</text>
<text x="179.1" y="357.7" font-size="7.2" font-weight="bold" text-anchor="middle" fill="#000" >24</text>
<line x1="144.1" y1="360.2" x2="181.7" y2="360.2" stroke="#000" stroke-width="1.3" />
<text x="161.4" y="369.4" font-size="10" font-weight="bold" text-anchor="middle" fill="#000" >ERG</text>
<line x1="198.2" y1="300.3" x2="198.2" y2="296.6" stroke="#000" stroke-width="1.3" />
<line x1="196.4" y1="297.0" x2="200.0" y2="297.0" stroke="#000" stroke-width="1.3" />
<rect x="193.6" y="300.8" width="9.3" height="46.4" fill="#c6c6c6" stroke="#000" stroke-width="1.1"/>
<line x1="208.5" y1="297.5" x2="208.5" y2="292.9" stroke="#000" stroke-width="1.3" />
<line x1="206.7" y1="293.3" x2="210.3" y2="293.3" stroke="#000" stroke-width="1.3" />
<rect x="203.1" y="297.5" width="10.8" height="49.7" fill="#000"/>
<line x1="218.8" y1="279.3" x2="218.8" y2="273.6" stroke="#000" stroke-width="1.3" />
<line x1="217.0" y1="274.0" x2="220.6" y2="274.0" stroke="#000" stroke-width="1.3" />
<rect x="213.4" y="279.2" width="10.8" height="68.0" fill="#000"/>
<line x1="229.1" y1="298.0" x2="229.1" y2="296.6" stroke="#000" stroke-width="1.3" />
<line x1="227.3" y1="297.0" x2="230.9" y2="297.0" stroke="#000" stroke-width="1.3" />
<rect x="223.7" y="298.0" width="10.8" height="49.2" fill="#000"/>
<text x="196.3" y="357.7" font-size="7.2" font-weight="bold" text-anchor="middle" fill="#000" >0</text>
<text x="205.9" y="357.7" font-size="7.2" font-weight="bold" text-anchor="middle" fill="#000" >4</text>
<text x="218.0" y="357.7" font-size="7.2" font-weight="bold" text-anchor="middle" fill="#000" >12</text>
<text x="230.5" y="357.7" font-size="7.2" font-weight="bold" text-anchor="middle" fill="#000" >24</text>
<line x1="195.6" y1="360.2" x2="233.2" y2="360.2" stroke="#000" stroke-width="1.3" />
<text x="215.3" y="369.4" font-size="10" font-weight="bold" text-anchor="middle" fill="#000" >Fli-1</text>
<line x1="249.1" y1="300.3" x2="249.1" y2="298.0" stroke="#000" stroke-width="1.3" />
<line x1="247.2" y1="298.4" x2="250.9" y2="298.4" stroke="#000" stroke-width="1.3" />
<rect x="244.4" y="300.8" width="9.3" height="46.4" fill="#c6c6c6" stroke="#000" stroke-width="1.1"/>
<line x1="259.4" y1="306.0" x2="259.4" y2="305.5" stroke="#000" stroke-width="1.3" />
<line x1="257.6" y1="305.9" x2="261.2" y2="305.9" stroke="#000" stroke-width="1.3" />
<rect x="254.0" y="305.9" width="10.8" height="41.3" fill="#000"/>
<line x1="269.6" y1="312.5" x2="269.6" y2="309.7" stroke="#000" stroke-width="1.3" />
<line x1="267.8" y1="310.1" x2="271.4" y2="310.1" stroke="#000" stroke-width="1.3" />
<rect x="264.2" y="312.5" width="10.8" height="34.7" fill="#000"/>
<line x1="279.9" y1="322.4" x2="279.9" y2="321.4" stroke="#000" stroke-width="1.3" />
<line x1="278.1" y1="321.8" x2="281.8" y2="321.8" stroke="#000" stroke-width="1.3" />
<rect x="274.6" y="322.3" width="10.8" height="24.9" fill="#000"/>
<text x="247.7" y="357.7" font-size="7.2" font-weight="bold" text-anchor="middle" fill="#000" >0</text>
<text x="257.3" y="357.7" font-size="7.2" font-weight="bold" text-anchor="middle" fill="#000" >4</text>
<text x="269.4" y="357.7" font-size="7.2" font-weight="bold" text-anchor="middle" fill="#000" >12</text>
<text x="281.9" y="357.7" font-size="7.2" font-weight="bold" text-anchor="middle" fill="#000" >24</text>
<line x1="247.0" y1="360.2" x2="284.6" y2="360.2" stroke="#000" stroke-width="1.3" />
<text x="268.8" y="369.4" font-size="10" font-weight="bold" text-anchor="middle" fill="#000" >vWF</text>
<text x="23.1" y="357.7" font-size="7.2" font-weight="bold" text-anchor="middle" fill="#000" textLength="21.2" lengthAdjust="spacingAndGlyphs" >Hours</text>
<rect x="40.50" y="253.30" width="245.00" height="93.90" fill="none" stroke="#111" stroke-width="1.3"/>
<line x1="37.5" y1="253.5" x2="40.5" y2="253.5" stroke="#000" stroke-width="1.1" />
<text x="32.9" y="256.9" font-size="9.4" font-weight="normal" text-anchor="end" fill="#000" >2</text>
<line x1="37.5" y1="276.9" x2="40.5" y2="276.9" stroke="#000" stroke-width="1.1" />
<text x="32.9" y="280.3" font-size="9.4" font-weight="normal" text-anchor="end" fill="#000" >1.5</text>
<line x1="37.5" y1="300.3" x2="40.5" y2="300.3" stroke="#000" stroke-width="1.1" />
<text x="32.9" y="303.7" font-size="9.4" font-weight="normal" text-anchor="end" fill="#000" >1</text>
<line x1="37.5" y1="323.8" x2="40.5" y2="323.8" stroke="#000" stroke-width="1.1" />
<text x="32.9" y="327.2" font-size="9.4" font-weight="normal" text-anchor="end" fill="#000" >0.5</text>
<line x1="37.5" y1="347.2" x2="40.5" y2="347.2" stroke="#000" stroke-width="1.1" />
<text x="32.9" y="350.6" font-size="9.4" font-weight="normal" text-anchor="end" fill="#000" >0</text>
<text x="9.8" y="300.5" font-size="8.6" font-weight="normal" text-anchor="middle" fill="#000" textLength="50.0" lengthAdjust="spacingAndGlyphs" transform="rotate(-90 9.8 300.5)" >Fold change</text>
<text x="291.7" y="242.0" font-size="17" font-weight="bold" text-anchor="middle" fill="#000" >C</text>
<line x1="366.7" y1="355.4" x2="366.7" y2="354.3" stroke="#000" stroke-width="1.3" />
<line x1="364.7" y1="354.7" x2="368.7" y2="354.7" stroke="#000" stroke-width="1.3" />
<rect x="355.5" y="355.9" width="22.6" height="4.0" fill="#fff" stroke="#000" stroke-width="1.1"/>
<line x1="399.8" y1="293.0" x2="399.8" y2="271.8" stroke="#000" stroke-width="1.3" />
<line x1="397.8" y1="272.2" x2="401.8" y2="272.2" stroke="#000" stroke-width="1.3" />
<rect x="387.8" y="292.9" width="24.1" height="67.0" fill="#000"/>
<line x1="432.8" y1="343.1" x2="432.8" y2="331.7" stroke="#000" stroke-width="1.3" />
<line x1="430.8" y1="332.1" x2="434.8" y2="332.1" stroke="#000" stroke-width="1.3" />
<rect x="421.6" y="343.6" width="22.6" height="16.3" fill="#c6c6c6" stroke="#000" stroke-width="1.1"/>
<line x1="465.8" y1="322.4" x2="465.8" y2="312.8" stroke="#000" stroke-width="1.3" />
<line x1="463.8" y1="313.2" x2="467.8" y2="313.2" stroke="#000" stroke-width="1.3" />
<rect x="453.9" y="322.4" width="24.1" height="37.6" fill="#000"/>
<line x1="498.9" y1="346.5" x2="498.9" y2="345.5" stroke="#000" stroke-width="1.3" />
<line x1="496.9" y1="345.9" x2="500.9" y2="345.9" stroke="#000" stroke-width="1.3" />
<rect x="487.7" y="347.0" width="22.6" height="12.9" fill="#c6c6c6" stroke="#000" stroke-width="1.1"/>
<rect x="350.30" y="248.65" width="165.60" height="111.30" fill="none" stroke="#111" stroke-width="1.3"/>
<line x1="348.3" y1="359.9" x2="350.3" y2="359.9" stroke="#000" stroke-width="1.1" />
<text x="340.0" y="359.9" font-size="8.3" font-weight="normal" text-anchor="middle" fill="#000" transform="rotate(-90 340.0 359.9)" >0</text>
<line x1="348.3" y1="337.7" x2="350.3" y2="337.7" stroke="#000" stroke-width="1.1" />
<text x="340.0" y="337.7" font-size="8.3" font-weight="normal" text-anchor="middle" fill="#000" transform="rotate(-90 340.0 337.7)" >50</text>
<line x1="348.3" y1="315.4" x2="350.3" y2="315.4" stroke="#000" stroke-width="1.1" />
<text x="340.0" y="315.4" font-size="8.3" font-weight="normal" text-anchor="middle" fill="#000" transform="rotate(-90 340.0 315.4)" >100</text>
<line x1="348.3" y1="293.2" x2="350.3" y2="293.2" stroke="#000" stroke-width="1.1" />
<text x="340.0" y="293.2" font-size="8.3" font-weight="normal" text-anchor="middle" fill="#000" transform="rotate(-90 340.0 293.2)" >150</text>
<line x1="348.3" y1="270.9" x2="350.3" y2="270.9" stroke="#000" stroke-width="1.1" />
<text x="340.0" y="270.9" font-size="8.3" font-weight="normal" text-anchor="middle" fill="#000" transform="rotate(-90 340.0 270.9)" >200</text>
<line x1="348.3" y1="248.6" x2="350.3" y2="248.6" stroke="#000" stroke-width="1.1" />
<text x="340.0" y="248.6" font-size="8.3" font-weight="normal" text-anchor="middle" fill="#000" transform="rotate(-90 340.0 248.6)" >250</text>
<text x="327.3" y="303.5" font-size="10" font-weight="bold" text-anchor="middle" fill="#000" textLength="65.0" lengthAdjust="spacingAndGlyphs" transform="rotate(-90 327.3 303.5)" >Relative units</text>
<text x="369.4" y="371.0" font-size="9.2" font-weight="bold" text-anchor="middle" fill="#000" >1%</text>
<text x="369.4" y="378.4" font-size="9.2" font-weight="bold" text-anchor="middle" fill="#000" >input</text>
<text x="402.5" y="371.0" font-size="9.2" font-weight="bold" text-anchor="middle" fill="#000" >ERG</text>
<text x="402.5" y="378.4" font-size="9.2" font-weight="bold" text-anchor="middle" fill="#000" >IgG</text>
<text x="433.5" y="371.0" font-size="9.2" font-weight="bold" text-anchor="middle" fill="#000" >CTR</text>
<text x="433.5" y="378.4" font-size="9.2" font-weight="bold" text-anchor="middle" fill="#000" >IgG</text>
<text x="466.3" y="371.0" font-size="9.2" font-weight="bold" text-anchor="middle" fill="#000" >ERG</text>
<text x="466.3" y="378.4" font-size="9.2" font-weight="bold" text-anchor="middle" fill="#000" >IgG</text>
<text x="497.5" y="371.0" font-size="9.2" font-weight="bold" text-anchor="middle" fill="#000" >CTR</text>
<text x="497.5" y="378.4" font-size="9.2" font-weight="bold" text-anchor="middle" fill="#000" >IgG</text>
<line x1="383.3" y1="382.2" x2="449.0" y2="382.2" stroke="#000" stroke-width="1.2" />
<line x1="450.8" y1="382.2" x2="516.5" y2="382.2" stroke="#000" stroke-width="1.2" />
<text x="417.9" y="391.7" font-size="9.5" font-weight="bold" text-anchor="middle" fill="#000" >-TNF-α</text>
<text x="482.6" y="391.7" font-size="9.5" font-weight="bold" text-anchor="middle" fill="#000" >+TNF-α</text>
<line x1="350.3" y1="359.9" x2="350.3" y2="362.5" stroke="#000" stroke-width="1.1" />
<line x1="383.3" y1="359.9" x2="383.3" y2="362.5" stroke="#000" stroke-width="1.1" />
<line x1="416.4" y1="359.9" x2="416.4" y2="362.5" stroke="#000" stroke-width="1.1" />
<line x1="449.4" y1="359.9" x2="449.4" y2="362.5" stroke="#000" stroke-width="1.1" />
<line x1="482.5" y1="359.9" x2="482.5" y2="362.5" stroke="#000" stroke-width="1.1" />
<path d="M389,263 V256.9 H466.7 V260.5" stroke="#000" stroke-width="1.2" fill="none" />
<path d="M389,260.3 H426.3 V263.5" stroke="#000" stroke-width="1.2" fill="none" />
<path d="M470.2,263.8 V260.5 H507.1 V263.8" stroke="#000" stroke-width="1.2" fill="none" />
<polygon points="419.30,261.40 420.27,263.07 422.15,263.47 420.87,264.91 421.06,266.83 419.30,266.05 417.54,266.83 417.73,264.91 416.45,263.47 418.33,263.07" fill="#000"/>
<polygon points="462.90,258.30 463.87,259.97 465.75,260.37 464.47,261.81 464.66,263.73 462.90,262.95 461.14,263.73 461.33,261.81 460.05,260.37 461.93,259.97" fill="#000"/>
<polygon points="500.60,261.50 501.57,263.17 503.45,263.57 502.17,265.01 502.36,266.93 500.60,266.15 498.84,266.93 499.03,265.01 497.75,263.57 499.63,263.17" fill="#000"/>
<text x="21.9" y="403.0" font-size="17" font-weight="bold" text-anchor="middle" fill="#000" >D</text>
<line x1="113.3" y1="430.4" x2="113.3" y2="421.5" stroke="#000" stroke-width="1.3" />
<line x1="111.3" y1="421.9" x2="115.3" y2="421.9" stroke="#000" stroke-width="1.3" />
<rect x="101.9" y="430.9" width="22.8" height="97.8" fill="#c6c6c6" stroke="#000" stroke-width="1.1"/>
<line x1="149.2" y1="454.9" x2="149.2" y2="448.0" stroke="#000" stroke-width="1.3" />
<line x1="147.2" y1="448.4" x2="151.2" y2="448.4" stroke="#000" stroke-width="1.3" />
<rect x="137.1" y="454.9" width="24.3" height="73.7" fill="#000"/>
<line x1="185.1" y1="456.9" x2="185.1" y2="448.0" stroke="#000" stroke-width="1.3" />
<line x1="183.1" y1="448.4" x2="187.1" y2="448.4" stroke="#000" stroke-width="1.3" />
<rect x="173.7" y="457.4" width="22.8" height="71.2" fill="#c6c6c6" stroke="#000" stroke-width="1.1"/>
<line x1="221.0" y1="469.7" x2="221.0" y2="462.8" stroke="#000" stroke-width="1.3" />
<line x1="219.0" y1="463.2" x2="223.0" y2="463.2" stroke="#000" stroke-width="1.3" />
<rect x="208.8" y="469.6" width="24.3" height="59.0" fill="#000"/>
<rect x="96.00" y="410.60" width="142.40" height="118.00" fill="none" stroke="#111" stroke-width="1.3"/>
<line x1="238.4" y1="528.6" x2="238.4" y2="531.4" stroke="#000" stroke-width="1.1" />
<line x1="131.2" y1="528.6" x2="131.2" y2="531.4" stroke="#000" stroke-width="1.1" />
<line x1="167.2" y1="528.6" x2="167.2" y2="531.4" stroke="#000" stroke-width="1.1" />
<line x1="203.1" y1="528.6" x2="203.1" y2="531.4" stroke="#000" stroke-width="1.1" />
<line x1="93.4" y1="410.7" x2="96.0" y2="410.7" stroke="#000" stroke-width="1.1" />
<text x="84.4" y="414.0" font-size="9" font-weight="bold" text-anchor="end" fill="#000" textLength="14.2" lengthAdjust="spacingAndGlyphs" >1.2</text>
<line x1="93.4" y1="450.0" x2="96.0" y2="450.0" stroke="#000" stroke-width="1.1" />
<text x="84.4" y="453.3" font-size="9" font-weight="bold" text-anchor="end" fill="#000" textLength="14.2" lengthAdjust="spacingAndGlyphs" >0.8</text>
<line x1="93.4" y1="489.3" x2="96.0" y2="489.3" stroke="#000" stroke-width="1.1" />
<text x="84.4" y="492.6" font-size="9" font-weight="bold" text-anchor="end" fill="#000" textLength="14.2" lengthAdjust="spacingAndGlyphs" >0.4</text>
<line x1="93.4" y1="528.6" x2="96.0" y2="528.6" stroke="#000" stroke-width="1.1" />
<text x="84.4" y="531.9" font-size="9" font-weight="bold" text-anchor="end" fill="#000" textLength="14.2" lengthAdjust="spacingAndGlyphs" >0.0</text>
<text x="63.4" y="472.0" font-size="9.6" font-weight="bold" text-anchor="middle" fill="#000" textLength="120.0" lengthAdjust="spacingAndGlyphs" transform="rotate(-90 63.4 472.0)" >Relative promoter activity</text>
<text x="114.5" y="544.4" font-size="9" font-weight="bold" text-anchor="middle" fill="#000" textLength="23.0" lengthAdjust="spacingAndGlyphs" >-TNF</text>
<text x="149.2" y="544.4" font-size="9" font-weight="bold" text-anchor="middle" fill="#000" textLength="23.1" lengthAdjust="spacingAndGlyphs" >+TNF</text>
<text x="185.9" y="544.4" font-size="9" font-weight="bold" text-anchor="middle" fill="#000" textLength="21.6" lengthAdjust="spacingAndGlyphs" >-TNF</text>
<text x="220.5" y="544.4" font-size="9" font-weight="bold" text-anchor="middle" fill="#000" textLength="24.5" lengthAdjust="spacingAndGlyphs" >+TNF</text>
<line x1="92.9" y1="546.4" x2="167.3" y2="546.4" stroke="#000" stroke-width="1.3" />
<line x1="172.2" y1="546.4" x2="237.1" y2="546.4" stroke="#000" stroke-width="1.3" />
<text x="132.0" y="556.0" font-size="9" font-weight="bold" text-anchor="middle" fill="#000" textLength="22.0" lengthAdjust="spacingAndGlyphs" >vWF2</text>
<text x="203.4" y="556.0" font-size="9" font-weight="bold" text-anchor="middle" fill="#000" textLength="46.3" lengthAdjust="spacingAndGlyphs" >vWF2-ETSm</text>
<path d="M103.2,421.3 V415.4 H180.3 V418.2" stroke="#000" stroke-width="1.2" fill="none" />
<path d="M103.2,418.2 H136.5 V420.7" stroke="#000" stroke-width="1.2" fill="none" />
<path d="M187.3,421.3 V418.5 H221.2 V421.3" stroke="#000" stroke-width="1.2" fill="none" />
<polygon points="131.00,420.30 131.97,421.97 133.85,422.37 132.57,423.81 132.76,425.73 131.00,424.95 129.24,425.73 129.43,423.81 128.15,422.37 130.03,421.97" fill="#000"/>
<polygon points="174.60,417.40 175.57,419.07 177.45,419.47 176.17,420.91 176.36,422.83 174.60,422.05 172.84,422.83 173.03,420.91 171.75,419.47 173.63,419.07" fill="#000"/>
<text x="213.1" y="426.8" font-size="11" font-weight="bold" text-anchor="middle" fill="#000" textLength="13.8" lengthAdjust="spacingAndGlyphs" >n/s</text>
<text x="291.6" y="403.0" font-size="17" font-weight="bold" text-anchor="middle" fill="#000" >E</text>
<line x1="418.2" y1="400.1" x2="418.2" y2="562.0" stroke="#000" stroke-width="1.1" stroke-dasharray="3.8,3.6" stroke-dashoffset="2.6"/>
<line x1="351.8" y1="449.5" x2="351.8" y2="442.6" stroke="#000" stroke-width="1.3" />
<line x1="349.8" y1="443.0" x2="353.8" y2="443.0" stroke="#000" stroke-width="1.3" />
<rect x="343.7" y="450.0" width="16.2" height="91.6" fill="#fff" stroke="#000" stroke-width="1.1"/>
<line x1="378.5" y1="446.9" x2="378.5" y2="436.0" stroke="#000" stroke-width="1.3" />
<line x1="376.5" y1="436.4" x2="380.5" y2="436.4" stroke="#000" stroke-width="1.3" />
<rect x="370.4" y="447.4" width="16.2" height="94.2" fill="#c6c6c6" stroke="#000" stroke-width="1.1"/>
<line x1="405.2" y1="524.0" x2="405.2" y2="522.7" stroke="#000" stroke-width="1.3" />
<line x1="403.2" y1="523.1" x2="407.2" y2="523.1" stroke="#000" stroke-width="1.3" />
<rect x="396.3" y="523.9" width="17.7" height="17.7" fill="#000"/>
<line x1="431.9" y1="453.2" x2="431.9" y2="444.8" stroke="#000" stroke-width="1.3" />
<line x1="429.9" y1="445.2" x2="433.9" y2="445.2" stroke="#000" stroke-width="1.3" />
<rect x="423.8" y="453.7" width="16.2" height="87.9" fill="#fff" stroke="#000" stroke-width="1.1"/>
<line x1="458.6" y1="446.6" x2="458.6" y2="441.2" stroke="#000" stroke-width="1.3" />
<line x1="456.6" y1="441.6" x2="460.6" y2="441.6" stroke="#000" stroke-width="1.3" />
<rect x="450.5" y="447.1" width="16.2" height="94.5" fill="#c6c6c6" stroke="#000" stroke-width="1.1"/>
<line x1="485.3" y1="506.3" x2="485.3" y2="500.7" stroke="#000" stroke-width="1.3" />
<line x1="483.3" y1="501.1" x2="487.3" y2="501.1" stroke="#000" stroke-width="1.3" />
<rect x="476.4" y="506.3" width="17.7" height="35.3" fill="#000"/>
<rect x="338.70" y="400.10" width="159.65" height="141.50" fill="none" stroke="#111" stroke-width="1.3"/>
<line x1="498.4" y1="541.6" x2="498.4" y2="544.5" stroke="#000" stroke-width="1.1" />
<line x1="336.0" y1="400.1" x2="338.7" y2="400.1" stroke="#000" stroke-width="1.1" />
<text x="331.1" y="403.5" font-size="9.5" font-weight="bold" text-anchor="end" fill="#000" textLength="13.6" lengthAdjust="spacingAndGlyphs" >1.5</text>
<line x1="336.0" y1="447.3" x2="338.7" y2="447.3" stroke="#000" stroke-width="1.1" />
<text x="331.1" y="450.7" font-size="9.5" font-weight="bold" text-anchor="end" fill="#000" >1</text>
<line x1="336.0" y1="494.4" x2="338.7" y2="494.4" stroke="#000" stroke-width="1.1" />
<text x="331.1" y="497.8" font-size="9.5" font-weight="bold" text-anchor="end" fill="#000" textLength="13.6" lengthAdjust="spacingAndGlyphs" >0.5</text>
<line x1="336.0" y1="541.6" x2="338.7" y2="541.6" stroke="#000" stroke-width="1.1" />
<text x="331.1" y="545.0" font-size="9.5" font-weight="bold" text-anchor="end" fill="#000" >0</text>
<text x="310.3" y="469.4" font-size="10.4" font-weight="bold" text-anchor="middle" fill="#000" textLength="61.2" lengthAdjust="spacingAndGlyphs" transform="rotate(-90 310.3 469.4)" >Fold change</text>
<text x="379.3" y="418.4" font-size="9.5" font-weight="bold" text-anchor="middle" fill="#000" >ERG</text>
<text x="459.7" y="418.4" font-size="9.5" font-weight="bold" text-anchor="middle" fill="#000" >vWF</text>
<polygon points="404.70,512.10 405.28,513.10 406.41,513.34 405.64,514.21 405.76,515.36 404.70,514.89 403.64,515.36 403.76,514.21 402.99,513.34 404.12,513.10" fill="#000"/>
<polygon points="404.70,516.00 405.28,517.00 406.41,517.24 405.64,518.11 405.76,519.26 404.70,518.79 403.64,519.26 403.76,518.11 402.99,517.24 404.12,517.00" fill="#000"/>
<polygon points="485.70,493.30 486.28,494.30 487.41,494.54 486.64,495.41 486.76,496.56 485.70,496.09 484.64,496.56 484.76,495.41 483.99,494.54 485.12,494.30" fill="#000"/>
<text x="351.2" y="553.5" font-size="8.5" font-weight="bold" text-anchor="middle" fill="#000" >NT</text>
<text x="375.7" y="553.0" font-size="8.5" font-weight="bold" text-anchor="middle" fill="#000" >CTR</text>
<text x="375.7" y="562.4" font-size="8.5" font-weight="bold" text-anchor="middle" fill="#000" >siRNA</text>
<text x="403.5" y="553.0" font-size="8.5" font-weight="bold" text-anchor="middle" fill="#000" >ERG</text>
<text x="403.5" y="562.4" font-size="8.5" font-weight="bold" text-anchor="middle" fill="#000" >siRNA</text>
<text x="432.8" y="553.5" font-size="8.5" font-weight="bold" text-anchor="middle" fill="#000" >NT</text>
<text x="458.6" y="553.0" font-size="8.5" font-weight="bold" text-anchor="middle" fill="#000" >CTR</text>
<text x="458.6" y="562.4" font-size="8.5" font-weight="bold" text-anchor="middle" fill="#000" >siRNA</text>
<text x="485.5" y="553.0" font-size="8.5" font-weight="bold" text-anchor="middle" fill="#000" >ERG</text>
<text x="485.5" y="562.4" font-size="8.5" font-weight="bold" text-anchor="middle" fill="#000" >siRNA</text>
<line x1="338.7" y1="541.6" x2="338.7" y2="544.5" stroke="#000" stroke-width="1.1" />
<line x1="365.1" y1="541.6" x2="365.1" y2="544.5" stroke="#000" stroke-width="1.1" />
<line x1="391.9" y1="541.6" x2="391.9" y2="544.5" stroke="#000" stroke-width="1.1" />
<line x1="445.2" y1="541.6" x2="445.2" y2="544.5" stroke="#000" stroke-width="1.1" />
<line x1="471.9" y1="541.6" x2="471.9" y2="544.5" stroke="#000" stroke-width="1.1" />
<text x="291.9" y="563.1" font-size="17" font-weight="bold" text-anchor="middle" fill="#000" >G</text>
<line x1="353.3" y1="629.1" x2="353.3" y2="622.7" stroke="#000" stroke-width="1.3" />
<line x1="351.3" y1="623.1" x2="355.3" y2="623.1" stroke="#000" stroke-width="1.3" />
<rect x="345.8" y="629.6" width="15.0" height="94.2" fill="#fff" stroke="#000" stroke-width="1.1"/>
<line x1="377.7" y1="610.8" x2="377.7" y2="603.9" stroke="#000" stroke-width="1.3" />
<line x1="375.7" y1="604.3" x2="379.7" y2="604.3" stroke="#000" stroke-width="1.3" />
<rect x="370.2" y="611.2" width="15.0" height="112.5" fill="#c6c6c6" stroke="#000" stroke-width="1.1"/>
<line x1="402.0" y1="673.2" x2="402.0" y2="670.2" stroke="#000" stroke-width="1.3" />
<line x1="400.0" y1="670.6" x2="404.0" y2="670.6" stroke="#000" stroke-width="1.3" />
<rect x="393.8" y="673.2" width="16.5" height="50.6" fill="#000"/>
<line x1="426.4" y1="652.3" x2="426.4" y2="646.9" stroke="#000" stroke-width="1.3" />
<line x1="424.4" y1="647.3" x2="428.4" y2="647.3" stroke="#000" stroke-width="1.3" />
<rect x="418.9" y="652.8" width="15.0" height="70.9" fill="#fff" stroke="#000" stroke-width="1.1"/>
<line x1="450.7" y1="651.2" x2="450.7" y2="643.2" stroke="#000" stroke-width="1.3" />
<line x1="448.7" y1="643.6" x2="452.7" y2="643.6" stroke="#000" stroke-width="1.3" />
<rect x="443.2" y="651.7" width="15.0" height="72.0" fill="#c6c6c6" stroke="#000" stroke-width="1.1"/>
<line x1="475.1" y1="676.9" x2="475.1" y2="673.9" stroke="#000" stroke-width="1.3" />
<line x1="473.1" y1="674.3" x2="477.1" y2="674.3" stroke="#000" stroke-width="1.3" />
<rect x="466.8" y="676.8" width="16.5" height="46.9" fill="#000"/>
<rect x="341.40" y="588.00" width="145.90" height="135.90" fill="none" stroke="#111" stroke-width="1.3"/>
<line x1="338.3" y1="588.1" x2="341.4" y2="588.1" stroke="#000" stroke-width="1.1" />
<text x="333.9" y="591.5" font-size="9.5" font-weight="bold" text-anchor="end" fill="#000" textLength="15.9" lengthAdjust="spacingAndGlyphs" >1.2</text>
<line x1="338.3" y1="633.4" x2="341.4" y2="633.4" stroke="#000" stroke-width="1.1" />
<text x="333.9" y="636.8" font-size="9.5" font-weight="bold" text-anchor="end" fill="#000" textLength="15.9" lengthAdjust="spacingAndGlyphs" >0.8</text>
<line x1="338.3" y1="678.5" x2="341.4" y2="678.5" stroke="#000" stroke-width="1.1" />
<text x="333.9" y="681.9" font-size="9.5" font-weight="bold" text-anchor="end" fill="#000" textLength="15.9" lengthAdjust="spacingAndGlyphs" >0.4</text>
<line x1="338.3" y1="723.8" x2="341.4" y2="723.8" stroke="#000" stroke-width="1.1" />
<text x="333.9" y="727.1" font-size="9.5" font-weight="bold" text-anchor="end" fill="#000" >0</text>
<text x="311.5" y="655.7" font-size="10.4" font-weight="bold" text-anchor="middle" fill="#000" textLength="60.9" lengthAdjust="spacingAndGlyphs" transform="rotate(-90 311.5 655.7)" >Fold change</text>
<text x="349.8" y="735.0" font-size="8.2" font-weight="bold" text-anchor="middle" fill="#000" >NT</text>
<text x="373.7" y="735.0" font-size="8.2" font-weight="bold" text-anchor="middle" fill="#000" >CTR</text>
<text x="373.7" y="744.5" font-size="8.2" font-weight="bold" text-anchor="middle" fill="#000" >siRNA</text>
<text x="404.0" y="735.0" font-size="8.2" font-weight="bold" text-anchor="middle" fill="#000" >ERG</text>
<text x="404.0" y="744.5" font-size="8.2" font-weight="bold" text-anchor="middle" fill="#000" >siRNA</text>
<text x="426.2" y="735.0" font-size="8.2" font-weight="bold" text-anchor="middle" fill="#000" >NT</text>
<text x="449.7" y="735.0" font-size="8.2" font-weight="bold" text-anchor="middle" fill="#000" >CTR</text>
<text x="449.7" y="744.5" font-size="8.2" font-weight="bold" text-anchor="middle" fill="#000" >siRNA</text>
<text x="480.8" y="735.0" font-size="8.2" font-weight="bold" text-anchor="middle" fill="#000" >ERG</text>
<text x="480.8" y="744.5" font-size="8.2" font-weight="bold" text-anchor="middle" fill="#000" >siRNA</text>
<line x1="341.0" y1="747.5" x2="417.7" y2="747.5" stroke="#000" stroke-width="1.2" />
<line x1="420.2" y1="747.5" x2="494.5" y2="747.5" stroke="#000" stroke-width="1.2" />
<text x="373.8" y="757.5" font-size="8.5" font-weight="bold" text-anchor="middle" fill="#000" >vWF2</text>
<text x="454.8" y="757.5" font-size="8.5" font-weight="bold" text-anchor="middle" fill="#000" textLength="48.0" lengthAdjust="spacingAndGlyphs" >vWF2-ETSm</text>
<path d="M407.2,596.6 V593.7 H470.4 V596.5" stroke="#000" stroke-width="1.1" fill="none" />
<path d="M385.6,599.8 V596.6 H444.8 V600" stroke="#000" stroke-width="1.1" fill="none" />
<path d="M381.8,606.2 V603.4 H401.4 V606" stroke="#000" stroke-width="1.1" fill="none" />
<path d="M451.2,609.6 V606.9 H470.4 V609.6" stroke="#000" stroke-width="1.1" fill="none" />
<polygon points="442.30,597.50 443.27,599.17 445.15,599.57 443.87,601.01 444.06,602.93 442.30,602.15 440.54,602.93 440.73,601.01 439.45,599.57 441.33,599.17" fill="#000"/>
<polygon points="392.60,603.90 393.57,605.57 395.45,605.97 394.17,607.41 394.36,609.33 392.60,608.55 390.84,609.33 391.03,607.41 389.75,605.97 391.63,605.57" fill="#000"/>
<polygon points="397.80,603.90 398.77,605.57 400.65,605.97 399.37,607.41 399.56,609.33 397.80,608.55 396.04,609.33 396.23,607.41 394.95,605.97 396.83,605.57" fill="#000"/>
<polygon points="467.10,607.50 468.07,609.17 469.95,609.57 468.67,611.01 468.86,612.93 467.10,612.15 465.34,612.93 465.53,611.01 464.25,609.57 466.13,609.17" fill="#000"/>
<text x="461.6" y="602.7" font-size="10.5" font-weight="bold" text-anchor="middle" fill="#000" textLength="13.2" lengthAdjust="spacingAndGlyphs" >n/s</text>
<text x="21.0" y="563.2" font-size="18" font-weight="bold" text-anchor="middle" fill="#000" >F</text>
<text x="184.6" y="591.5" font-size="14" font-weight="bold" text-anchor="middle" fill="#000" textLength="41.6" lengthAdjust="spacingAndGlyphs" >siRNA</text>
<line x1="150.6" y1="597.0" x2="223.8" y2="597.0" stroke="#000" stroke-width="1.8" />
<text x="87.7" y="608.5" font-size="13" font-weight="bold" text-anchor="middle" fill="#000" textLength="26.2" lengthAdjust="spacingAndGlyphs" >WB:</text>
<text x="130.0" y="616.2" font-size="14" font-weight="bold" text-anchor="middle" fill="#000" textLength="18.4" lengthAdjust="spacingAndGlyphs" >NT</text>
<text x="166.1" y="616.2" font-size="14" font-weight="bold" text-anchor="middle" fill="#000" textLength="29.3" lengthAdjust="spacingAndGlyphs" >CTR</text>
<text x="203.8" y="616.2" font-size="14" font-weight="bold" text-anchor="middle" fill="#000" textLength="30.7" lengthAdjust="spacingAndGlyphs" >ERG</text>
<text x="105.2" y="639.5" font-size="15.3" font-weight="bold" text-anchor="end" fill="#000" textLength="33.2" lengthAdjust="spacingAndGlyphs" >ERG</text>
<text x="104.9" y="675.1" font-size="15.5" font-weight="bold" text-anchor="end" fill="#000" textLength="56.0" lengthAdjust="spacingAndGlyphs" >Tubulin</text>
<text x="105.6" y="710.1" font-size="15.4" font-weight="bold" text-anchor="end" fill="#000" textLength="43.7" lengthAdjust="spacingAndGlyphs" >PCNA</text>
<defs><filter id="bl" x="-20%" y="-50%" width="140%" height="200%"><feGaussianBlur stdDeviation="0.9"/></filter><filter id="bl2" x="-20%" y="-80%" width="140%" height="260%"><feGaussianBlur stdDeviation="0.9"/></filter></defs>
<rect x="108.8" y="621.6" width="115.6" height="30.8" fill="#ededed" stroke="#222" stroke-width="1.5"/>
<rect x="108.8" y="657.6" width="115.6" height="30.8" fill="#ededed" stroke="#222" stroke-width="1.5"/>
<rect x="108.8" y="693.6" width="115.6" height="30.8" fill="#ededed" stroke="#222" stroke-width="1.5"/>
<g filter="url(#bl2)">
<rect x="118.0" y="635.0" width="27.0" height="5.5" fill="#c2c2c2"/>
<rect x="117.5" y="631.2" width="28.0" height="4.3" fill="#6c6c6c"/>
<rect x="152.0" y="635.5" width="27.5" height="5.5" fill="#a8a8a8"/>
<rect x="151.3" y="630.9" width="28.6" height="5.6" fill="#242424"/>
</g>
<g filter="url(#bl)">
<path d="M118.4,667.7 Q121.4,669.5 133.95,669.8 Q146.5,669.5 149.5,667.7 L149.5,675 Q149.5,677 146.5,677 L121.4,677 Q118.4,677 118.4,675 Z" stroke="#151515" stroke-width="0" fill="#151515" />
<path d="M152,668.0 Q155,669.5 167.9,669.8 Q180.8,669.5 183.8,667.7 L183.8,675 Q183.8,677 180.8,677 L155,677 Q152,677 152,675 Z" stroke="#151515" stroke-width="0" fill="#151515" />
<path d="M186.7,668.0 Q189.7,669.5 202.35,669.8 Q215,669.5 218,666.3 L218,675 Q218,677 215,677 L189.7,677 Q186.7,677 186.7,675 Z" stroke="#151515" stroke-width="0" fill="#151515" />
</g>
<g filter="url(#bl)">
<rect x="118.0" y="709.5" width="27.0" height="4.2" fill="#a8a8a8"/>
<rect x="117.0" y="704.4" width="31.8" height="5.6" fill="#2a2a2a"/>
<rect x="150.7" y="704.4" width="32.4" height="5.6" fill="#2a2a2a"/>
<rect x="185.0" y="704.7" width="32.5" height="5.0" fill="#2a2a2a"/>
</g>
</svg></body></html>
